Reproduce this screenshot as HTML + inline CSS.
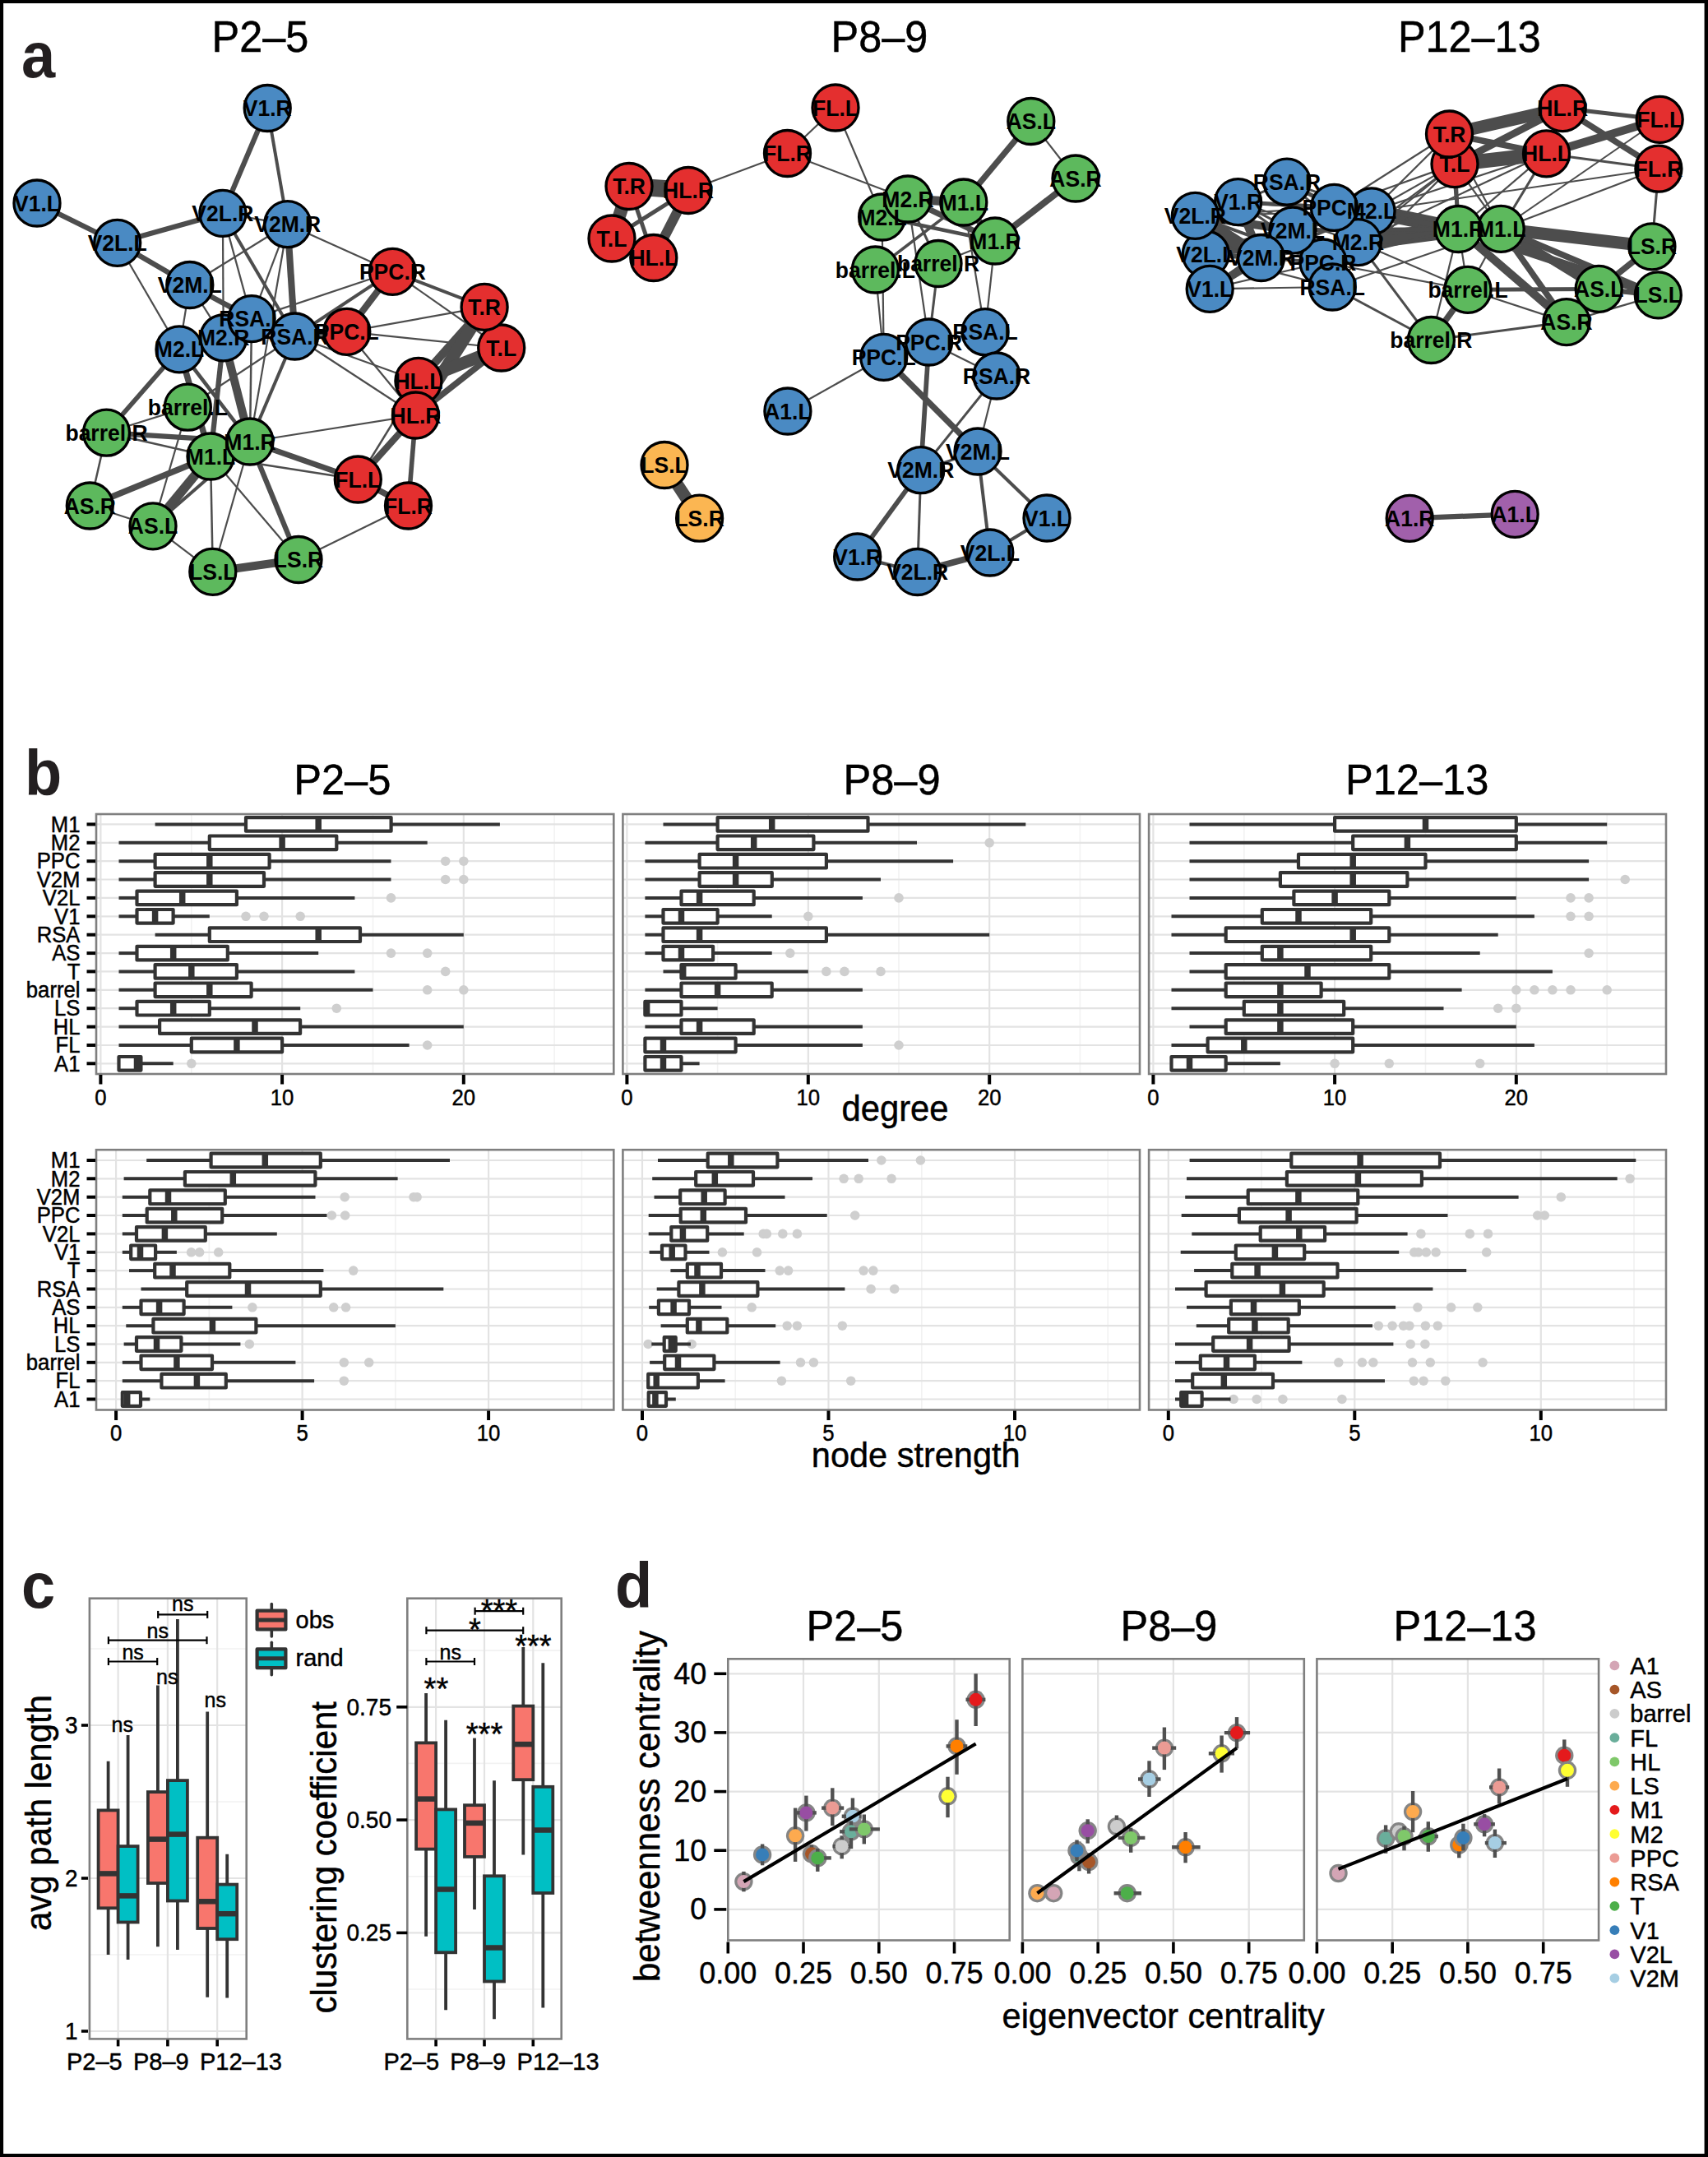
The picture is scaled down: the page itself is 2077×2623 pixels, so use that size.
<!DOCTYPE html>
<html><head><meta charset="utf-8"><style>
html,body{margin:0;padding:0;background:#fff;}
svg{display:block;font-family:"Liberation Sans", sans-serif;}
</style></head><body>
<svg width="2077" height="2623" viewBox="0 0 2077 2623">
<rect x="0" y="0" width="2077" height="2623" fill="#fff"/>
<text transform="translate(26.0,94.0) scale(1,1.042)" font-size="74" text-anchor="start" font-weight="bold" fill="#231f20" >a</text>
<text transform="translate(30.0,967.0) scale(1,1.042)" font-size="74" text-anchor="start" font-weight="bold" fill="#231f20" >b</text>
<text transform="translate(26.0,1955.0) scale(1,1.042)" font-size="74" text-anchor="start" font-weight="bold" fill="#231f20" >c</text>
<text transform="translate(748.0,1955.0) scale(1,1.042)" font-size="74" text-anchor="start" font-weight="bold" fill="#231f20" >d</text>
<text transform="translate(316.4,63.3) scale(1,1.05)" font-size="50.4" text-anchor="middle" font-weight="normal" fill="#000" stroke="#000" stroke-width="0.45" >P2–5</text>
<text transform="translate(1069.4,63.3) scale(1,1.05)" font-size="50.4" text-anchor="middle" font-weight="normal" fill="#000" stroke="#000" stroke-width="0.45" >P8–9</text>
<text transform="translate(1786.8,63.3) scale(1,1.05)" font-size="50.4" text-anchor="middle" font-weight="normal" fill="#000" stroke="#000" stroke-width="0.45" >P12–13</text>
<text transform="translate(416.3,966.3) scale(1,1.04)" font-size="50.6" text-anchor="middle" font-weight="normal" fill="#000" stroke="#000" stroke-width="0.45" >P2–5</text>
<text transform="translate(1084.5,966.3) scale(1,1.04)" font-size="50.6" text-anchor="middle" font-weight="normal" fill="#000" stroke="#000" stroke-width="0.45" >P8–9</text>
<text transform="translate(1723.1,966.3) scale(1,1.04)" font-size="50.6" text-anchor="middle" font-weight="normal" fill="#000" stroke="#000" stroke-width="0.45" >P12–13</text>
<text transform="translate(1039.4,1994.5) scale(1,1.04)" font-size="50.5" text-anchor="middle" font-weight="normal" fill="#000" stroke="#000" stroke-width="0.45" >P2–5</text>
<text transform="translate(1421.5,1994.5) scale(1,1.04)" font-size="50.5" text-anchor="middle" font-weight="normal" fill="#000" stroke="#000" stroke-width="0.45" >P8–9</text>
<text transform="translate(1781.5,1994.5) scale(1,1.04)" font-size="50.5" text-anchor="middle" font-weight="normal" fill="#000" stroke="#000" stroke-width="0.45" >P12–13</text>
<g>
<line x1="45.0" y1="247.0" x2="142.7" y2="295.3" stroke="#4d4d4d" stroke-width="6.25" />
<line x1="142.7" y1="295.3" x2="270.9" y2="259.4" stroke="#4d4d4d" stroke-width="6.25" />
<line x1="142.7" y1="295.3" x2="230.8" y2="346.5" stroke="#4d4d4d" stroke-width="6.25" />
<line x1="142.7" y1="295.3" x2="218.0" y2="424.9" stroke="#4d4d4d" stroke-width="2.2" />
<line x1="270.9" y1="259.4" x2="325.2" y2="131.5" stroke="#4d4d4d" stroke-width="6.25" />
<line x1="325.2" y1="131.5" x2="349.7" y2="272.7" stroke="#4d4d4d" stroke-width="4.0" />
<line x1="270.9" y1="259.4" x2="349.7" y2="272.7" stroke="#4d4d4d" stroke-width="2.2" />
<line x1="270.9" y1="259.4" x2="271.7" y2="410.8" stroke="#4d4d4d" stroke-width="2.2" />
<line x1="270.9" y1="259.4" x2="306.0" y2="387.6" stroke="#4d4d4d" stroke-width="2.2" />
<line x1="270.9" y1="259.4" x2="358.5" y2="409.0" stroke="#4d4d4d" stroke-width="4.0" />
<line x1="349.7" y1="272.7" x2="230.8" y2="346.5" stroke="#4d4d4d" stroke-width="2.2" />
<line x1="349.7" y1="272.7" x2="306.0" y2="387.6" stroke="#4d4d4d" stroke-width="2.2" />
<line x1="349.7" y1="272.7" x2="304.0" y2="537.0" stroke="#4d4d4d" stroke-width="2.2" />
<line x1="349.7" y1="272.7" x2="358.5" y2="409.0" stroke="#4d4d4d" stroke-width="8.12" />
<line x1="349.7" y1="272.7" x2="477.4" y2="330.3" stroke="#4d4d4d" stroke-width="2.2" />
<line x1="230.8" y1="346.5" x2="306.0" y2="387.6" stroke="#4d4d4d" stroke-width="6.25" />
<line x1="230.8" y1="346.5" x2="218.0" y2="424.9" stroke="#4d4d4d" stroke-width="2.2" />
<line x1="230.8" y1="346.5" x2="271.7" y2="410.8" stroke="#4d4d4d" stroke-width="2.2" />
<line x1="230.8" y1="346.5" x2="358.5" y2="409.0" stroke="#4d4d4d" stroke-width="2.2" />
<line x1="218.0" y1="424.9" x2="129.5" y2="526.2" stroke="#4d4d4d" stroke-width="5.62" />
<line x1="218.0" y1="424.9" x2="256.0" y2="555.0" stroke="#4d4d4d" stroke-width="7.5" />
<line x1="218.0" y1="424.9" x2="304.0" y2="537.0" stroke="#4d4d4d" stroke-width="4.5" />
<line x1="271.7" y1="410.8" x2="256.0" y2="555.0" stroke="#4d4d4d" stroke-width="6.25" />
<line x1="271.7" y1="410.8" x2="304.0" y2="537.0" stroke="#4d4d4d" stroke-width="10.0" />
<line x1="306.0" y1="387.6" x2="304.0" y2="537.0" stroke="#4d4d4d" stroke-width="2.5" />
<line x1="358.5" y1="409.0" x2="304.0" y2="537.0" stroke="#4d4d4d" stroke-width="4.0" />
<line x1="358.5" y1="409.0" x2="228.3" y2="495.2" stroke="#4d4d4d" stroke-width="2.2" />
<line x1="129.5" y1="526.2" x2="228.3" y2="495.2" stroke="#4d4d4d" stroke-width="2.2" />
<line x1="129.5" y1="526.2" x2="304.0" y2="537.0" stroke="#4d4d4d" stroke-width="6.25" />
<line x1="129.5" y1="526.2" x2="256.0" y2="555.0" stroke="#4d4d4d" stroke-width="2.5" />
<line x1="129.5" y1="526.2" x2="109.3" y2="615.0" stroke="#4d4d4d" stroke-width="2.5" />
<line x1="304.0" y1="537.0" x2="505.5" y2="505.0" stroke="#4d4d4d" stroke-width="2.2" />
<line x1="304.0" y1="537.0" x2="435.3" y2="583.0" stroke="#4d4d4d" stroke-width="6.88" />
<line x1="256.0" y1="555.0" x2="435.3" y2="583.0" stroke="#4d4d4d" stroke-width="2.5" />
<line x1="477.4" y1="330.3" x2="358.5" y2="409.0" stroke="#4d4d4d" stroke-width="4.0" />
<line x1="477.4" y1="330.3" x2="306.0" y2="387.6" stroke="#4d4d4d" stroke-width="2.2" />
<line x1="477.4" y1="330.3" x2="421.8" y2="403.3" stroke="#4d4d4d" stroke-width="8.12" />
<line x1="477.4" y1="330.3" x2="589.1" y2="373.4" stroke="#4d4d4d" stroke-width="4.0" />
<line x1="477.4" y1="330.3" x2="609.7" y2="423.0" stroke="#4d4d4d" stroke-width="2.2" />
<line x1="421.8" y1="403.3" x2="589.1" y2="373.4" stroke="#4d4d4d" stroke-width="2.2" />
<line x1="421.8" y1="403.3" x2="609.7" y2="423.0" stroke="#4d4d4d" stroke-width="2.2" />
<line x1="358.5" y1="409.0" x2="508.9" y2="463.3" stroke="#4d4d4d" stroke-width="2.2" />
<line x1="358.5" y1="409.0" x2="505.5" y2="505.0" stroke="#4d4d4d" stroke-width="2.2" />
<line x1="421.8" y1="403.3" x2="505.5" y2="505.0" stroke="#4d4d4d" stroke-width="2.2" />
<line x1="589.1" y1="373.4" x2="508.9" y2="463.3" stroke="#4d4d4d" stroke-width="10.0" />
<line x1="589.1" y1="373.4" x2="505.5" y2="505.0" stroke="#4d4d4d" stroke-width="15.0" />
<line x1="609.7" y1="423.0" x2="508.9" y2="463.3" stroke="#4d4d4d" stroke-width="15.0" />
<line x1="609.7" y1="423.0" x2="505.5" y2="505.0" stroke="#4d4d4d" stroke-width="7.5" />
<line x1="505.5" y1="505.0" x2="435.3" y2="583.0" stroke="#4d4d4d" stroke-width="8.12" />
<line x1="508.9" y1="463.3" x2="435.3" y2="583.0" stroke="#4d4d4d" stroke-width="2.5" />
<line x1="505.5" y1="505.0" x2="496.5" y2="615.0" stroke="#4d4d4d" stroke-width="5.62" />
<line x1="435.3" y1="583.0" x2="496.5" y2="615.0" stroke="#4d4d4d" stroke-width="7.5" />
<line x1="109.3" y1="615.0" x2="256.0" y2="555.0" stroke="#4d4d4d" stroke-width="7.5" />
<line x1="109.3" y1="615.0" x2="186.0" y2="639.8" stroke="#4d4d4d" stroke-width="2.2" />
<line x1="186.0" y1="639.8" x2="256.0" y2="555.0" stroke="#4d4d4d" stroke-width="11.25" />
<line x1="186.0" y1="639.8" x2="304.0" y2="537.0" stroke="#4d4d4d" stroke-width="4.0" />
<line x1="186.0" y1="639.8" x2="228.3" y2="495.2" stroke="#4d4d4d" stroke-width="2.2" />
<line x1="186.0" y1="639.8" x2="258.8" y2="695.3" stroke="#4d4d4d" stroke-width="2.2" />
<line x1="256.0" y1="555.0" x2="258.8" y2="695.3" stroke="#4d4d4d" stroke-width="2.5" />
<line x1="304.0" y1="537.0" x2="258.8" y2="695.3" stroke="#4d4d4d" stroke-width="2.2" />
<line x1="256.0" y1="555.0" x2="363.0" y2="680.5" stroke="#4d4d4d" stroke-width="2.2" />
<line x1="304.0" y1="537.0" x2="363.0" y2="680.5" stroke="#4d4d4d" stroke-width="6.25" />
<line x1="258.8" y1="695.3" x2="363.0" y2="680.5" stroke="#4d4d4d" stroke-width="10.0" />
<line x1="363.0" y1="680.5" x2="496.5" y2="615.0" stroke="#4d4d4d" stroke-width="2.2" />
<line x1="306.0" y1="387.6" x2="358.5" y2="409.0" stroke="#4d4d4d" stroke-width="3" />
<line x1="589.1" y1="373.4" x2="609.7" y2="423.0" stroke="#4d4d4d" stroke-width="5.0" />
<line x1="508.9" y1="463.3" x2="505.5" y2="505.0" stroke="#4d4d4d" stroke-width="5.0" />
<line x1="358.5" y1="409.0" x2="421.8" y2="403.3" stroke="#4d4d4d" stroke-width="5.0" />
</g>
<circle cx="186.0" cy="639.8" r="28.0" fill="#5db95d" stroke="#000" stroke-width="3.3" />
<circle cx="109.3" cy="615.0" r="28.0" fill="#5db95d" stroke="#000" stroke-width="3.3" />
<circle cx="228.3" cy="495.2" r="28.0" fill="#5db95d" stroke="#000" stroke-width="3.3" />
<circle cx="129.5" cy="526.2" r="28.0" fill="#5db95d" stroke="#000" stroke-width="3.3" />
<circle cx="435.3" cy="583.0" r="28.0" fill="#e42f2f" stroke="#000" stroke-width="3.3" />
<circle cx="496.5" cy="615.0" r="28.0" fill="#e42f2f" stroke="#000" stroke-width="3.3" />
<circle cx="508.9" cy="463.3" r="28.0" fill="#e42f2f" stroke="#000" stroke-width="3.3" />
<circle cx="505.5" cy="505.0" r="28.0" fill="#e42f2f" stroke="#000" stroke-width="3.3" />
<circle cx="258.8" cy="695.3" r="28.0" fill="#5db95d" stroke="#000" stroke-width="3.3" />
<circle cx="363.0" cy="680.5" r="28.0" fill="#5db95d" stroke="#000" stroke-width="3.3" />
<circle cx="256.0" cy="555.0" r="28.0" fill="#5db95d" stroke="#000" stroke-width="3.3" />
<circle cx="304.0" cy="537.0" r="28.0" fill="#5db95d" stroke="#000" stroke-width="3.3" />
<circle cx="218.0" cy="424.9" r="28.0" fill="#4a8ac3" stroke="#000" stroke-width="3.3" />
<circle cx="271.7" cy="410.8" r="28.0" fill="#4a8ac3" stroke="#000" stroke-width="3.3" />
<circle cx="421.8" cy="403.3" r="28.0" fill="#e42f2f" stroke="#000" stroke-width="3.3" />
<circle cx="477.4" cy="330.3" r="28.0" fill="#e42f2f" stroke="#000" stroke-width="3.3" />
<circle cx="306.0" cy="387.6" r="28.0" fill="#4a8ac3" stroke="#000" stroke-width="3.3" />
<circle cx="358.5" cy="409.0" r="28.0" fill="#4a8ac3" stroke="#000" stroke-width="3.3" />
<circle cx="609.7" cy="423.0" r="28.0" fill="#e42f2f" stroke="#000" stroke-width="3.3" />
<circle cx="589.1" cy="373.4" r="28.0" fill="#e42f2f" stroke="#000" stroke-width="3.3" />
<circle cx="45.0" cy="247.0" r="28.0" fill="#4a8ac3" stroke="#000" stroke-width="3.3" />
<circle cx="325.2" cy="131.5" r="28.0" fill="#4a8ac3" stroke="#000" stroke-width="3.3" />
<circle cx="142.7" cy="295.3" r="28.0" fill="#4a8ac3" stroke="#000" stroke-width="3.3" />
<circle cx="270.9" cy="259.4" r="28.0" fill="#4a8ac3" stroke="#000" stroke-width="3.3" />
<circle cx="230.8" cy="346.5" r="28.0" fill="#4a8ac3" stroke="#000" stroke-width="3.3" />
<circle cx="349.7" cy="272.7" r="28.0" fill="#4a8ac3" stroke="#000" stroke-width="3.3" />
<text transform="translate(325.2,141.0) scale(1,1.042)" font-size="26.5" text-anchor="middle" font-weight="bold" fill="#000" >V1.R</text>
<text transform="translate(45.0,256.5) scale(1,1.042)" font-size="26.5" text-anchor="middle" font-weight="bold" fill="#000" >V1.L</text>
<text transform="translate(270.9,268.9) scale(1,1.042)" font-size="26.5" text-anchor="middle" font-weight="bold" fill="#000" >V2L.R</text>
<text transform="translate(349.7,282.2) scale(1,1.042)" font-size="26.5" text-anchor="middle" font-weight="bold" fill="#000" >V2M.R</text>
<text transform="translate(142.7,304.8) scale(1,1.042)" font-size="26.5" text-anchor="middle" font-weight="bold" fill="#000" >V2L.L</text>
<text transform="translate(230.8,356.0) scale(1,1.042)" font-size="26.5" text-anchor="middle" font-weight="bold" fill="#000" >V2M.L</text>
<text transform="translate(477.4,339.8) scale(1,1.042)" font-size="26.5" text-anchor="middle" font-weight="bold" fill="#000" >PPC.R</text>
<text transform="translate(589.1,382.9) scale(1,1.042)" font-size="26.5" text-anchor="middle" font-weight="bold" fill="#000" >T.R</text>
<text transform="translate(306.0,397.1) scale(1,1.042)" font-size="26.5" text-anchor="middle" font-weight="bold" fill="#000" >RSA.L</text>
<text transform="translate(271.7,420.3) scale(1,1.042)" font-size="26.5" text-anchor="middle" font-weight="bold" fill="#000" >M2.R</text>
<text transform="translate(358.5,418.5) scale(1,1.042)" font-size="26.5" text-anchor="middle" font-weight="bold" fill="#000" >RSA.R</text>
<text transform="translate(421.8,412.8) scale(1,1.042)" font-size="26.5" text-anchor="middle" font-weight="bold" fill="#000" >PPC.L</text>
<text transform="translate(218.0,434.4) scale(1,1.042)" font-size="26.5" text-anchor="middle" font-weight="bold" fill="#000" >M2.L</text>
<text transform="translate(609.7,432.5) scale(1,1.042)" font-size="26.5" text-anchor="middle" font-weight="bold" fill="#000" >T.L</text>
<text transform="translate(508.9,472.8) scale(1,1.042)" font-size="26.5" text-anchor="middle" font-weight="bold" fill="#000" >HL.L</text>
<text transform="translate(505.5,514.5) scale(1,1.042)" font-size="26.5" text-anchor="middle" font-weight="bold" fill="#000" >HL.R</text>
<text transform="translate(228.3,504.7) scale(1,1.042)" font-size="26.5" text-anchor="middle" font-weight="bold" fill="#000" >barrel.L</text>
<text transform="translate(129.5,535.7) scale(1,1.042)" font-size="26.5" text-anchor="middle" font-weight="bold" fill="#000" >barrel.R</text>
<text transform="translate(304.0,546.5) scale(1,1.042)" font-size="26.5" text-anchor="middle" font-weight="bold" fill="#000" >M1.R</text>
<text transform="translate(256.0,564.5) scale(1,1.042)" font-size="26.5" text-anchor="middle" font-weight="bold" fill="#000" >M1.L</text>
<text transform="translate(435.3,592.5) scale(1,1.042)" font-size="26.5" text-anchor="middle" font-weight="bold" fill="#000" >FL.L</text>
<text transform="translate(496.5,624.5) scale(1,1.042)" font-size="26.5" text-anchor="middle" font-weight="bold" fill="#000" >FL.R</text>
<text transform="translate(109.3,624.5) scale(1,1.042)" font-size="26.5" text-anchor="middle" font-weight="bold" fill="#000" >AS.R</text>
<text transform="translate(186.0,649.3) scale(1,1.042)" font-size="26.5" text-anchor="middle" font-weight="bold" fill="#000" >AS.L</text>
<text transform="translate(258.8,704.8) scale(1,1.042)" font-size="26.5" text-anchor="middle" font-weight="bold" fill="#000" >LS.L</text>
<text transform="translate(363.0,690.0) scale(1,1.042)" font-size="26.5" text-anchor="middle" font-weight="bold" fill="#000" >LS.R</text>
<g>
<line x1="1016.0" y1="131.0" x2="957.5" y2="186.5" stroke="#4d4d4d" stroke-width="2.2" />
<line x1="1016.0" y1="131.0" x2="1072.6" y2="264.0" stroke="#4d4d4d" stroke-width="2.2" />
<line x1="957.5" y1="186.5" x2="837.0" y2="231.5" stroke="#4d4d4d" stroke-width="2.2" />
<line x1="957.5" y1="186.5" x2="1104.0" y2="242.0" stroke="#4d4d4d" stroke-width="2.2" />
<line x1="765.0" y1="226.5" x2="837.0" y2="231.5" stroke="#4d4d4d" stroke-width="21" />
<line x1="765.0" y1="226.5" x2="744.0" y2="290.0" stroke="#4d4d4d" stroke-width="16" />
<line x1="765.0" y1="226.5" x2="794.8" y2="313.5" stroke="#4d4d4d" stroke-width="5" />
<line x1="744.0" y1="290.0" x2="837.0" y2="231.5" stroke="#4d4d4d" stroke-width="5" />
<line x1="837.0" y1="231.5" x2="794.8" y2="313.5" stroke="#4d4d4d" stroke-width="12" />
<line x1="1253.8" y1="147.5" x2="1308.0" y2="217.0" stroke="#4d4d4d" stroke-width="2.2" />
<line x1="1253.8" y1="147.5" x2="1171.8" y2="246.0" stroke="#4d4d4d" stroke-width="7.4" />
<line x1="1308.0" y1="217.0" x2="1210.0" y2="293.0" stroke="#4d4d4d" stroke-width="8" />
<line x1="1104.0" y1="242.0" x2="1171.8" y2="246.0" stroke="#4d4d4d" stroke-width="11" />
<line x1="1104.0" y1="242.0" x2="1210.0" y2="293.0" stroke="#4d4d4d" stroke-width="7" />
<line x1="1072.6" y1="264.0" x2="1210.0" y2="293.0" stroke="#4d4d4d" stroke-width="4.5" />
<line x1="1171.8" y1="246.0" x2="1064.4" y2="328.0" stroke="#4d4d4d" stroke-width="3.5" />
<line x1="1104.0" y1="242.0" x2="1141.0" y2="320.5" stroke="#4d4d4d" stroke-width="3" />
<line x1="1210.0" y1="293.0" x2="1141.0" y2="320.5" stroke="#4d4d4d" stroke-width="2.2" />
<line x1="1072.6" y1="264.0" x2="1074.7" y2="434.4" stroke="#4d4d4d" stroke-width="2.2" />
<line x1="1064.4" y1="328.0" x2="1074.7" y2="434.4" stroke="#4d4d4d" stroke-width="2.2" />
<line x1="1104.0" y1="242.0" x2="1129.6" y2="416.0" stroke="#4d4d4d" stroke-width="2.2" />
<line x1="1141.0" y1="320.5" x2="1129.6" y2="416.0" stroke="#4d4d4d" stroke-width="3" />
<line x1="1171.8" y1="246.0" x2="1198.0" y2="403.7" stroke="#4d4d4d" stroke-width="2.2" />
<line x1="1210.0" y1="293.0" x2="1198.0" y2="403.7" stroke="#4d4d4d" stroke-width="2.2" />
<line x1="1129.6" y1="416.0" x2="1212.0" y2="457.0" stroke="#4d4d4d" stroke-width="2.5" />
<line x1="1198.0" y1="403.7" x2="1212.0" y2="457.0" stroke="#4d4d4d" stroke-width="10" />
<line x1="1074.7" y1="434.4" x2="1129.6" y2="416.0" stroke="#4d4d4d" stroke-width="3" />
<line x1="1074.7" y1="434.4" x2="957.9" y2="500.0" stroke="#4d4d4d" stroke-width="2.2" />
<line x1="1074.7" y1="434.4" x2="1189.0" y2="549.0" stroke="#4d4d4d" stroke-width="7.4" />
<line x1="1129.6" y1="416.0" x2="1119.8" y2="571.7" stroke="#4d4d4d" stroke-width="5.7" />
<line x1="1212.0" y1="457.0" x2="1119.8" y2="571.7" stroke="#4d4d4d" stroke-width="3" />
<line x1="1212.0" y1="457.0" x2="1189.0" y2="549.0" stroke="#4d4d4d" stroke-width="2.2" />
<line x1="1119.8" y1="571.7" x2="1189.0" y2="549.0" stroke="#4d4d4d" stroke-width="3" />
<line x1="1119.8" y1="571.7" x2="1042.7" y2="677.0" stroke="#4d4d4d" stroke-width="5.7" />
<line x1="1119.8" y1="571.7" x2="1115.7" y2="695.5" stroke="#4d4d4d" stroke-width="3" />
<line x1="1189.0" y1="549.0" x2="1203.8" y2="672.0" stroke="#4d4d4d" stroke-width="4" />
<line x1="1189.0" y1="549.0" x2="1273.0" y2="630.0" stroke="#4d4d4d" stroke-width="4" />
<line x1="1273.0" y1="630.0" x2="1203.8" y2="672.0" stroke="#4d4d4d" stroke-width="4" />
<line x1="1203.8" y1="672.0" x2="1115.7" y2="695.5" stroke="#4d4d4d" stroke-width="8" />
<line x1="1042.7" y1="677.0" x2="1115.7" y2="695.5" stroke="#4d4d4d" stroke-width="4" />
<line x1="808.0" y1="565.5" x2="850.6" y2="630.2" stroke="#4d4d4d" stroke-width="15" />
<line x1="1129.6" y1="416.0" x2="1198.0" y2="403.7" stroke="#4d4d4d" stroke-width="2.5" />
<line x1="1171.8" y1="246.0" x2="1210.0" y2="293.0" stroke="#4d4d4d" stroke-width="8" />
</g>
<circle cx="957.9" cy="500.0" r="28.0" fill="#4a8ac3" stroke="#000" stroke-width="3.3" />
<circle cx="1253.8" cy="147.5" r="28.0" fill="#5db95d" stroke="#000" stroke-width="3.3" />
<circle cx="1308.0" cy="217.0" r="28.0" fill="#5db95d" stroke="#000" stroke-width="3.3" />
<circle cx="1064.4" cy="328.0" r="28.0" fill="#5db95d" stroke="#000" stroke-width="3.3" />
<circle cx="1141.0" cy="320.5" r="28.0" fill="#5db95d" stroke="#000" stroke-width="3.3" />
<circle cx="1016.0" cy="131.0" r="28.0" fill="#e42f2f" stroke="#000" stroke-width="3.3" />
<circle cx="957.5" cy="186.5" r="28.0" fill="#e42f2f" stroke="#000" stroke-width="3.3" />
<circle cx="794.8" cy="313.5" r="28.0" fill="#e42f2f" stroke="#000" stroke-width="3.3" />
<circle cx="837.0" cy="231.5" r="28.0" fill="#e42f2f" stroke="#000" stroke-width="3.3" />
<circle cx="808.0" cy="565.5" r="28.0" fill="#fbb652" stroke="#000" stroke-width="3.3" />
<circle cx="850.6" cy="630.2" r="28.0" fill="#fbb652" stroke="#000" stroke-width="3.3" />
<circle cx="1171.8" cy="246.0" r="28.0" fill="#5db95d" stroke="#000" stroke-width="3.3" />
<circle cx="1210.0" cy="293.0" r="28.0" fill="#5db95d" stroke="#000" stroke-width="3.3" />
<circle cx="1072.6" cy="264.0" r="28.0" fill="#5db95d" stroke="#000" stroke-width="3.3" />
<circle cx="1104.0" cy="242.0" r="28.0" fill="#5db95d" stroke="#000" stroke-width="3.3" />
<circle cx="1074.7" cy="434.4" r="28.0" fill="#4a8ac3" stroke="#000" stroke-width="3.3" />
<circle cx="1129.6" cy="416.0" r="28.0" fill="#4a8ac3" stroke="#000" stroke-width="3.3" />
<circle cx="1198.0" cy="403.7" r="28.0" fill="#4a8ac3" stroke="#000" stroke-width="3.3" />
<circle cx="1212.0" cy="457.0" r="28.0" fill="#4a8ac3" stroke="#000" stroke-width="3.3" />
<circle cx="744.0" cy="290.0" r="28.0" fill="#e42f2f" stroke="#000" stroke-width="3.3" />
<circle cx="765.0" cy="226.5" r="28.0" fill="#e42f2f" stroke="#000" stroke-width="3.3" />
<circle cx="1273.0" cy="630.0" r="28.0" fill="#4a8ac3" stroke="#000" stroke-width="3.3" />
<circle cx="1042.7" cy="677.0" r="28.0" fill="#4a8ac3" stroke="#000" stroke-width="3.3" />
<circle cx="1203.8" cy="672.0" r="28.0" fill="#4a8ac3" stroke="#000" stroke-width="3.3" />
<circle cx="1115.7" cy="695.5" r="28.0" fill="#4a8ac3" stroke="#000" stroke-width="3.3" />
<circle cx="1189.0" cy="549.0" r="28.0" fill="#4a8ac3" stroke="#000" stroke-width="3.3" />
<circle cx="1119.8" cy="571.7" r="28.0" fill="#4a8ac3" stroke="#000" stroke-width="3.3" />
<text transform="translate(1016.0,140.5) scale(1,1.042)" font-size="26.5" text-anchor="middle" font-weight="bold" fill="#000" >FL.L</text>
<text transform="translate(1253.8,157.0) scale(1,1.042)" font-size="26.5" text-anchor="middle" font-weight="bold" fill="#000" >AS.L</text>
<text transform="translate(957.5,196.0) scale(1,1.042)" font-size="26.5" text-anchor="middle" font-weight="bold" fill="#000" >FL.R</text>
<text transform="translate(1308.0,226.5) scale(1,1.042)" font-size="26.5" text-anchor="middle" font-weight="bold" fill="#000" >AS.R</text>
<text transform="translate(765.0,236.0) scale(1,1.042)" font-size="26.5" text-anchor="middle" font-weight="bold" fill="#000" >T.R</text>
<text transform="translate(837.0,241.0) scale(1,1.042)" font-size="26.5" text-anchor="middle" font-weight="bold" fill="#000" >HL.R</text>
<text transform="translate(1104.0,251.5) scale(1,1.042)" font-size="26.5" text-anchor="middle" font-weight="bold" fill="#000" >M2.R</text>
<text transform="translate(1171.8,255.5) scale(1,1.042)" font-size="26.5" text-anchor="middle" font-weight="bold" fill="#000" >M1.L</text>
<text transform="translate(1072.6,273.5) scale(1,1.042)" font-size="26.5" text-anchor="middle" font-weight="bold" fill="#000" >M2.L</text>
<text transform="translate(744.0,299.5) scale(1,1.042)" font-size="26.5" text-anchor="middle" font-weight="bold" fill="#000" >T.L</text>
<text transform="translate(1210.0,302.5) scale(1,1.042)" font-size="26.5" text-anchor="middle" font-weight="bold" fill="#000" >M1.R</text>
<text transform="translate(794.8,323.0) scale(1,1.042)" font-size="26.5" text-anchor="middle" font-weight="bold" fill="#000" >HL.L</text>
<text transform="translate(1064.4,337.5) scale(1,1.042)" font-size="26.5" text-anchor="middle" font-weight="bold" fill="#000" >barrel.L</text>
<text transform="translate(1141.0,330.0) scale(1,1.042)" font-size="26.5" text-anchor="middle" font-weight="bold" fill="#000" >barrel.R</text>
<text transform="translate(1198.0,413.2) scale(1,1.042)" font-size="26.5" text-anchor="middle" font-weight="bold" fill="#000" >RSA.L</text>
<text transform="translate(1129.6,425.5) scale(1,1.042)" font-size="26.5" text-anchor="middle" font-weight="bold" fill="#000" >PPC.R</text>
<text transform="translate(1074.7,443.9) scale(1,1.042)" font-size="26.5" text-anchor="middle" font-weight="bold" fill="#000" >PPC.L</text>
<text transform="translate(1212.0,466.5) scale(1,1.042)" font-size="26.5" text-anchor="middle" font-weight="bold" fill="#000" >RSA.R</text>
<text transform="translate(957.9,509.5) scale(1,1.042)" font-size="26.5" text-anchor="middle" font-weight="bold" fill="#000" >A1.L</text>
<text transform="translate(1189.0,558.5) scale(1,1.042)" font-size="26.5" text-anchor="middle" font-weight="bold" fill="#000" >V2M.L</text>
<text transform="translate(1119.8,581.2) scale(1,1.042)" font-size="26.5" text-anchor="middle" font-weight="bold" fill="#000" >V2M.R</text>
<text transform="translate(808.0,575.0) scale(1,1.042)" font-size="26.5" text-anchor="middle" font-weight="bold" fill="#000" >LS.L</text>
<text transform="translate(850.6,639.7) scale(1,1.042)" font-size="26.5" text-anchor="middle" font-weight="bold" fill="#000" >LS.R</text>
<text transform="translate(1273.0,639.5) scale(1,1.042)" font-size="26.5" text-anchor="middle" font-weight="bold" fill="#000" >V1.L</text>
<text transform="translate(1203.8,681.5) scale(1,1.042)" font-size="26.5" text-anchor="middle" font-weight="bold" fill="#000" >V2L.L</text>
<text transform="translate(1042.7,686.5) scale(1,1.042)" font-size="26.5" text-anchor="middle" font-weight="bold" fill="#000" >V1.R</text>
<text transform="translate(1115.7,705.0) scale(1,1.042)" font-size="26.5" text-anchor="middle" font-weight="bold" fill="#000" >V2L.R</text>
<g>
<line x1="1762.5" y1="163.0" x2="1900.2" y2="131.6" stroke="#4d4d4d" stroke-width="15.0" />
<line x1="1769.0" y1="199.6" x2="1900.2" y2="131.6" stroke="#4d4d4d" stroke-width="8.75" />
<line x1="1762.5" y1="163.0" x2="1880.5" y2="186.9" stroke="#4d4d4d" stroke-width="7.5" />
<line x1="1769.0" y1="199.6" x2="1880.5" y2="186.9" stroke="#4d4d4d" stroke-width="17.5" />
<line x1="1900.2" y1="131.6" x2="2018.2" y2="145.3" stroke="#4d4d4d" stroke-width="5.0" />
<line x1="1900.2" y1="131.6" x2="2016.9" y2="205.2" stroke="#4d4d4d" stroke-width="7.5" />
<line x1="1880.5" y1="186.9" x2="2018.2" y2="145.3" stroke="#4d4d4d" stroke-width="10.0" />
<line x1="1880.5" y1="186.9" x2="2016.9" y2="205.2" stroke="#4d4d4d" stroke-width="3" />
<line x1="1825.2" y1="278.3" x2="2018.2" y2="145.3" stroke="#4d4d4d" stroke-width="2" />
<line x1="1825.2" y1="278.3" x2="2016.9" y2="205.2" stroke="#4d4d4d" stroke-width="2.2" />
<line x1="2016.9" y1="205.2" x2="2008.9" y2="299.8" stroke="#4d4d4d" stroke-width="3" />
<line x1="1769.0" y1="199.6" x2="1773.5" y2="278.5" stroke="#4d4d4d" stroke-width="5.0" />
<line x1="1773.5" y1="278.5" x2="1880.5" y2="186.9" stroke="#4d4d4d" stroke-width="2.2" />
<line x1="1825.2" y1="278.3" x2="1880.5" y2="186.9" stroke="#4d4d4d" stroke-width="3" />
<line x1="1825.2" y1="278.3" x2="1769.0" y2="199.6" stroke="#4d4d4d" stroke-width="2.2" />
<line x1="1773.5" y1="278.5" x2="1762.5" y2="163.0" stroke="#4d4d4d" stroke-width="2.2" />
<line x1="1825.2" y1="278.3" x2="2008.9" y2="299.8" stroke="#4d4d4d" stroke-width="15" />
<line x1="1773.5" y1="278.5" x2="2016.3" y2="358.9" stroke="#4d4d4d" stroke-width="10.0" />
<line x1="1825.2" y1="278.3" x2="1944.2" y2="351.4" stroke="#4d4d4d" stroke-width="10.0" />
<line x1="1773.5" y1="278.5" x2="1904.9" y2="391.6" stroke="#4d4d4d" stroke-width="10.0" />
<line x1="1825.2" y1="278.3" x2="1904.9" y2="391.6" stroke="#4d4d4d" stroke-width="7.5" />
<line x1="1825.2" y1="278.3" x2="2016.3" y2="358.9" stroke="#4d4d4d" stroke-width="7.5" />
<line x1="1944.2" y1="351.4" x2="2008.9" y2="299.8" stroke="#4d4d4d" stroke-width="7.5" />
<line x1="1944.2" y1="351.4" x2="2016.3" y2="358.9" stroke="#4d4d4d" stroke-width="6.25" />
<line x1="1904.9" y1="391.6" x2="2016.3" y2="358.9" stroke="#4d4d4d" stroke-width="2.2" />
<line x1="1785.0" y1="352.3" x2="1944.2" y2="351.4" stroke="#4d4d4d" stroke-width="5.0" />
<line x1="1785.0" y1="352.3" x2="1904.9" y2="391.6" stroke="#4d4d4d" stroke-width="2.2" />
<line x1="1740.4" y1="413.5" x2="1904.9" y2="391.6" stroke="#4d4d4d" stroke-width="3" />
<line x1="1785.0" y1="352.3" x2="1740.4" y2="413.5" stroke="#4d4d4d" stroke-width="7.5" />
<line x1="1773.5" y1="278.5" x2="1785.0" y2="352.3" stroke="#4d4d4d" stroke-width="2.2" />
<line x1="1825.2" y1="278.3" x2="1785.0" y2="352.3" stroke="#4d4d4d" stroke-width="2.2" />
<line x1="1773.5" y1="278.5" x2="1740.4" y2="413.5" stroke="#4d4d4d" stroke-width="2.2" />
<line x1="1668.0" y1="256.8" x2="1773.5" y2="278.5" stroke="#4d4d4d" stroke-width="18" />
<line x1="1651.4" y1="294.6" x2="1773.5" y2="278.5" stroke="#4d4d4d" stroke-width="20" />
<line x1="1651.4" y1="294.6" x2="1825.2" y2="278.3" stroke="#4d4d4d" stroke-width="10.0" />
<line x1="1668.0" y1="256.8" x2="1825.2" y2="278.3" stroke="#4d4d4d" stroke-width="6.25" />
<line x1="1622.4" y1="252.3" x2="1773.5" y2="278.5" stroke="#4d4d4d" stroke-width="6.25" />
<line x1="1609.0" y1="319.0" x2="1773.5" y2="278.5" stroke="#4d4d4d" stroke-width="3" />
<line x1="1572.0" y1="280.1" x2="1773.5" y2="278.5" stroke="#4d4d4d" stroke-width="5.0" />
<line x1="1620.2" y1="349.0" x2="1740.4" y2="413.5" stroke="#4d4d4d" stroke-width="3" />
<line x1="1609.0" y1="319.0" x2="1785.0" y2="352.3" stroke="#4d4d4d" stroke-width="2.2" />
<line x1="1651.4" y1="294.6" x2="1785.0" y2="352.3" stroke="#4d4d4d" stroke-width="2.2" />
<line x1="1620.2" y1="349.0" x2="1825.2" y2="278.3" stroke="#4d4d4d" stroke-width="2.2" />
<line x1="1471.2" y1="351.3" x2="1620.2" y2="349.0" stroke="#4d4d4d" stroke-width="2.2" />
<line x1="1471.2" y1="351.3" x2="1533.5" y2="313.5" stroke="#4d4d4d" stroke-width="10" />
<line x1="1453.4" y1="262.3" x2="1572.0" y2="280.1" stroke="#4d4d4d" stroke-width="10" />
<line x1="1466.3" y1="309.0" x2="1572.0" y2="280.1" stroke="#4d4d4d" stroke-width="12" />
<line x1="1466.3" y1="309.0" x2="1533.5" y2="313.5" stroke="#4d4d4d" stroke-width="6.25" />
<line x1="1453.4" y1="262.3" x2="1466.3" y2="309.0" stroke="#4d4d4d" stroke-width="6.25" />
<line x1="1505.6" y1="245.6" x2="1453.4" y2="262.3" stroke="#4d4d4d" stroke-width="5.0" />
<line x1="1505.6" y1="245.6" x2="1572.0" y2="280.1" stroke="#4d4d4d" stroke-width="3" />
<line x1="1505.6" y1="245.6" x2="1565.0" y2="221.2" stroke="#4d4d4d" stroke-width="3" />
<line x1="1565.0" y1="221.2" x2="1622.4" y2="252.3" stroke="#4d4d4d" stroke-width="5.0" />
<line x1="1565.0" y1="221.2" x2="1668.0" y2="256.8" stroke="#4d4d4d" stroke-width="3" />
<line x1="1572.0" y1="280.1" x2="1668.0" y2="256.8" stroke="#4d4d4d" stroke-width="5.0" />
<line x1="1572.0" y1="280.1" x2="1609.0" y2="319.0" stroke="#4d4d4d" stroke-width="3" />
<line x1="1533.5" y1="313.5" x2="1609.0" y2="319.0" stroke="#4d4d4d" stroke-width="3" />
<line x1="1533.5" y1="313.5" x2="1651.4" y2="294.6" stroke="#4d4d4d" stroke-width="3" />
<line x1="1609.0" y1="319.0" x2="1620.2" y2="349.0" stroke="#4d4d4d" stroke-width="5.0" />
<line x1="1622.4" y1="252.3" x2="1668.0" y2="256.8" stroke="#4d4d4d" stroke-width="5.0" />
<line x1="1668.0" y1="256.8" x2="1651.4" y2="294.6" stroke="#4d4d4d" stroke-width="5.0" />
<line x1="1453.4" y1="262.3" x2="1622.4" y2="252.3" stroke="#4d4d4d" stroke-width="2.2" />
<line x1="1453.4" y1="262.3" x2="1668.0" y2="256.8" stroke="#4d4d4d" stroke-width="2.2" />
<line x1="1505.6" y1="245.6" x2="1651.4" y2="294.6" stroke="#4d4d4d" stroke-width="2.2" />
<line x1="1471.2" y1="351.3" x2="1609.0" y2="319.0" stroke="#4d4d4d" stroke-width="2.2" />
<line x1="1466.3" y1="309.0" x2="1620.2" y2="349.0" stroke="#4d4d4d" stroke-width="2.2" />
<line x1="1622.4" y1="252.3" x2="1762.5" y2="163.0" stroke="#4d4d4d" stroke-width="2.2" />
<line x1="1668.0" y1="256.8" x2="1762.5" y2="163.0" stroke="#4d4d4d" stroke-width="2.2" />
<line x1="1668.0" y1="256.8" x2="1769.0" y2="199.6" stroke="#4d4d4d" stroke-width="2.2" />
<line x1="1609.0" y1="319.0" x2="1769.0" y2="199.6" stroke="#4d4d4d" stroke-width="2.2" />
<line x1="1651.4" y1="294.6" x2="1769.0" y2="199.6" stroke="#4d4d4d" stroke-width="2.2" />
<line x1="1620.2" y1="349.0" x2="1769.0" y2="199.6" stroke="#4d4d4d" stroke-width="2.2" />
<line x1="1651.4" y1="294.6" x2="1880.5" y2="186.9" stroke="#4d4d4d" stroke-width="2.2" />
<line x1="1714.2" y1="630.3" x2="1842.2" y2="625.3" stroke="#4d4d4d" stroke-width="6.25" />
<line x1="1453.4" y1="262.3" x2="1533.5" y2="313.5" stroke="#4d4d4d" stroke-width="16" />
<line x1="1505.6" y1="245.6" x2="1533.5" y2="313.5" stroke="#4d4d4d" stroke-width="10" />
<line x1="1471.2" y1="351.3" x2="1572.0" y2="280.1" stroke="#4d4d4d" stroke-width="6" />
<line x1="1505.6" y1="245.6" x2="1622.4" y2="252.3" stroke="#4d4d4d" stroke-width="5" />
<line x1="1505.6" y1="245.6" x2="1668.0" y2="256.8" stroke="#4d4d4d" stroke-width="4" />
<line x1="1453.4" y1="262.3" x2="1609.0" y2="319.0" stroke="#4d4d4d" stroke-width="4" />
<line x1="1466.3" y1="309.0" x2="1609.0" y2="319.0" stroke="#4d4d4d" stroke-width="4" />
<line x1="1533.5" y1="313.5" x2="1668.0" y2="256.8" stroke="#4d4d4d" stroke-width="4" />
<line x1="1466.3" y1="309.0" x2="1651.4" y2="294.6" stroke="#4d4d4d" stroke-width="4" />
<line x1="1505.6" y1="245.6" x2="1609.0" y2="319.0" stroke="#4d4d4d" stroke-width="3" />
<line x1="1565.0" y1="221.2" x2="1572.0" y2="280.1" stroke="#4d4d4d" stroke-width="5" />
<line x1="1565.0" y1="221.2" x2="1651.4" y2="294.6" stroke="#4d4d4d" stroke-width="3" />
<line x1="1668.0" y1="256.8" x2="1880.5" y2="186.9" stroke="#4d4d4d" stroke-width="2.2" />
<line x1="1622.4" y1="252.3" x2="1769.0" y2="199.6" stroke="#4d4d4d" stroke-width="2.2" />
<line x1="1668.0" y1="256.8" x2="2016.9" y2="205.2" stroke="#4d4d4d" stroke-width="2" />
<line x1="1651.4" y1="294.6" x2="1740.4" y2="413.5" stroke="#4d4d4d" stroke-width="3" />
<line x1="1762.5" y1="163.0" x2="1825.2" y2="278.3" stroke="#4d4d4d" stroke-width="2.2" />
</g>
<circle cx="1842.2" cy="625.3" r="28.0" fill="#a160ab" stroke="#000" stroke-width="3.3" />
<circle cx="1714.2" cy="630.3" r="28.0" fill="#a160ab" stroke="#000" stroke-width="3.3" />
<circle cx="1944.2" cy="351.4" r="28.0" fill="#5db95d" stroke="#000" stroke-width="3.3" />
<circle cx="1904.9" cy="391.6" r="28.0" fill="#5db95d" stroke="#000" stroke-width="3.3" />
<circle cx="1785.0" cy="352.3" r="28.0" fill="#5db95d" stroke="#000" stroke-width="3.3" />
<circle cx="1740.4" cy="413.5" r="28.0" fill="#5db95d" stroke="#000" stroke-width="3.3" />
<circle cx="2018.2" cy="145.3" r="28.0" fill="#e42f2f" stroke="#000" stroke-width="3.3" />
<circle cx="2016.9" cy="205.2" r="28.0" fill="#e42f2f" stroke="#000" stroke-width="3.3" />
<circle cx="1880.5" cy="186.9" r="28.0" fill="#e42f2f" stroke="#000" stroke-width="3.3" />
<circle cx="1900.2" cy="131.6" r="28.0" fill="#e42f2f" stroke="#000" stroke-width="3.3" />
<circle cx="2016.3" cy="358.9" r="28.0" fill="#5db95d" stroke="#000" stroke-width="3.3" />
<circle cx="2008.9" cy="299.8" r="28.0" fill="#5db95d" stroke="#000" stroke-width="3.3" />
<circle cx="1825.2" cy="278.3" r="28.0" fill="#5db95d" stroke="#000" stroke-width="3.3" />
<circle cx="1773.5" cy="278.5" r="28.0" fill="#5db95d" stroke="#000" stroke-width="3.3" />
<circle cx="1668.0" cy="256.8" r="28.0" fill="#4a8ac3" stroke="#000" stroke-width="3.3" />
<circle cx="1651.4" cy="294.6" r="28.0" fill="#4a8ac3" stroke="#000" stroke-width="3.3" />
<circle cx="1622.4" cy="252.3" r="28.0" fill="#4a8ac3" stroke="#000" stroke-width="3.3" />
<circle cx="1609.0" cy="319.0" r="28.0" fill="#4a8ac3" stroke="#000" stroke-width="3.3" />
<circle cx="1620.2" cy="349.0" r="28.0" fill="#4a8ac3" stroke="#000" stroke-width="3.3" />
<circle cx="1565.0" cy="221.2" r="28.0" fill="#4a8ac3" stroke="#000" stroke-width="3.3" />
<circle cx="1769.0" cy="199.6" r="28.0" fill="#e42f2f" stroke="#000" stroke-width="3.3" />
<circle cx="1762.5" cy="163.0" r="28.0" fill="#e42f2f" stroke="#000" stroke-width="3.3" />
<circle cx="1505.6" cy="245.6" r="28.0" fill="#4a8ac3" stroke="#000" stroke-width="3.3" />
<circle cx="1466.3" cy="309.0" r="28.0" fill="#4a8ac3" stroke="#000" stroke-width="3.3" />
<circle cx="1453.4" cy="262.3" r="28.0" fill="#4a8ac3" stroke="#000" stroke-width="3.3" />
<circle cx="1572.0" cy="280.1" r="28.0" fill="#4a8ac3" stroke="#000" stroke-width="3.3" />
<circle cx="1533.5" cy="313.5" r="28.0" fill="#4a8ac3" stroke="#000" stroke-width="3.3" />
<circle cx="1471.2" cy="351.3" r="28.0" fill="#4a8ac3" stroke="#000" stroke-width="3.3" />
<text transform="translate(1900.2,141.1) scale(1,1.042)" font-size="26.5" text-anchor="middle" font-weight="bold" fill="#000" >HL.R</text>
<text transform="translate(2018.2,154.8) scale(1,1.042)" font-size="26.5" text-anchor="middle" font-weight="bold" fill="#000" >FL.L</text>
<text transform="translate(1762.5,172.5) scale(1,1.042)" font-size="26.5" text-anchor="middle" font-weight="bold" fill="#000" >T.R</text>
<text transform="translate(1880.5,196.4) scale(1,1.042)" font-size="26.5" text-anchor="middle" font-weight="bold" fill="#000" >HL.L</text>
<text transform="translate(1769.0,209.1) scale(1,1.042)" font-size="26.5" text-anchor="middle" font-weight="bold" fill="#000" >T.L</text>
<text transform="translate(2016.9,214.7) scale(1,1.042)" font-size="26.5" text-anchor="middle" font-weight="bold" fill="#000" >FL.R</text>
<text transform="translate(1565.0,230.7) scale(1,1.042)" font-size="26.5" text-anchor="middle" font-weight="bold" fill="#000" >RSA.R</text>
<text transform="translate(1505.6,255.1) scale(1,1.042)" font-size="26.5" text-anchor="middle" font-weight="bold" fill="#000" >V1.R</text>
<text transform="translate(1622.4,261.8) scale(1,1.042)" font-size="26.5" text-anchor="middle" font-weight="bold" fill="#000" >PPC.L</text>
<text transform="translate(1668.0,266.3) scale(1,1.042)" font-size="26.5" text-anchor="middle" font-weight="bold" fill="#000" >M2.L</text>
<text transform="translate(1453.4,271.8) scale(1,1.042)" font-size="26.5" text-anchor="middle" font-weight="bold" fill="#000" >V2L.R</text>
<text transform="translate(1572.0,289.6) scale(1,1.042)" font-size="26.5" text-anchor="middle" font-weight="bold" fill="#000" >V2M.L</text>
<text transform="translate(1773.5,288.0) scale(1,1.042)" font-size="26.5" text-anchor="middle" font-weight="bold" fill="#000" >M1.R</text>
<text transform="translate(1825.2,287.8) scale(1,1.042)" font-size="26.5" text-anchor="middle" font-weight="bold" fill="#000" >M1.L</text>
<text transform="translate(1651.4,304.1) scale(1,1.042)" font-size="26.5" text-anchor="middle" font-weight="bold" fill="#000" >M2.R</text>
<text transform="translate(2008.9,309.3) scale(1,1.042)" font-size="26.5" text-anchor="middle" font-weight="bold" fill="#000" >LS.R</text>
<text transform="translate(1466.3,318.5) scale(1,1.042)" font-size="26.5" text-anchor="middle" font-weight="bold" fill="#000" >V2L.L</text>
<text transform="translate(1533.5,323.0) scale(1,1.042)" font-size="26.5" text-anchor="middle" font-weight="bold" fill="#000" >V2M.R</text>
<text transform="translate(1609.0,328.5) scale(1,1.042)" font-size="26.5" text-anchor="middle" font-weight="bold" fill="#000" >PPC.R</text>
<text transform="translate(1471.2,360.8) scale(1,1.042)" font-size="26.5" text-anchor="middle" font-weight="bold" fill="#000" >V1.L</text>
<text transform="translate(1620.2,358.5) scale(1,1.042)" font-size="26.5" text-anchor="middle" font-weight="bold" fill="#000" >RSA.L</text>
<text transform="translate(1785.0,361.8) scale(1,1.042)" font-size="26.5" text-anchor="middle" font-weight="bold" fill="#000" >barrel.L</text>
<text transform="translate(1944.2,360.9) scale(1,1.042)" font-size="26.5" text-anchor="middle" font-weight="bold" fill="#000" >AS.L</text>
<text transform="translate(2016.3,368.4) scale(1,1.042)" font-size="26.5" text-anchor="middle" font-weight="bold" fill="#000" >LS.L</text>
<text transform="translate(1904.9,401.1) scale(1,1.042)" font-size="26.5" text-anchor="middle" font-weight="bold" fill="#000" >AS.R</text>
<text transform="translate(1740.4,423.0) scale(1,1.042)" font-size="26.5" text-anchor="middle" font-weight="bold" fill="#000" >barrel.R</text>
<text transform="translate(1714.2,639.8) scale(1,1.042)" font-size="26.5" text-anchor="middle" font-weight="bold" fill="#000" >A1.R</text>
<text transform="translate(1842.2,634.8) scale(1,1.042)" font-size="26.5" text-anchor="middle" font-weight="bold" fill="#000" >A1.L</text>
<rect x="117.0" y="990.0" width="629.3" height="316.0" fill="#ffffff" stroke="none" stroke-width="0" />
<line x1="232.8" y1="990.0" x2="232.8" y2="1306.0" stroke="#f2f2f2" stroke-width="1.6" />
<line x1="453.5" y1="990.0" x2="453.5" y2="1306.0" stroke="#f2f2f2" stroke-width="1.6" />
<line x1="674.1" y1="990.0" x2="674.1" y2="1306.0" stroke="#f2f2f2" stroke-width="1.6" />
<line x1="122.4" y1="990.0" x2="122.4" y2="1306.0" stroke="#e3e3e3" stroke-width="2.2" />
<line x1="343.1" y1="990.0" x2="343.1" y2="1306.0" stroke="#e3e3e3" stroke-width="2.2" />
<line x1="563.8" y1="990.0" x2="563.8" y2="1306.0" stroke="#e3e3e3" stroke-width="2.2" />
<line x1="117.0" y1="1002.4" x2="746.3" y2="1002.4" stroke="#e3e3e3" stroke-width="2.2" />
<line x1="117.0" y1="1024.8" x2="746.3" y2="1024.8" stroke="#e3e3e3" stroke-width="2.2" />
<line x1="117.0" y1="1047.2" x2="746.3" y2="1047.2" stroke="#e3e3e3" stroke-width="2.2" />
<line x1="117.0" y1="1069.5" x2="746.3" y2="1069.5" stroke="#e3e3e3" stroke-width="2.2" />
<line x1="117.0" y1="1091.9" x2="746.3" y2="1091.9" stroke="#e3e3e3" stroke-width="2.2" />
<line x1="117.0" y1="1114.3" x2="746.3" y2="1114.3" stroke="#e3e3e3" stroke-width="2.2" />
<line x1="117.0" y1="1136.7" x2="746.3" y2="1136.7" stroke="#e3e3e3" stroke-width="2.2" />
<line x1="117.0" y1="1159.1" x2="746.3" y2="1159.1" stroke="#e3e3e3" stroke-width="2.2" />
<line x1="117.0" y1="1181.4" x2="746.3" y2="1181.4" stroke="#e3e3e3" stroke-width="2.2" />
<line x1="117.0" y1="1203.8" x2="746.3" y2="1203.8" stroke="#e3e3e3" stroke-width="2.2" />
<line x1="117.0" y1="1226.2" x2="746.3" y2="1226.2" stroke="#e3e3e3" stroke-width="2.2" />
<line x1="117.0" y1="1248.6" x2="746.3" y2="1248.6" stroke="#e3e3e3" stroke-width="2.2" />
<line x1="117.0" y1="1271.0" x2="746.3" y2="1271.0" stroke="#e3e3e3" stroke-width="2.2" />
<line x1="117.0" y1="1293.3" x2="746.3" y2="1293.3" stroke="#e3e3e3" stroke-width="2.2" />
<line x1="188.6" y1="1002.4" x2="299.0" y2="1002.4" stroke="#333333" stroke-width="4.0" />
<line x1="475.5" y1="1002.4" x2="607.9" y2="1002.4" stroke="#333333" stroke-width="4.0" />
<rect x="299.0" y="994.1" width="176.6" height="16.6" fill="#ffffff" stroke="#333333" stroke-width="4.2" stroke-linejoin="round"/>
<line x1="387.2" y1="994.1" x2="387.2" y2="1010.7" stroke="#333333" stroke-width="7.5" />
<line x1="144.5" y1="1024.8" x2="254.8" y2="1024.8" stroke="#333333" stroke-width="4.0" />
<line x1="409.3" y1="1024.8" x2="519.7" y2="1024.8" stroke="#333333" stroke-width="4.0" />
<rect x="254.8" y="1016.5" width="154.5" height="16.6" fill="#ffffff" stroke="#333333" stroke-width="4.2" stroke-linejoin="round"/>
<line x1="343.1" y1="1016.5" x2="343.1" y2="1033.1" stroke="#333333" stroke-width="7.5" />
<circle cx="541.7" cy="1047.2" r="5.8" fill="#cfcfcf" stroke="none" stroke-width="0" />
<circle cx="563.8" cy="1047.2" r="5.8" fill="#cfcfcf" stroke="none" stroke-width="0" />
<line x1="144.5" y1="1047.2" x2="188.6" y2="1047.2" stroke="#333333" stroke-width="4.0" />
<line x1="327.7" y1="1047.2" x2="475.5" y2="1047.2" stroke="#333333" stroke-width="4.0" />
<rect x="188.6" y="1038.9" width="139.0" height="16.6" fill="#ffffff" stroke="#333333" stroke-width="4.2" stroke-linejoin="round"/>
<line x1="254.8" y1="1038.9" x2="254.8" y2="1055.5" stroke="#333333" stroke-width="7.5" />
<circle cx="541.7" cy="1069.5" r="5.8" fill="#cfcfcf" stroke="none" stroke-width="0" />
<circle cx="563.8" cy="1069.5" r="5.8" fill="#cfcfcf" stroke="none" stroke-width="0" />
<line x1="144.5" y1="1069.5" x2="188.6" y2="1069.5" stroke="#333333" stroke-width="4.0" />
<line x1="321.0" y1="1069.5" x2="475.5" y2="1069.5" stroke="#333333" stroke-width="4.0" />
<rect x="188.6" y="1061.2" width="132.4" height="16.6" fill="#ffffff" stroke="#333333" stroke-width="4.2" stroke-linejoin="round"/>
<line x1="254.8" y1="1061.2" x2="254.8" y2="1077.8" stroke="#333333" stroke-width="7.5" />
<circle cx="475.5" cy="1091.9" r="5.8" fill="#cfcfcf" stroke="none" stroke-width="0" />
<line x1="144.5" y1="1091.9" x2="166.5" y2="1091.9" stroke="#333333" stroke-width="4.0" />
<line x1="287.9" y1="1091.9" x2="431.4" y2="1091.9" stroke="#333333" stroke-width="4.0" />
<rect x="166.5" y="1083.6" width="121.4" height="16.6" fill="#ffffff" stroke="#333333" stroke-width="4.2" stroke-linejoin="round"/>
<line x1="221.7" y1="1083.6" x2="221.7" y2="1100.2" stroke="#333333" stroke-width="7.5" />
<circle cx="299.0" cy="1114.3" r="5.8" fill="#cfcfcf" stroke="none" stroke-width="0" />
<circle cx="321.0" cy="1114.3" r="5.8" fill="#cfcfcf" stroke="none" stroke-width="0" />
<circle cx="365.2" cy="1114.3" r="5.8" fill="#cfcfcf" stroke="none" stroke-width="0" />
<line x1="144.5" y1="1114.3" x2="166.5" y2="1114.3" stroke="#333333" stroke-width="4.0" />
<line x1="210.7" y1="1114.3" x2="254.8" y2="1114.3" stroke="#333333" stroke-width="4.0" />
<rect x="166.5" y="1106.0" width="44.1" height="16.6" fill="#ffffff" stroke="#333333" stroke-width="4.2" stroke-linejoin="round"/>
<line x1="188.6" y1="1106.0" x2="188.6" y2="1122.6" stroke="#333333" stroke-width="7.5" />
<line x1="188.6" y1="1136.7" x2="254.8" y2="1136.7" stroke="#333333" stroke-width="4.0" />
<line x1="438.0" y1="1136.7" x2="563.8" y2="1136.7" stroke="#333333" stroke-width="4.0" />
<rect x="254.8" y="1128.4" width="183.2" height="16.6" fill="#ffffff" stroke="#333333" stroke-width="4.2" stroke-linejoin="round"/>
<line x1="387.2" y1="1128.4" x2="387.2" y2="1145.0" stroke="#333333" stroke-width="7.5" />
<circle cx="475.5" cy="1159.1" r="5.8" fill="#cfcfcf" stroke="none" stroke-width="0" />
<circle cx="519.7" cy="1159.1" r="5.8" fill="#cfcfcf" stroke="none" stroke-width="0" />
<line x1="144.5" y1="1159.1" x2="166.5" y2="1159.1" stroke="#333333" stroke-width="4.0" />
<line x1="276.9" y1="1159.1" x2="387.2" y2="1159.1" stroke="#333333" stroke-width="4.0" />
<rect x="166.5" y="1150.8" width="110.3" height="16.6" fill="#ffffff" stroke="#333333" stroke-width="4.2" stroke-linejoin="round"/>
<line x1="210.7" y1="1150.8" x2="210.7" y2="1167.4" stroke="#333333" stroke-width="7.5" />
<circle cx="541.7" cy="1181.4" r="5.8" fill="#cfcfcf" stroke="none" stroke-width="0" />
<line x1="144.5" y1="1181.4" x2="188.6" y2="1181.4" stroke="#333333" stroke-width="4.0" />
<line x1="287.9" y1="1181.4" x2="431.4" y2="1181.4" stroke="#333333" stroke-width="4.0" />
<rect x="188.6" y="1173.1" width="99.3" height="16.6" fill="#ffffff" stroke="#333333" stroke-width="4.2" stroke-linejoin="round"/>
<line x1="232.8" y1="1173.1" x2="232.8" y2="1189.7" stroke="#333333" stroke-width="7.5" />
<circle cx="519.7" cy="1203.8" r="5.8" fill="#cfcfcf" stroke="none" stroke-width="0" />
<circle cx="563.8" cy="1203.8" r="5.8" fill="#cfcfcf" stroke="none" stroke-width="0" />
<line x1="144.5" y1="1203.8" x2="188.6" y2="1203.8" stroke="#333333" stroke-width="4.0" />
<line x1="305.6" y1="1203.8" x2="453.5" y2="1203.8" stroke="#333333" stroke-width="4.0" />
<rect x="188.6" y="1195.5" width="117.0" height="16.6" fill="#ffffff" stroke="#333333" stroke-width="4.2" stroke-linejoin="round"/>
<line x1="254.8" y1="1195.5" x2="254.8" y2="1212.1" stroke="#333333" stroke-width="7.5" />
<circle cx="409.3" cy="1226.2" r="5.8" fill="#cfcfcf" stroke="none" stroke-width="0" />
<line x1="144.5" y1="1226.2" x2="166.5" y2="1226.2" stroke="#333333" stroke-width="4.0" />
<line x1="254.8" y1="1226.2" x2="365.2" y2="1226.2" stroke="#333333" stroke-width="4.0" />
<rect x="166.5" y="1217.9" width="88.3" height="16.6" fill="#ffffff" stroke="#333333" stroke-width="4.2" stroke-linejoin="round"/>
<line x1="210.7" y1="1217.9" x2="210.7" y2="1234.5" stroke="#333333" stroke-width="7.5" />
<line x1="144.5" y1="1248.6" x2="194.1" y2="1248.6" stroke="#333333" stroke-width="4.0" />
<line x1="365.2" y1="1248.6" x2="563.8" y2="1248.6" stroke="#333333" stroke-width="4.0" />
<rect x="194.1" y="1240.3" width="171.0" height="16.6" fill="#ffffff" stroke="#333333" stroke-width="4.2" stroke-linejoin="round"/>
<line x1="310.0" y1="1240.3" x2="310.0" y2="1256.9" stroke="#333333" stroke-width="7.5" />
<circle cx="519.7" cy="1271.0" r="5.8" fill="#cfcfcf" stroke="none" stroke-width="0" />
<line x1="144.5" y1="1271.0" x2="232.8" y2="1271.0" stroke="#333333" stroke-width="4.0" />
<line x1="343.1" y1="1271.0" x2="497.6" y2="1271.0" stroke="#333333" stroke-width="4.0" />
<rect x="232.8" y="1262.7" width="110.3" height="16.6" fill="#ffffff" stroke="#333333" stroke-width="4.2" stroke-linejoin="round"/>
<line x1="287.9" y1="1262.7" x2="287.9" y2="1279.3" stroke="#333333" stroke-width="7.5" />
<circle cx="232.8" cy="1293.3" r="5.8" fill="#cfcfcf" stroke="none" stroke-width="0" />
<line x1="144.5" y1="1293.3" x2="144.5" y2="1293.3" stroke="#333333" stroke-width="4.0" />
<line x1="171.4" y1="1293.3" x2="210.7" y2="1293.3" stroke="#333333" stroke-width="4.0" />
<rect x="144.5" y="1285.0" width="26.9" height="16.6" fill="#ffffff" stroke="#333333" stroke-width="4.2" stroke-linejoin="round"/>
<line x1="166.5" y1="1285.0" x2="166.5" y2="1301.6" stroke="#333333" stroke-width="7.5" />
<rect x="117.0" y="990.0" width="629.3" height="316.0" fill="none" stroke="#7f7f7f" stroke-width="2.6" />
<text transform="translate(97.5,1011.6) scale(1,1.042)" font-size="25.7" text-anchor="end" font-weight="normal" fill="#000" stroke="#000" stroke-width="0.45" >M1</text>
<line x1="105.5" y1="1002.4" x2="116.0" y2="1002.4" stroke="#000" stroke-width="4" />
<text transform="translate(97.5,1034.0) scale(1,1.042)" font-size="25.7" text-anchor="end" font-weight="normal" fill="#000" stroke="#000" stroke-width="0.45" >M2</text>
<line x1="105.5" y1="1024.8" x2="116.0" y2="1024.8" stroke="#000" stroke-width="4" />
<text transform="translate(97.5,1056.4) scale(1,1.042)" font-size="25.7" text-anchor="end" font-weight="normal" fill="#000" stroke="#000" stroke-width="0.45" >PPC</text>
<line x1="105.5" y1="1047.2" x2="116.0" y2="1047.2" stroke="#000" stroke-width="4" />
<text transform="translate(97.5,1078.7) scale(1,1.042)" font-size="25.7" text-anchor="end" font-weight="normal" fill="#000" stroke="#000" stroke-width="0.45" >V2M</text>
<line x1="105.5" y1="1069.5" x2="116.0" y2="1069.5" stroke="#000" stroke-width="4" />
<text transform="translate(97.5,1101.1) scale(1,1.042)" font-size="25.7" text-anchor="end" font-weight="normal" fill="#000" stroke="#000" stroke-width="0.45" >V2L</text>
<line x1="105.5" y1="1091.9" x2="116.0" y2="1091.9" stroke="#000" stroke-width="4" />
<text transform="translate(97.5,1123.5) scale(1,1.042)" font-size="25.7" text-anchor="end" font-weight="normal" fill="#000" stroke="#000" stroke-width="0.45" >V1</text>
<line x1="105.5" y1="1114.3" x2="116.0" y2="1114.3" stroke="#000" stroke-width="4" />
<text transform="translate(97.5,1145.9) scale(1,1.042)" font-size="25.7" text-anchor="end" font-weight="normal" fill="#000" stroke="#000" stroke-width="0.45" >RSA</text>
<line x1="105.5" y1="1136.7" x2="116.0" y2="1136.7" stroke="#000" stroke-width="4" />
<text transform="translate(97.5,1168.3) scale(1,1.042)" font-size="25.7" text-anchor="end" font-weight="normal" fill="#000" stroke="#000" stroke-width="0.45" >AS</text>
<line x1="105.5" y1="1159.1" x2="116.0" y2="1159.1" stroke="#000" stroke-width="4" />
<text transform="translate(97.5,1190.6) scale(1,1.042)" font-size="25.7" text-anchor="end" font-weight="normal" fill="#000" stroke="#000" stroke-width="0.45" >T</text>
<line x1="105.5" y1="1181.4" x2="116.0" y2="1181.4" stroke="#000" stroke-width="4" />
<text transform="translate(97.5,1213.0) scale(1,1.042)" font-size="25.7" text-anchor="end" font-weight="normal" fill="#000" stroke="#000" stroke-width="0.45" >barrel</text>
<line x1="105.5" y1="1203.8" x2="116.0" y2="1203.8" stroke="#000" stroke-width="4" />
<text transform="translate(97.5,1235.4) scale(1,1.042)" font-size="25.7" text-anchor="end" font-weight="normal" fill="#000" stroke="#000" stroke-width="0.45" >LS</text>
<line x1="105.5" y1="1226.2" x2="116.0" y2="1226.2" stroke="#000" stroke-width="4" />
<text transform="translate(97.5,1257.8) scale(1,1.042)" font-size="25.7" text-anchor="end" font-weight="normal" fill="#000" stroke="#000" stroke-width="0.45" >HL</text>
<line x1="105.5" y1="1248.6" x2="116.0" y2="1248.6" stroke="#000" stroke-width="4" />
<text transform="translate(97.5,1280.2) scale(1,1.042)" font-size="25.7" text-anchor="end" font-weight="normal" fill="#000" stroke="#000" stroke-width="0.45" >FL</text>
<line x1="105.5" y1="1271.0" x2="116.0" y2="1271.0" stroke="#000" stroke-width="4" />
<text transform="translate(97.5,1302.5) scale(1,1.042)" font-size="25.7" text-anchor="end" font-weight="normal" fill="#000" stroke="#000" stroke-width="0.45" >A1</text>
<line x1="105.5" y1="1293.3" x2="116.0" y2="1293.3" stroke="#000" stroke-width="4" />
<line x1="122.4" y1="1307.0" x2="122.4" y2="1318.5" stroke="#000" stroke-width="4" />
<text transform="translate(122.4,1343.5) scale(1,1.042)" font-size="25.7" text-anchor="middle" font-weight="normal" fill="#000" stroke="#000" stroke-width="0.45" >0</text>
<line x1="343.1" y1="1307.0" x2="343.1" y2="1318.5" stroke="#000" stroke-width="4" />
<text transform="translate(343.1,1343.5) scale(1,1.042)" font-size="25.7" text-anchor="middle" font-weight="normal" fill="#000" stroke="#000" stroke-width="0.45" >10</text>
<line x1="563.8" y1="1307.0" x2="563.8" y2="1318.5" stroke="#000" stroke-width="4" />
<text transform="translate(563.8,1343.5) scale(1,1.042)" font-size="25.7" text-anchor="middle" font-weight="normal" fill="#000" stroke="#000" stroke-width="0.45" >20</text>
<rect x="757.4" y="990.0" width="628.6" height="316.0" fill="#ffffff" stroke="none" stroke-width="0" />
<line x1="872.6" y1="990.0" x2="872.6" y2="1306.0" stroke="#f2f2f2" stroke-width="1.6" />
<line x1="1093.0" y1="990.0" x2="1093.0" y2="1306.0" stroke="#f2f2f2" stroke-width="1.6" />
<line x1="1313.4" y1="990.0" x2="1313.4" y2="1306.0" stroke="#f2f2f2" stroke-width="1.6" />
<line x1="762.4" y1="990.0" x2="762.4" y2="1306.0" stroke="#e3e3e3" stroke-width="2.2" />
<line x1="982.8" y1="990.0" x2="982.8" y2="1306.0" stroke="#e3e3e3" stroke-width="2.2" />
<line x1="1203.2" y1="990.0" x2="1203.2" y2="1306.0" stroke="#e3e3e3" stroke-width="2.2" />
<line x1="757.4" y1="1002.4" x2="1386.0" y2="1002.4" stroke="#e3e3e3" stroke-width="2.2" />
<line x1="757.4" y1="1024.8" x2="1386.0" y2="1024.8" stroke="#e3e3e3" stroke-width="2.2" />
<line x1="757.4" y1="1047.2" x2="1386.0" y2="1047.2" stroke="#e3e3e3" stroke-width="2.2" />
<line x1="757.4" y1="1069.5" x2="1386.0" y2="1069.5" stroke="#e3e3e3" stroke-width="2.2" />
<line x1="757.4" y1="1091.9" x2="1386.0" y2="1091.9" stroke="#e3e3e3" stroke-width="2.2" />
<line x1="757.4" y1="1114.3" x2="1386.0" y2="1114.3" stroke="#e3e3e3" stroke-width="2.2" />
<line x1="757.4" y1="1136.7" x2="1386.0" y2="1136.7" stroke="#e3e3e3" stroke-width="2.2" />
<line x1="757.4" y1="1159.1" x2="1386.0" y2="1159.1" stroke="#e3e3e3" stroke-width="2.2" />
<line x1="757.4" y1="1181.4" x2="1386.0" y2="1181.4" stroke="#e3e3e3" stroke-width="2.2" />
<line x1="757.4" y1="1203.8" x2="1386.0" y2="1203.8" stroke="#e3e3e3" stroke-width="2.2" />
<line x1="757.4" y1="1226.2" x2="1386.0" y2="1226.2" stroke="#e3e3e3" stroke-width="2.2" />
<line x1="757.4" y1="1248.6" x2="1386.0" y2="1248.6" stroke="#e3e3e3" stroke-width="2.2" />
<line x1="757.4" y1="1271.0" x2="1386.0" y2="1271.0" stroke="#e3e3e3" stroke-width="2.2" />
<line x1="757.4" y1="1293.3" x2="1386.0" y2="1293.3" stroke="#e3e3e3" stroke-width="2.2" />
<line x1="806.5" y1="1002.4" x2="872.6" y2="1002.4" stroke="#333333" stroke-width="4.0" />
<line x1="1055.5" y1="1002.4" x2="1247.3" y2="1002.4" stroke="#333333" stroke-width="4.0" />
<rect x="872.6" y="994.1" width="182.9" height="16.6" fill="#ffffff" stroke="#333333" stroke-width="4.2" stroke-linejoin="round"/>
<line x1="938.7" y1="994.1" x2="938.7" y2="1010.7" stroke="#333333" stroke-width="7.5" />
<circle cx="1203.2" cy="1024.8" r="5.8" fill="#cfcfcf" stroke="none" stroke-width="0" />
<line x1="784.4" y1="1024.8" x2="872.6" y2="1024.8" stroke="#333333" stroke-width="4.0" />
<line x1="989.4" y1="1024.8" x2="1115.0" y2="1024.8" stroke="#333333" stroke-width="4.0" />
<rect x="872.6" y="1016.5" width="116.8" height="16.6" fill="#ffffff" stroke="#333333" stroke-width="4.2" stroke-linejoin="round"/>
<line x1="916.7" y1="1016.5" x2="916.7" y2="1033.1" stroke="#333333" stroke-width="7.5" />
<line x1="784.4" y1="1047.2" x2="850.6" y2="1047.2" stroke="#333333" stroke-width="4.0" />
<line x1="1004.8" y1="1047.2" x2="1159.1" y2="1047.2" stroke="#333333" stroke-width="4.0" />
<rect x="850.6" y="1038.9" width="154.3" height="16.6" fill="#ffffff" stroke="#333333" stroke-width="4.2" stroke-linejoin="round"/>
<line x1="894.6" y1="1038.9" x2="894.6" y2="1055.5" stroke="#333333" stroke-width="7.5" />
<line x1="784.4" y1="1069.5" x2="850.6" y2="1069.5" stroke="#333333" stroke-width="4.0" />
<line x1="938.7" y1="1069.5" x2="1071.0" y2="1069.5" stroke="#333333" stroke-width="4.0" />
<rect x="850.6" y="1061.2" width="88.2" height="16.6" fill="#ffffff" stroke="#333333" stroke-width="4.2" stroke-linejoin="round"/>
<line x1="894.6" y1="1061.2" x2="894.6" y2="1077.8" stroke="#333333" stroke-width="7.5" />
<circle cx="1093.0" cy="1091.9" r="5.8" fill="#cfcfcf" stroke="none" stroke-width="0" />
<line x1="784.4" y1="1091.9" x2="828.5" y2="1091.9" stroke="#333333" stroke-width="4.0" />
<line x1="916.7" y1="1091.9" x2="1048.9" y2="1091.9" stroke="#333333" stroke-width="4.0" />
<rect x="828.5" y="1083.6" width="88.2" height="16.6" fill="#ffffff" stroke="#333333" stroke-width="4.2" stroke-linejoin="round"/>
<line x1="850.6" y1="1083.6" x2="850.6" y2="1100.2" stroke="#333333" stroke-width="7.5" />
<circle cx="982.8" cy="1114.3" r="5.8" fill="#cfcfcf" stroke="none" stroke-width="0" />
<line x1="784.4" y1="1114.3" x2="806.5" y2="1114.3" stroke="#333333" stroke-width="4.0" />
<line x1="872.6" y1="1114.3" x2="938.7" y2="1114.3" stroke="#333333" stroke-width="4.0" />
<rect x="806.5" y="1106.0" width="66.1" height="16.6" fill="#ffffff" stroke="#333333" stroke-width="4.2" stroke-linejoin="round"/>
<line x1="828.5" y1="1106.0" x2="828.5" y2="1122.6" stroke="#333333" stroke-width="7.5" />
<line x1="784.4" y1="1136.7" x2="806.5" y2="1136.7" stroke="#333333" stroke-width="4.0" />
<line x1="1004.8" y1="1136.7" x2="1203.2" y2="1136.7" stroke="#333333" stroke-width="4.0" />
<rect x="806.5" y="1128.4" width="198.4" height="16.6" fill="#ffffff" stroke="#333333" stroke-width="4.2" stroke-linejoin="round"/>
<line x1="850.6" y1="1128.4" x2="850.6" y2="1145.0" stroke="#333333" stroke-width="7.5" />
<circle cx="960.8" cy="1159.1" r="5.8" fill="#cfcfcf" stroke="none" stroke-width="0" />
<line x1="784.4" y1="1159.1" x2="806.5" y2="1159.1" stroke="#333333" stroke-width="4.0" />
<line x1="867.1" y1="1159.1" x2="938.7" y2="1159.1" stroke="#333333" stroke-width="4.0" />
<rect x="806.5" y="1150.8" width="60.6" height="16.6" fill="#ffffff" stroke="#333333" stroke-width="4.2" stroke-linejoin="round"/>
<line x1="828.5" y1="1150.8" x2="828.5" y2="1167.4" stroke="#333333" stroke-width="7.5" />
<circle cx="1004.8" cy="1181.4" r="5.8" fill="#cfcfcf" stroke="none" stroke-width="0" />
<circle cx="1026.9" cy="1181.4" r="5.8" fill="#cfcfcf" stroke="none" stroke-width="0" />
<circle cx="1071.0" cy="1181.4" r="5.8" fill="#cfcfcf" stroke="none" stroke-width="0" />
<line x1="806.5" y1="1181.4" x2="828.5" y2="1181.4" stroke="#333333" stroke-width="4.0" />
<line x1="894.6" y1="1181.4" x2="982.8" y2="1181.4" stroke="#333333" stroke-width="4.0" />
<rect x="828.5" y="1173.1" width="66.1" height="16.6" fill="#ffffff" stroke="#333333" stroke-width="4.2" stroke-linejoin="round"/>
<line x1="830.7" y1="1173.1" x2="830.7" y2="1189.7" stroke="#333333" stroke-width="7.5" />
<line x1="784.4" y1="1203.8" x2="828.5" y2="1203.8" stroke="#333333" stroke-width="4.0" />
<line x1="938.7" y1="1203.8" x2="1048.9" y2="1203.8" stroke="#333333" stroke-width="4.0" />
<rect x="828.5" y="1195.5" width="110.2" height="16.6" fill="#ffffff" stroke="#333333" stroke-width="4.2" stroke-linejoin="round"/>
<line x1="872.6" y1="1195.5" x2="872.6" y2="1212.1" stroke="#333333" stroke-width="7.5" />
<line x1="784.4" y1="1226.2" x2="784.4" y2="1226.2" stroke="#333333" stroke-width="4.0" />
<line x1="828.5" y1="1226.2" x2="872.6" y2="1226.2" stroke="#333333" stroke-width="4.0" />
<rect x="784.4" y="1217.9" width="44.1" height="16.6" fill="#ffffff" stroke="#333333" stroke-width="4.2" stroke-linejoin="round"/>
<line x1="786.6" y1="1217.9" x2="786.6" y2="1234.5" stroke="#333333" stroke-width="7.5" />
<line x1="784.4" y1="1248.6" x2="828.5" y2="1248.6" stroke="#333333" stroke-width="4.0" />
<line x1="916.7" y1="1248.6" x2="1048.9" y2="1248.6" stroke="#333333" stroke-width="4.0" />
<rect x="828.5" y="1240.3" width="88.2" height="16.6" fill="#ffffff" stroke="#333333" stroke-width="4.2" stroke-linejoin="round"/>
<line x1="850.6" y1="1240.3" x2="850.6" y2="1256.9" stroke="#333333" stroke-width="7.5" />
<circle cx="1093.0" cy="1271.0" r="5.8" fill="#cfcfcf" stroke="none" stroke-width="0" />
<line x1="784.4" y1="1271.0" x2="784.4" y2="1271.0" stroke="#333333" stroke-width="4.0" />
<line x1="894.6" y1="1271.0" x2="1048.9" y2="1271.0" stroke="#333333" stroke-width="4.0" />
<rect x="784.4" y="1262.7" width="110.2" height="16.6" fill="#ffffff" stroke="#333333" stroke-width="4.2" stroke-linejoin="round"/>
<line x1="806.5" y1="1262.7" x2="806.5" y2="1279.3" stroke="#333333" stroke-width="7.5" />
<line x1="784.4" y1="1293.3" x2="784.4" y2="1293.3" stroke="#333333" stroke-width="4.0" />
<line x1="828.5" y1="1293.3" x2="850.6" y2="1293.3" stroke="#333333" stroke-width="4.0" />
<rect x="784.4" y="1285.0" width="44.1" height="16.6" fill="#ffffff" stroke="#333333" stroke-width="4.2" stroke-linejoin="round"/>
<line x1="806.5" y1="1285.0" x2="806.5" y2="1301.6" stroke="#333333" stroke-width="7.5" />
<rect x="757.4" y="990.0" width="628.6" height="316.0" fill="none" stroke="#7f7f7f" stroke-width="2.6" />
<line x1="762.4" y1="1307.0" x2="762.4" y2="1318.5" stroke="#000" stroke-width="4" />
<text transform="translate(762.4,1343.5) scale(1,1.042)" font-size="25.7" text-anchor="middle" font-weight="normal" fill="#000" stroke="#000" stroke-width="0.45" >0</text>
<line x1="982.8" y1="1307.0" x2="982.8" y2="1318.5" stroke="#000" stroke-width="4" />
<text transform="translate(982.8,1343.5) scale(1,1.042)" font-size="25.7" text-anchor="middle" font-weight="normal" fill="#000" stroke="#000" stroke-width="0.45" >10</text>
<line x1="1203.2" y1="1307.0" x2="1203.2" y2="1318.5" stroke="#000" stroke-width="4" />
<text transform="translate(1203.2,1343.5) scale(1,1.042)" font-size="25.7" text-anchor="middle" font-weight="normal" fill="#000" stroke="#000" stroke-width="0.45" >20</text>
<rect x="1397.1" y="990.0" width="628.9" height="316.0" fill="#ffffff" stroke="none" stroke-width="0" />
<line x1="1512.8" y1="990.0" x2="1512.8" y2="1306.0" stroke="#f2f2f2" stroke-width="1.6" />
<line x1="1733.5" y1="990.0" x2="1733.5" y2="1306.0" stroke="#f2f2f2" stroke-width="1.6" />
<line x1="1954.2" y1="990.0" x2="1954.2" y2="1306.0" stroke="#f2f2f2" stroke-width="1.6" />
<line x1="1402.4" y1="990.0" x2="1402.4" y2="1306.0" stroke="#e3e3e3" stroke-width="2.2" />
<line x1="1623.1" y1="990.0" x2="1623.1" y2="1306.0" stroke="#e3e3e3" stroke-width="2.2" />
<line x1="1843.8" y1="990.0" x2="1843.8" y2="1306.0" stroke="#e3e3e3" stroke-width="2.2" />
<line x1="1397.1" y1="1002.4" x2="2026.0" y2="1002.4" stroke="#e3e3e3" stroke-width="2.2" />
<line x1="1397.1" y1="1024.8" x2="2026.0" y2="1024.8" stroke="#e3e3e3" stroke-width="2.2" />
<line x1="1397.1" y1="1047.2" x2="2026.0" y2="1047.2" stroke="#e3e3e3" stroke-width="2.2" />
<line x1="1397.1" y1="1069.5" x2="2026.0" y2="1069.5" stroke="#e3e3e3" stroke-width="2.2" />
<line x1="1397.1" y1="1091.9" x2="2026.0" y2="1091.9" stroke="#e3e3e3" stroke-width="2.2" />
<line x1="1397.1" y1="1114.3" x2="2026.0" y2="1114.3" stroke="#e3e3e3" stroke-width="2.2" />
<line x1="1397.1" y1="1136.7" x2="2026.0" y2="1136.7" stroke="#e3e3e3" stroke-width="2.2" />
<line x1="1397.1" y1="1159.1" x2="2026.0" y2="1159.1" stroke="#e3e3e3" stroke-width="2.2" />
<line x1="1397.1" y1="1181.4" x2="2026.0" y2="1181.4" stroke="#e3e3e3" stroke-width="2.2" />
<line x1="1397.1" y1="1203.8" x2="2026.0" y2="1203.8" stroke="#e3e3e3" stroke-width="2.2" />
<line x1="1397.1" y1="1226.2" x2="2026.0" y2="1226.2" stroke="#e3e3e3" stroke-width="2.2" />
<line x1="1397.1" y1="1248.6" x2="2026.0" y2="1248.6" stroke="#e3e3e3" stroke-width="2.2" />
<line x1="1397.1" y1="1271.0" x2="2026.0" y2="1271.0" stroke="#e3e3e3" stroke-width="2.2" />
<line x1="1397.1" y1="1293.3" x2="2026.0" y2="1293.3" stroke="#e3e3e3" stroke-width="2.2" />
<line x1="1446.5" y1="1002.4" x2="1623.1" y2="1002.4" stroke="#333333" stroke-width="4.0" />
<line x1="1843.8" y1="1002.4" x2="1954.2" y2="1002.4" stroke="#333333" stroke-width="4.0" />
<rect x="1623.1" y="994.1" width="220.7" height="16.6" fill="#ffffff" stroke="#333333" stroke-width="4.2" stroke-linejoin="round"/>
<line x1="1733.5" y1="994.1" x2="1733.5" y2="1010.7" stroke="#333333" stroke-width="7.5" />
<line x1="1446.5" y1="1024.8" x2="1645.2" y2="1024.8" stroke="#333333" stroke-width="4.0" />
<line x1="1843.8" y1="1024.8" x2="1954.2" y2="1024.8" stroke="#333333" stroke-width="4.0" />
<rect x="1645.2" y="1016.5" width="198.6" height="16.6" fill="#ffffff" stroke="#333333" stroke-width="4.2" stroke-linejoin="round"/>
<line x1="1711.4" y1="1016.5" x2="1711.4" y2="1033.1" stroke="#333333" stroke-width="7.5" />
<line x1="1446.5" y1="1047.2" x2="1579.0" y2="1047.2" stroke="#333333" stroke-width="4.0" />
<line x1="1733.5" y1="1047.2" x2="1932.1" y2="1047.2" stroke="#333333" stroke-width="4.0" />
<rect x="1579.0" y="1038.9" width="154.5" height="16.6" fill="#ffffff" stroke="#333333" stroke-width="4.2" stroke-linejoin="round"/>
<line x1="1645.2" y1="1038.9" x2="1645.2" y2="1055.5" stroke="#333333" stroke-width="7.5" />
<circle cx="1976.2" cy="1069.5" r="5.8" fill="#cfcfcf" stroke="none" stroke-width="0" />
<line x1="1446.5" y1="1069.5" x2="1556.9" y2="1069.5" stroke="#333333" stroke-width="4.0" />
<line x1="1711.4" y1="1069.5" x2="1932.1" y2="1069.5" stroke="#333333" stroke-width="4.0" />
<rect x="1556.9" y="1061.2" width="154.5" height="16.6" fill="#ffffff" stroke="#333333" stroke-width="4.2" stroke-linejoin="round"/>
<line x1="1645.2" y1="1061.2" x2="1645.2" y2="1077.8" stroke="#333333" stroke-width="7.5" />
<circle cx="1910.0" cy="1091.9" r="5.8" fill="#cfcfcf" stroke="none" stroke-width="0" />
<circle cx="1932.1" cy="1091.9" r="5.8" fill="#cfcfcf" stroke="none" stroke-width="0" />
<line x1="1446.5" y1="1091.9" x2="1573.4" y2="1091.9" stroke="#333333" stroke-width="4.0" />
<line x1="1689.3" y1="1091.9" x2="1843.8" y2="1091.9" stroke="#333333" stroke-width="4.0" />
<rect x="1573.4" y="1083.6" width="115.9" height="16.6" fill="#ffffff" stroke="#333333" stroke-width="4.2" stroke-linejoin="round"/>
<line x1="1623.1" y1="1083.6" x2="1623.1" y2="1100.2" stroke="#333333" stroke-width="7.5" />
<circle cx="1910.0" cy="1114.3" r="5.8" fill="#cfcfcf" stroke="none" stroke-width="0" />
<circle cx="1932.1" cy="1114.3" r="5.8" fill="#cfcfcf" stroke="none" stroke-width="0" />
<line x1="1424.5" y1="1114.3" x2="1534.8" y2="1114.3" stroke="#333333" stroke-width="4.0" />
<line x1="1667.2" y1="1114.3" x2="1865.9" y2="1114.3" stroke="#333333" stroke-width="4.0" />
<rect x="1534.8" y="1106.0" width="132.4" height="16.6" fill="#ffffff" stroke="#333333" stroke-width="4.2" stroke-linejoin="round"/>
<line x1="1579.0" y1="1106.0" x2="1579.0" y2="1122.6" stroke="#333333" stroke-width="7.5" />
<line x1="1424.5" y1="1136.7" x2="1490.7" y2="1136.7" stroke="#333333" stroke-width="4.0" />
<line x1="1689.3" y1="1136.7" x2="1821.7" y2="1136.7" stroke="#333333" stroke-width="4.0" />
<rect x="1490.7" y="1128.4" width="198.6" height="16.6" fill="#ffffff" stroke="#333333" stroke-width="4.2" stroke-linejoin="round"/>
<line x1="1645.2" y1="1128.4" x2="1645.2" y2="1145.0" stroke="#333333" stroke-width="7.5" />
<circle cx="1932.1" cy="1159.1" r="5.8" fill="#cfcfcf" stroke="none" stroke-width="0" />
<line x1="1446.5" y1="1159.1" x2="1534.8" y2="1159.1" stroke="#333333" stroke-width="4.0" />
<line x1="1667.2" y1="1159.1" x2="1799.7" y2="1159.1" stroke="#333333" stroke-width="4.0" />
<rect x="1534.8" y="1150.8" width="132.4" height="16.6" fill="#ffffff" stroke="#333333" stroke-width="4.2" stroke-linejoin="round"/>
<line x1="1556.9" y1="1150.8" x2="1556.9" y2="1167.4" stroke="#333333" stroke-width="7.5" />
<line x1="1446.5" y1="1181.4" x2="1490.7" y2="1181.4" stroke="#333333" stroke-width="4.0" />
<line x1="1689.3" y1="1181.4" x2="1887.9" y2="1181.4" stroke="#333333" stroke-width="4.0" />
<rect x="1490.7" y="1173.1" width="198.6" height="16.6" fill="#ffffff" stroke="#333333" stroke-width="4.2" stroke-linejoin="round"/>
<line x1="1590.0" y1="1173.1" x2="1590.0" y2="1189.7" stroke="#333333" stroke-width="7.5" />
<circle cx="1843.8" cy="1203.8" r="5.8" fill="#cfcfcf" stroke="none" stroke-width="0" />
<circle cx="1865.9" cy="1203.8" r="5.8" fill="#cfcfcf" stroke="none" stroke-width="0" />
<circle cx="1887.9" cy="1203.8" r="5.8" fill="#cfcfcf" stroke="none" stroke-width="0" />
<circle cx="1910.0" cy="1203.8" r="5.8" fill="#cfcfcf" stroke="none" stroke-width="0" />
<circle cx="1954.2" cy="1203.8" r="5.8" fill="#cfcfcf" stroke="none" stroke-width="0" />
<line x1="1424.5" y1="1203.8" x2="1490.7" y2="1203.8" stroke="#333333" stroke-width="4.0" />
<line x1="1606.5" y1="1203.8" x2="1777.6" y2="1203.8" stroke="#333333" stroke-width="4.0" />
<rect x="1490.7" y="1195.5" width="115.9" height="16.6" fill="#ffffff" stroke="#333333" stroke-width="4.2" stroke-linejoin="round"/>
<line x1="1556.9" y1="1195.5" x2="1556.9" y2="1212.1" stroke="#333333" stroke-width="7.5" />
<circle cx="1821.7" cy="1226.2" r="5.8" fill="#cfcfcf" stroke="none" stroke-width="0" />
<circle cx="1843.8" cy="1226.2" r="5.8" fill="#cfcfcf" stroke="none" stroke-width="0" />
<line x1="1424.5" y1="1226.2" x2="1512.8" y2="1226.2" stroke="#333333" stroke-width="4.0" />
<line x1="1634.1" y1="1226.2" x2="1755.5" y2="1226.2" stroke="#333333" stroke-width="4.0" />
<rect x="1512.8" y="1217.9" width="121.4" height="16.6" fill="#ffffff" stroke="#333333" stroke-width="4.2" stroke-linejoin="round"/>
<line x1="1556.9" y1="1217.9" x2="1556.9" y2="1234.5" stroke="#333333" stroke-width="7.5" />
<line x1="1446.5" y1="1248.6" x2="1490.7" y2="1248.6" stroke="#333333" stroke-width="4.0" />
<line x1="1645.2" y1="1248.6" x2="1843.8" y2="1248.6" stroke="#333333" stroke-width="4.0" />
<rect x="1490.7" y="1240.3" width="154.5" height="16.6" fill="#ffffff" stroke="#333333" stroke-width="4.2" stroke-linejoin="round"/>
<line x1="1556.9" y1="1240.3" x2="1556.9" y2="1256.9" stroke="#333333" stroke-width="7.5" />
<line x1="1424.5" y1="1271.0" x2="1468.6" y2="1271.0" stroke="#333333" stroke-width="4.0" />
<line x1="1645.2" y1="1271.0" x2="1865.9" y2="1271.0" stroke="#333333" stroke-width="4.0" />
<rect x="1468.6" y="1262.7" width="176.6" height="16.6" fill="#ffffff" stroke="#333333" stroke-width="4.2" stroke-linejoin="round"/>
<line x1="1512.8" y1="1262.7" x2="1512.8" y2="1279.3" stroke="#333333" stroke-width="7.5" />
<circle cx="1623.1" cy="1293.3" r="5.8" fill="#cfcfcf" stroke="none" stroke-width="0" />
<circle cx="1689.3" cy="1293.3" r="5.8" fill="#cfcfcf" stroke="none" stroke-width="0" />
<circle cx="1799.7" cy="1293.3" r="5.8" fill="#cfcfcf" stroke="none" stroke-width="0" />
<line x1="1424.5" y1="1293.3" x2="1424.5" y2="1293.3" stroke="#333333" stroke-width="4.0" />
<line x1="1490.7" y1="1293.3" x2="1556.9" y2="1293.3" stroke="#333333" stroke-width="4.0" />
<rect x="1424.5" y="1285.0" width="66.2" height="16.6" fill="#ffffff" stroke="#333333" stroke-width="4.2" stroke-linejoin="round"/>
<line x1="1446.5" y1="1285.0" x2="1446.5" y2="1301.6" stroke="#333333" stroke-width="7.5" />
<rect x="1397.1" y="990.0" width="628.9" height="316.0" fill="none" stroke="#7f7f7f" stroke-width="2.6" />
<line x1="1402.4" y1="1307.0" x2="1402.4" y2="1318.5" stroke="#000" stroke-width="4" />
<text transform="translate(1402.4,1343.5) scale(1,1.042)" font-size="25.7" text-anchor="middle" font-weight="normal" fill="#000" stroke="#000" stroke-width="0.45" >0</text>
<line x1="1623.1" y1="1307.0" x2="1623.1" y2="1318.5" stroke="#000" stroke-width="4" />
<text transform="translate(1623.1,1343.5) scale(1,1.042)" font-size="25.7" text-anchor="middle" font-weight="normal" fill="#000" stroke="#000" stroke-width="0.45" >10</text>
<line x1="1843.8" y1="1307.0" x2="1843.8" y2="1318.5" stroke="#000" stroke-width="4" />
<text transform="translate(1843.8,1343.5) scale(1,1.042)" font-size="25.7" text-anchor="middle" font-weight="normal" fill="#000" stroke="#000" stroke-width="0.45" >20</text>
<text transform="translate(1088.5,1362.5) scale(1,1.042)" font-size="41.8" text-anchor="middle" font-weight="normal" fill="#000" stroke="#000" stroke-width="0.45" >degree</text>
<rect x="117.0" y="1398.2" width="629.3" height="316.3" fill="#ffffff" stroke="none" stroke-width="0" />
<line x1="254.3" y1="1398.2" x2="254.3" y2="1714.5" stroke="#f2f2f2" stroke-width="1.6" />
<line x1="480.9" y1="1398.2" x2="480.9" y2="1714.5" stroke="#f2f2f2" stroke-width="1.6" />
<line x1="707.4" y1="1398.2" x2="707.4" y2="1714.5" stroke="#f2f2f2" stroke-width="1.6" />
<line x1="141.1" y1="1398.2" x2="141.1" y2="1714.5" stroke="#e3e3e3" stroke-width="2.2" />
<line x1="367.6" y1="1398.2" x2="367.6" y2="1714.5" stroke="#e3e3e3" stroke-width="2.2" />
<line x1="594.1" y1="1398.2" x2="594.1" y2="1714.5" stroke="#e3e3e3" stroke-width="2.2" />
<line x1="117.0" y1="1411.0" x2="746.3" y2="1411.0" stroke="#e3e3e3" stroke-width="2.2" />
<line x1="117.0" y1="1433.3" x2="746.3" y2="1433.3" stroke="#e3e3e3" stroke-width="2.2" />
<line x1="117.0" y1="1455.7" x2="746.3" y2="1455.7" stroke="#e3e3e3" stroke-width="2.2" />
<line x1="117.0" y1="1478.0" x2="746.3" y2="1478.0" stroke="#e3e3e3" stroke-width="2.2" />
<line x1="117.0" y1="1500.4" x2="746.3" y2="1500.4" stroke="#e3e3e3" stroke-width="2.2" />
<line x1="117.0" y1="1522.8" x2="746.3" y2="1522.8" stroke="#e3e3e3" stroke-width="2.2" />
<line x1="117.0" y1="1545.1" x2="746.3" y2="1545.1" stroke="#e3e3e3" stroke-width="2.2" />
<line x1="117.0" y1="1567.5" x2="746.3" y2="1567.5" stroke="#e3e3e3" stroke-width="2.2" />
<line x1="117.0" y1="1589.8" x2="746.3" y2="1589.8" stroke="#e3e3e3" stroke-width="2.2" />
<line x1="117.0" y1="1612.2" x2="746.3" y2="1612.2" stroke="#e3e3e3" stroke-width="2.2" />
<line x1="117.0" y1="1634.5" x2="746.3" y2="1634.5" stroke="#e3e3e3" stroke-width="2.2" />
<line x1="117.0" y1="1656.8" x2="746.3" y2="1656.8" stroke="#e3e3e3" stroke-width="2.2" />
<line x1="117.0" y1="1679.2" x2="746.3" y2="1679.2" stroke="#e3e3e3" stroke-width="2.2" />
<line x1="117.0" y1="1701.5" x2="746.3" y2="1701.5" stroke="#e3e3e3" stroke-width="2.2" />
<line x1="178.2" y1="1411.0" x2="256.6" y2="1411.0" stroke="#333333" stroke-width="4.0" />
<line x1="389.8" y1="1411.0" x2="547.0" y2="1411.0" stroke="#333333" stroke-width="4.0" />
<rect x="256.6" y="1402.7" width="133.2" height="16.6" fill="#ffffff" stroke="#333333" stroke-width="4.2" stroke-linejoin="round"/>
<line x1="322.3" y1="1402.7" x2="322.3" y2="1419.3" stroke="#333333" stroke-width="7.5" />
<line x1="150.6" y1="1433.3" x2="224.9" y2="1433.3" stroke="#333333" stroke-width="4.0" />
<line x1="383.5" y1="1433.3" x2="483.6" y2="1433.3" stroke="#333333" stroke-width="4.0" />
<rect x="224.9" y="1425.0" width="158.5" height="16.6" fill="#ffffff" stroke="#333333" stroke-width="4.2" stroke-linejoin="round"/>
<line x1="283.3" y1="1425.0" x2="283.3" y2="1441.6" stroke="#333333" stroke-width="7.5" />
<circle cx="419.2" cy="1455.7" r="5.8" fill="#cfcfcf" stroke="none" stroke-width="0" />
<circle cx="503.0" cy="1455.7" r="5.8" fill="#cfcfcf" stroke="none" stroke-width="0" />
<circle cx="507.1" cy="1455.7" r="5.8" fill="#cfcfcf" stroke="none" stroke-width="0" />
<line x1="148.8" y1="1455.7" x2="182.3" y2="1455.7" stroke="#333333" stroke-width="4.0" />
<line x1="273.8" y1="1455.7" x2="383.5" y2="1455.7" stroke="#333333" stroke-width="4.0" />
<rect x="182.3" y="1447.4" width="91.5" height="16.6" fill="#ffffff" stroke="#333333" stroke-width="4.2" stroke-linejoin="round"/>
<line x1="204.5" y1="1447.4" x2="204.5" y2="1464.0" stroke="#333333" stroke-width="7.5" />
<circle cx="403.4" cy="1478.0" r="5.8" fill="#cfcfcf" stroke="none" stroke-width="0" />
<circle cx="419.7" cy="1478.0" r="5.8" fill="#cfcfcf" stroke="none" stroke-width="0" />
<line x1="148.8" y1="1478.0" x2="178.7" y2="1478.0" stroke="#333333" stroke-width="4.0" />
<line x1="270.2" y1="1478.0" x2="397.5" y2="1478.0" stroke="#333333" stroke-width="4.0" />
<rect x="178.7" y="1469.8" width="91.5" height="16.6" fill="#ffffff" stroke="#333333" stroke-width="4.2" stroke-linejoin="round"/>
<line x1="211.8" y1="1469.8" x2="211.8" y2="1486.3" stroke="#333333" stroke-width="7.5" />
<line x1="148.8" y1="1500.4" x2="166.0" y2="1500.4" stroke="#333333" stroke-width="4.0" />
<line x1="249.8" y1="1500.4" x2="336.8" y2="1500.4" stroke="#333333" stroke-width="4.0" />
<rect x="166.0" y="1492.1" width="83.8" height="16.6" fill="#ffffff" stroke="#333333" stroke-width="4.2" stroke-linejoin="round"/>
<line x1="200.4" y1="1492.1" x2="200.4" y2="1508.7" stroke="#333333" stroke-width="7.5" />
<circle cx="232.6" cy="1522.8" r="5.8" fill="#cfcfcf" stroke="none" stroke-width="0" />
<circle cx="242.6" cy="1522.8" r="5.8" fill="#cfcfcf" stroke="none" stroke-width="0" />
<circle cx="265.7" cy="1522.8" r="5.8" fill="#cfcfcf" stroke="none" stroke-width="0" />
<line x1="148.8" y1="1522.8" x2="159.2" y2="1522.8" stroke="#333333" stroke-width="4.0" />
<line x1="189.1" y1="1522.8" x2="214.9" y2="1522.8" stroke="#333333" stroke-width="4.0" />
<rect x="159.2" y="1514.5" width="29.9" height="16.6" fill="#ffffff" stroke="#333333" stroke-width="4.2" stroke-linejoin="round"/>
<line x1="170.5" y1="1514.5" x2="170.5" y2="1531.0" stroke="#333333" stroke-width="7.5" />
<circle cx="429.7" cy="1545.1" r="5.8" fill="#cfcfcf" stroke="none" stroke-width="0" />
<line x1="157.0" y1="1545.1" x2="188.2" y2="1545.1" stroke="#333333" stroke-width="4.0" />
<line x1="279.3" y1="1545.1" x2="393.4" y2="1545.1" stroke="#333333" stroke-width="4.0" />
<rect x="188.2" y="1536.8" width="91.1" height="16.6" fill="#ffffff" stroke="#333333" stroke-width="4.2" stroke-linejoin="round"/>
<line x1="210.0" y1="1536.8" x2="210.0" y2="1553.4" stroke="#333333" stroke-width="7.5" />
<line x1="171.5" y1="1567.5" x2="227.2" y2="1567.5" stroke="#333333" stroke-width="4.0" />
<line x1="389.8" y1="1567.5" x2="539.3" y2="1567.5" stroke="#333333" stroke-width="4.0" />
<rect x="227.2" y="1559.2" width="162.6" height="16.6" fill="#ffffff" stroke="#333333" stroke-width="4.2" stroke-linejoin="round"/>
<line x1="301.5" y1="1559.2" x2="301.5" y2="1575.8" stroke="#333333" stroke-width="7.5" />
<circle cx="306.9" cy="1589.8" r="5.8" fill="#cfcfcf" stroke="none" stroke-width="0" />
<circle cx="405.7" cy="1589.8" r="5.8" fill="#cfcfcf" stroke="none" stroke-width="0" />
<circle cx="420.6" cy="1589.8" r="5.8" fill="#cfcfcf" stroke="none" stroke-width="0" />
<line x1="148.8" y1="1589.8" x2="171.5" y2="1589.8" stroke="#333333" stroke-width="4.0" />
<line x1="223.5" y1="1589.8" x2="282.4" y2="1589.8" stroke="#333333" stroke-width="4.0" />
<rect x="171.5" y="1581.5" width="52.1" height="16.6" fill="#ffffff" stroke="#333333" stroke-width="4.2" stroke-linejoin="round"/>
<line x1="193.6" y1="1581.5" x2="193.6" y2="1598.1" stroke="#333333" stroke-width="7.5" />
<line x1="153.3" y1="1612.2" x2="186.4" y2="1612.2" stroke="#333333" stroke-width="4.0" />
<line x1="311.4" y1="1612.2" x2="480.9" y2="1612.2" stroke="#333333" stroke-width="4.0" />
<rect x="186.4" y="1603.9" width="125.0" height="16.6" fill="#ffffff" stroke="#333333" stroke-width="4.2" stroke-linejoin="round"/>
<line x1="258.4" y1="1603.9" x2="258.4" y2="1620.5" stroke="#333333" stroke-width="7.5" />
<circle cx="303.3" cy="1634.5" r="5.8" fill="#cfcfcf" stroke="none" stroke-width="0" />
<line x1="150.6" y1="1634.5" x2="166.0" y2="1634.5" stroke="#333333" stroke-width="4.0" />
<line x1="220.4" y1="1634.5" x2="292.4" y2="1634.5" stroke="#333333" stroke-width="4.0" />
<rect x="166.0" y="1626.2" width="54.4" height="16.6" fill="#ffffff" stroke="#333333" stroke-width="4.2" stroke-linejoin="round"/>
<line x1="190.5" y1="1626.2" x2="190.5" y2="1642.8" stroke="#333333" stroke-width="7.5" />
<circle cx="418.3" cy="1656.8" r="5.8" fill="#cfcfcf" stroke="none" stroke-width="0" />
<circle cx="448.7" cy="1656.8" r="5.8" fill="#cfcfcf" stroke="none" stroke-width="0" />
<line x1="148.8" y1="1656.8" x2="171.5" y2="1656.8" stroke="#333333" stroke-width="4.0" />
<line x1="258.0" y1="1656.8" x2="359.4" y2="1656.8" stroke="#333333" stroke-width="4.0" />
<rect x="171.5" y="1648.5" width="86.5" height="16.6" fill="#ffffff" stroke="#333333" stroke-width="4.2" stroke-linejoin="round"/>
<line x1="214.9" y1="1648.5" x2="214.9" y2="1665.1" stroke="#333333" stroke-width="7.5" />
<circle cx="418.3" cy="1679.2" r="5.8" fill="#cfcfcf" stroke="none" stroke-width="0" />
<line x1="148.8" y1="1679.2" x2="196.4" y2="1679.2" stroke="#333333" stroke-width="4.0" />
<line x1="274.7" y1="1679.2" x2="382.1" y2="1679.2" stroke="#333333" stroke-width="4.0" />
<rect x="196.4" y="1670.9" width="78.4" height="16.6" fill="#ffffff" stroke="#333333" stroke-width="4.2" stroke-linejoin="round"/>
<line x1="239.4" y1="1670.9" x2="239.4" y2="1687.5" stroke="#333333" stroke-width="7.5" />
<line x1="148.8" y1="1701.5" x2="148.8" y2="1701.5" stroke="#333333" stroke-width="4.0" />
<line x1="171.0" y1="1701.5" x2="182.3" y2="1701.5" stroke="#333333" stroke-width="4.0" />
<rect x="148.8" y="1693.2" width="22.2" height="16.6" fill="#ffffff" stroke="#333333" stroke-width="4.2" stroke-linejoin="round"/>
<line x1="154.7" y1="1693.2" x2="154.7" y2="1709.8" stroke="#333333" stroke-width="7.5" />
<rect x="117.0" y="1398.2" width="629.3" height="316.3" fill="none" stroke="#7f7f7f" stroke-width="2.6" />
<text transform="translate(97.5,1420.2) scale(1,1.042)" font-size="25.7" text-anchor="end" font-weight="normal" fill="#000" stroke="#000" stroke-width="0.45" >M1</text>
<line x1="105.5" y1="1411.0" x2="116.0" y2="1411.0" stroke="#000" stroke-width="4" />
<text transform="translate(97.5,1442.5) scale(1,1.042)" font-size="25.7" text-anchor="end" font-weight="normal" fill="#000" stroke="#000" stroke-width="0.45" >M2</text>
<line x1="105.5" y1="1433.3" x2="116.0" y2="1433.3" stroke="#000" stroke-width="4" />
<text transform="translate(97.5,1464.9) scale(1,1.042)" font-size="25.7" text-anchor="end" font-weight="normal" fill="#000" stroke="#000" stroke-width="0.45" >V2M</text>
<line x1="105.5" y1="1455.7" x2="116.0" y2="1455.7" stroke="#000" stroke-width="4" />
<text transform="translate(97.5,1487.2) scale(1,1.042)" font-size="25.7" text-anchor="end" font-weight="normal" fill="#000" stroke="#000" stroke-width="0.45" >PPC</text>
<line x1="105.5" y1="1478.0" x2="116.0" y2="1478.0" stroke="#000" stroke-width="4" />
<text transform="translate(97.5,1509.6) scale(1,1.042)" font-size="25.7" text-anchor="end" font-weight="normal" fill="#000" stroke="#000" stroke-width="0.45" >V2L</text>
<line x1="105.5" y1="1500.4" x2="116.0" y2="1500.4" stroke="#000" stroke-width="4" />
<text transform="translate(97.5,1532.0) scale(1,1.042)" font-size="25.7" text-anchor="end" font-weight="normal" fill="#000" stroke="#000" stroke-width="0.45" >V1</text>
<line x1="105.5" y1="1522.8" x2="116.0" y2="1522.8" stroke="#000" stroke-width="4" />
<text transform="translate(97.5,1554.3) scale(1,1.042)" font-size="25.7" text-anchor="end" font-weight="normal" fill="#000" stroke="#000" stroke-width="0.45" >T</text>
<line x1="105.5" y1="1545.1" x2="116.0" y2="1545.1" stroke="#000" stroke-width="4" />
<text transform="translate(97.5,1576.7) scale(1,1.042)" font-size="25.7" text-anchor="end" font-weight="normal" fill="#000" stroke="#000" stroke-width="0.45" >RSA</text>
<line x1="105.5" y1="1567.5" x2="116.0" y2="1567.5" stroke="#000" stroke-width="4" />
<text transform="translate(97.5,1599.0) scale(1,1.042)" font-size="25.7" text-anchor="end" font-weight="normal" fill="#000" stroke="#000" stroke-width="0.45" >AS</text>
<line x1="105.5" y1="1589.8" x2="116.0" y2="1589.8" stroke="#000" stroke-width="4" />
<text transform="translate(97.5,1621.4) scale(1,1.042)" font-size="25.7" text-anchor="end" font-weight="normal" fill="#000" stroke="#000" stroke-width="0.45" >HL</text>
<line x1="105.5" y1="1612.2" x2="116.0" y2="1612.2" stroke="#000" stroke-width="4" />
<text transform="translate(97.5,1643.7) scale(1,1.042)" font-size="25.7" text-anchor="end" font-weight="normal" fill="#000" stroke="#000" stroke-width="0.45" >LS</text>
<line x1="105.5" y1="1634.5" x2="116.0" y2="1634.5" stroke="#000" stroke-width="4" />
<text transform="translate(97.5,1666.0) scale(1,1.042)" font-size="25.7" text-anchor="end" font-weight="normal" fill="#000" stroke="#000" stroke-width="0.45" >barrel</text>
<line x1="105.5" y1="1656.8" x2="116.0" y2="1656.8" stroke="#000" stroke-width="4" />
<text transform="translate(97.5,1688.4) scale(1,1.042)" font-size="25.7" text-anchor="end" font-weight="normal" fill="#000" stroke="#000" stroke-width="0.45" >FL</text>
<line x1="105.5" y1="1679.2" x2="116.0" y2="1679.2" stroke="#000" stroke-width="4" />
<text transform="translate(97.5,1710.8) scale(1,1.042)" font-size="25.7" text-anchor="end" font-weight="normal" fill="#000" stroke="#000" stroke-width="0.45" >A1</text>
<line x1="105.5" y1="1701.5" x2="116.0" y2="1701.5" stroke="#000" stroke-width="4" />
<line x1="141.1" y1="1715.5" x2="141.1" y2="1727.0" stroke="#000" stroke-width="4" />
<text transform="translate(141.1,1752.0) scale(1,1.042)" font-size="25.7" text-anchor="middle" font-weight="normal" fill="#000" stroke="#000" stroke-width="0.45" >0</text>
<line x1="367.6" y1="1715.5" x2="367.6" y2="1727.0" stroke="#000" stroke-width="4" />
<text transform="translate(367.6,1752.0) scale(1,1.042)" font-size="25.7" text-anchor="middle" font-weight="normal" fill="#000" stroke="#000" stroke-width="0.45" >5</text>
<line x1="594.1" y1="1715.5" x2="594.1" y2="1727.0" stroke="#000" stroke-width="4" />
<text transform="translate(594.1,1752.0) scale(1,1.042)" font-size="25.7" text-anchor="middle" font-weight="normal" fill="#000" stroke="#000" stroke-width="0.45" >10</text>
<rect x="757.4" y="1398.2" width="628.6" height="316.3" fill="#ffffff" stroke="none" stroke-width="0" />
<line x1="894.2" y1="1398.2" x2="894.2" y2="1714.5" stroke="#f2f2f2" stroke-width="1.6" />
<line x1="1120.8" y1="1398.2" x2="1120.8" y2="1714.5" stroke="#f2f2f2" stroke-width="1.6" />
<line x1="1347.2" y1="1398.2" x2="1347.2" y2="1714.5" stroke="#f2f2f2" stroke-width="1.6" />
<line x1="781.0" y1="1398.2" x2="781.0" y2="1714.5" stroke="#e3e3e3" stroke-width="2.2" />
<line x1="1007.5" y1="1398.2" x2="1007.5" y2="1714.5" stroke="#e3e3e3" stroke-width="2.2" />
<line x1="1234.0" y1="1398.2" x2="1234.0" y2="1714.5" stroke="#e3e3e3" stroke-width="2.2" />
<line x1="757.4" y1="1411.0" x2="1386.0" y2="1411.0" stroke="#e3e3e3" stroke-width="2.2" />
<line x1="757.4" y1="1433.3" x2="1386.0" y2="1433.3" stroke="#e3e3e3" stroke-width="2.2" />
<line x1="757.4" y1="1455.7" x2="1386.0" y2="1455.7" stroke="#e3e3e3" stroke-width="2.2" />
<line x1="757.4" y1="1478.0" x2="1386.0" y2="1478.0" stroke="#e3e3e3" stroke-width="2.2" />
<line x1="757.4" y1="1500.4" x2="1386.0" y2="1500.4" stroke="#e3e3e3" stroke-width="2.2" />
<line x1="757.4" y1="1522.8" x2="1386.0" y2="1522.8" stroke="#e3e3e3" stroke-width="2.2" />
<line x1="757.4" y1="1545.1" x2="1386.0" y2="1545.1" stroke="#e3e3e3" stroke-width="2.2" />
<line x1="757.4" y1="1567.5" x2="1386.0" y2="1567.5" stroke="#e3e3e3" stroke-width="2.2" />
<line x1="757.4" y1="1589.8" x2="1386.0" y2="1589.8" stroke="#e3e3e3" stroke-width="2.2" />
<line x1="757.4" y1="1612.2" x2="1386.0" y2="1612.2" stroke="#e3e3e3" stroke-width="2.2" />
<line x1="757.4" y1="1634.5" x2="1386.0" y2="1634.5" stroke="#e3e3e3" stroke-width="2.2" />
<line x1="757.4" y1="1656.8" x2="1386.0" y2="1656.8" stroke="#e3e3e3" stroke-width="2.2" />
<line x1="757.4" y1="1679.2" x2="1386.0" y2="1679.2" stroke="#e3e3e3" stroke-width="2.2" />
<line x1="757.4" y1="1701.5" x2="1386.0" y2="1701.5" stroke="#e3e3e3" stroke-width="2.2" />
<circle cx="1071.8" cy="1411.0" r="5.8" fill="#cfcfcf" stroke="none" stroke-width="0" />
<circle cx="1119.4" cy="1411.0" r="5.8" fill="#cfcfcf" stroke="none" stroke-width="0" />
<line x1="800.0" y1="1411.0" x2="860.7" y2="1411.0" stroke="#333333" stroke-width="4.0" />
<line x1="945.4" y1="1411.0" x2="1056.0" y2="1411.0" stroke="#333333" stroke-width="4.0" />
<rect x="860.7" y="1402.7" width="84.7" height="16.6" fill="#ffffff" stroke="#333333" stroke-width="4.2" stroke-linejoin="round"/>
<line x1="888.8" y1="1402.7" x2="888.8" y2="1419.3" stroke="#333333" stroke-width="7.5" />
<circle cx="1026.1" cy="1433.3" r="5.8" fill="#cfcfcf" stroke="none" stroke-width="0" />
<circle cx="1044.2" cy="1433.3" r="5.8" fill="#cfcfcf" stroke="none" stroke-width="0" />
<circle cx="1084.1" cy="1433.3" r="5.8" fill="#cfcfcf" stroke="none" stroke-width="0" />
<line x1="793.2" y1="1433.3" x2="846.2" y2="1433.3" stroke="#333333" stroke-width="4.0" />
<line x1="916.0" y1="1433.3" x2="988.0" y2="1433.3" stroke="#333333" stroke-width="4.0" />
<rect x="846.2" y="1425.0" width="69.8" height="16.6" fill="#ffffff" stroke="#333333" stroke-width="4.2" stroke-linejoin="round"/>
<line x1="869.3" y1="1425.0" x2="869.3" y2="1441.6" stroke="#333333" stroke-width="7.5" />
<line x1="795.5" y1="1455.7" x2="827.2" y2="1455.7" stroke="#333333" stroke-width="4.0" />
<line x1="881.6" y1="1455.7" x2="954.5" y2="1455.7" stroke="#333333" stroke-width="4.0" />
<rect x="827.2" y="1447.4" width="54.4" height="16.6" fill="#ffffff" stroke="#333333" stroke-width="4.2" stroke-linejoin="round"/>
<line x1="856.2" y1="1447.4" x2="856.2" y2="1464.0" stroke="#333333" stroke-width="7.5" />
<circle cx="1039.7" cy="1478.0" r="5.8" fill="#cfcfcf" stroke="none" stroke-width="0" />
<line x1="788.7" y1="1478.0" x2="827.7" y2="1478.0" stroke="#333333" stroke-width="4.0" />
<line x1="906.9" y1="1478.0" x2="1005.7" y2="1478.0" stroke="#333333" stroke-width="4.0" />
<rect x="827.7" y="1469.8" width="79.3" height="16.6" fill="#ffffff" stroke="#333333" stroke-width="4.2" stroke-linejoin="round"/>
<line x1="855.3" y1="1469.8" x2="855.3" y2="1486.3" stroke="#333333" stroke-width="7.5" />
<circle cx="928.2" cy="1500.4" r="5.8" fill="#cfcfcf" stroke="none" stroke-width="0" />
<circle cx="932.3" cy="1500.4" r="5.8" fill="#cfcfcf" stroke="none" stroke-width="0" />
<circle cx="951.8" cy="1500.4" r="5.8" fill="#cfcfcf" stroke="none" stroke-width="0" />
<circle cx="969.4" cy="1500.4" r="5.8" fill="#cfcfcf" stroke="none" stroke-width="0" />
<line x1="788.7" y1="1500.4" x2="816.3" y2="1500.4" stroke="#333333" stroke-width="4.0" />
<line x1="860.3" y1="1500.4" x2="904.7" y2="1500.4" stroke="#333333" stroke-width="4.0" />
<rect x="816.3" y="1492.1" width="43.9" height="16.6" fill="#ffffff" stroke="#333333" stroke-width="4.2" stroke-linejoin="round"/>
<line x1="830.4" y1="1492.1" x2="830.4" y2="1508.7" stroke="#333333" stroke-width="7.5" />
<circle cx="878.4" cy="1522.8" r="5.8" fill="#cfcfcf" stroke="none" stroke-width="0" />
<circle cx="920.5" cy="1522.8" r="5.8" fill="#cfcfcf" stroke="none" stroke-width="0" />
<line x1="789.6" y1="1522.8" x2="805.0" y2="1522.8" stroke="#333333" stroke-width="4.0" />
<line x1="833.5" y1="1522.8" x2="862.5" y2="1522.8" stroke="#333333" stroke-width="4.0" />
<rect x="805.0" y="1514.5" width="28.5" height="16.6" fill="#ffffff" stroke="#333333" stroke-width="4.2" stroke-linejoin="round"/>
<line x1="817.2" y1="1514.5" x2="817.2" y2="1531.0" stroke="#333333" stroke-width="7.5" />
<circle cx="948.2" cy="1545.1" r="5.8" fill="#cfcfcf" stroke="none" stroke-width="0" />
<circle cx="958.6" cy="1545.1" r="5.8" fill="#cfcfcf" stroke="none" stroke-width="0" />
<circle cx="1050.1" cy="1545.1" r="5.8" fill="#cfcfcf" stroke="none" stroke-width="0" />
<circle cx="1061.9" cy="1545.1" r="5.8" fill="#cfcfcf" stroke="none" stroke-width="0" />
<line x1="815.4" y1="1545.1" x2="835.8" y2="1545.1" stroke="#333333" stroke-width="4.0" />
<line x1="877.0" y1="1545.1" x2="930.5" y2="1545.1" stroke="#333333" stroke-width="4.0" />
<rect x="835.8" y="1536.8" width="41.2" height="16.6" fill="#ffffff" stroke="#333333" stroke-width="4.2" stroke-linejoin="round"/>
<line x1="848.0" y1="1536.8" x2="848.0" y2="1553.4" stroke="#333333" stroke-width="7.5" />
<circle cx="1059.1" cy="1567.5" r="5.8" fill="#cfcfcf" stroke="none" stroke-width="0" />
<circle cx="1087.7" cy="1567.5" r="5.8" fill="#cfcfcf" stroke="none" stroke-width="0" />
<line x1="798.7" y1="1567.5" x2="825.4" y2="1567.5" stroke="#333333" stroke-width="4.0" />
<line x1="921.4" y1="1567.5" x2="1027.4" y2="1567.5" stroke="#333333" stroke-width="4.0" />
<rect x="825.4" y="1559.2" width="96.0" height="16.6" fill="#ffffff" stroke="#333333" stroke-width="4.2" stroke-linejoin="round"/>
<line x1="853.9" y1="1559.2" x2="853.9" y2="1575.8" stroke="#333333" stroke-width="7.5" />
<circle cx="914.2" cy="1589.8" r="5.8" fill="#cfcfcf" stroke="none" stroke-width="0" />
<line x1="789.2" y1="1589.8" x2="800.9" y2="1589.8" stroke="#333333" stroke-width="4.0" />
<line x1="838.1" y1="1589.8" x2="877.5" y2="1589.8" stroke="#333333" stroke-width="4.0" />
<rect x="800.9" y="1581.5" width="37.1" height="16.6" fill="#ffffff" stroke="#333333" stroke-width="4.2" stroke-linejoin="round"/>
<line x1="819.1" y1="1581.5" x2="819.1" y2="1598.1" stroke="#333333" stroke-width="7.5" />
<circle cx="957.2" cy="1612.2" r="5.8" fill="#cfcfcf" stroke="none" stroke-width="0" />
<circle cx="969.4" cy="1612.2" r="5.8" fill="#cfcfcf" stroke="none" stroke-width="0" />
<circle cx="1024.3" cy="1612.2" r="5.8" fill="#cfcfcf" stroke="none" stroke-width="0" />
<line x1="803.6" y1="1612.2" x2="835.8" y2="1612.2" stroke="#333333" stroke-width="4.0" />
<line x1="884.3" y1="1612.2" x2="943.2" y2="1612.2" stroke="#333333" stroke-width="4.0" />
<rect x="835.8" y="1603.9" width="48.5" height="16.6" fill="#ffffff" stroke="#333333" stroke-width="4.2" stroke-linejoin="round"/>
<line x1="849.9" y1="1603.9" x2="849.9" y2="1620.5" stroke="#333333" stroke-width="7.5" />
<circle cx="788.2" cy="1634.5" r="5.8" fill="#cfcfcf" stroke="none" stroke-width="0" />
<circle cx="841.2" cy="1634.5" r="5.8" fill="#cfcfcf" stroke="none" stroke-width="0" />
<line x1="792.3" y1="1634.5" x2="807.7" y2="1634.5" stroke="#333333" stroke-width="4.0" />
<line x1="821.8" y1="1634.5" x2="839.9" y2="1634.5" stroke="#333333" stroke-width="4.0" />
<rect x="807.7" y="1626.2" width="14.0" height="16.6" fill="#ffffff" stroke="#333333" stroke-width="4.2" stroke-linejoin="round"/>
<line x1="816.3" y1="1626.2" x2="816.3" y2="1642.8" stroke="#333333" stroke-width="7.5" />
<circle cx="973.5" cy="1656.8" r="5.8" fill="#cfcfcf" stroke="none" stroke-width="0" />
<circle cx="989.4" cy="1656.8" r="5.8" fill="#cfcfcf" stroke="none" stroke-width="0" />
<line x1="790.1" y1="1656.8" x2="808.2" y2="1656.8" stroke="#333333" stroke-width="4.0" />
<line x1="868.4" y1="1656.8" x2="948.6" y2="1656.8" stroke="#333333" stroke-width="4.0" />
<rect x="808.2" y="1648.5" width="60.2" height="16.6" fill="#ffffff" stroke="#333333" stroke-width="4.2" stroke-linejoin="round"/>
<line x1="824.5" y1="1648.5" x2="824.5" y2="1665.1" stroke="#333333" stroke-width="7.5" />
<circle cx="950.4" cy="1679.2" r="5.8" fill="#cfcfcf" stroke="none" stroke-width="0" />
<circle cx="1034.7" cy="1679.2" r="5.8" fill="#cfcfcf" stroke="none" stroke-width="0" />
<line x1="788.2" y1="1679.2" x2="788.2" y2="1679.2" stroke="#333333" stroke-width="4.0" />
<line x1="849.0" y1="1679.2" x2="881.6" y2="1679.2" stroke="#333333" stroke-width="4.0" />
<rect x="788.2" y="1670.9" width="60.7" height="16.6" fill="#ffffff" stroke="#333333" stroke-width="4.2" stroke-linejoin="round"/>
<line x1="798.2" y1="1670.9" x2="798.2" y2="1687.5" stroke="#333333" stroke-width="7.5" />
<line x1="788.7" y1="1701.5" x2="788.7" y2="1701.5" stroke="#333333" stroke-width="4.0" />
<line x1="810.0" y1="1701.5" x2="821.8" y2="1701.5" stroke="#333333" stroke-width="4.0" />
<rect x="788.7" y="1693.2" width="21.3" height="16.6" fill="#ffffff" stroke="#333333" stroke-width="4.2" stroke-linejoin="round"/>
<line x1="796.9" y1="1693.2" x2="796.9" y2="1709.8" stroke="#333333" stroke-width="7.5" />
<rect x="757.4" y="1398.2" width="628.6" height="316.3" fill="none" stroke="#7f7f7f" stroke-width="2.6" />
<line x1="781.0" y1="1715.5" x2="781.0" y2="1727.0" stroke="#000" stroke-width="4" />
<text transform="translate(781.0,1752.0) scale(1,1.042)" font-size="25.7" text-anchor="middle" font-weight="normal" fill="#000" stroke="#000" stroke-width="0.45" >0</text>
<line x1="1007.5" y1="1715.5" x2="1007.5" y2="1727.0" stroke="#000" stroke-width="4" />
<text transform="translate(1007.5,1752.0) scale(1,1.042)" font-size="25.7" text-anchor="middle" font-weight="normal" fill="#000" stroke="#000" stroke-width="0.45" >5</text>
<line x1="1234.0" y1="1715.5" x2="1234.0" y2="1727.0" stroke="#000" stroke-width="4" />
<text transform="translate(1234.0,1752.0) scale(1,1.042)" font-size="25.7" text-anchor="middle" font-weight="normal" fill="#000" stroke="#000" stroke-width="0.45" >10</text>
<rect x="1397.1" y="1398.2" width="628.9" height="316.3" fill="#ffffff" stroke="none" stroke-width="0" />
<line x1="1534.0" y1="1398.2" x2="1534.0" y2="1714.5" stroke="#f2f2f2" stroke-width="1.6" />
<line x1="1760.5" y1="1398.2" x2="1760.5" y2="1714.5" stroke="#f2f2f2" stroke-width="1.6" />
<line x1="1987.0" y1="1398.2" x2="1987.0" y2="1714.5" stroke="#f2f2f2" stroke-width="1.6" />
<line x1="1420.8" y1="1398.2" x2="1420.8" y2="1714.5" stroke="#e3e3e3" stroke-width="2.2" />
<line x1="1647.3" y1="1398.2" x2="1647.3" y2="1714.5" stroke="#e3e3e3" stroke-width="2.2" />
<line x1="1873.8" y1="1398.2" x2="1873.8" y2="1714.5" stroke="#e3e3e3" stroke-width="2.2" />
<line x1="1397.1" y1="1411.0" x2="2026.0" y2="1411.0" stroke="#e3e3e3" stroke-width="2.2" />
<line x1="1397.1" y1="1433.3" x2="2026.0" y2="1433.3" stroke="#e3e3e3" stroke-width="2.2" />
<line x1="1397.1" y1="1455.7" x2="2026.0" y2="1455.7" stroke="#e3e3e3" stroke-width="2.2" />
<line x1="1397.1" y1="1478.0" x2="2026.0" y2="1478.0" stroke="#e3e3e3" stroke-width="2.2" />
<line x1="1397.1" y1="1500.4" x2="2026.0" y2="1500.4" stroke="#e3e3e3" stroke-width="2.2" />
<line x1="1397.1" y1="1522.8" x2="2026.0" y2="1522.8" stroke="#e3e3e3" stroke-width="2.2" />
<line x1="1397.1" y1="1545.1" x2="2026.0" y2="1545.1" stroke="#e3e3e3" stroke-width="2.2" />
<line x1="1397.1" y1="1567.5" x2="2026.0" y2="1567.5" stroke="#e3e3e3" stroke-width="2.2" />
<line x1="1397.1" y1="1589.8" x2="2026.0" y2="1589.8" stroke="#e3e3e3" stroke-width="2.2" />
<line x1="1397.1" y1="1612.2" x2="2026.0" y2="1612.2" stroke="#e3e3e3" stroke-width="2.2" />
<line x1="1397.1" y1="1634.5" x2="2026.0" y2="1634.5" stroke="#e3e3e3" stroke-width="2.2" />
<line x1="1397.1" y1="1656.8" x2="2026.0" y2="1656.8" stroke="#e3e3e3" stroke-width="2.2" />
<line x1="1397.1" y1="1679.2" x2="2026.0" y2="1679.2" stroke="#e3e3e3" stroke-width="2.2" />
<line x1="1397.1" y1="1701.5" x2="2026.0" y2="1701.5" stroke="#e3e3e3" stroke-width="2.2" />
<line x1="1446.6" y1="1411.0" x2="1570.3" y2="1411.0" stroke="#333333" stroke-width="4.0" />
<line x1="1751.0" y1="1411.0" x2="1989.3" y2="1411.0" stroke="#333333" stroke-width="4.0" />
<rect x="1570.3" y="1402.7" width="180.7" height="16.6" fill="#ffffff" stroke="#333333" stroke-width="4.2" stroke-linejoin="round"/>
<line x1="1654.1" y1="1402.7" x2="1654.1" y2="1419.3" stroke="#333333" stroke-width="7.5" />
<circle cx="1982.1" cy="1433.3" r="5.8" fill="#cfcfcf" stroke="none" stroke-width="0" />
<line x1="1443.0" y1="1433.3" x2="1564.9" y2="1433.3" stroke="#333333" stroke-width="4.0" />
<line x1="1728.8" y1="1433.3" x2="1966.7" y2="1433.3" stroke="#333333" stroke-width="4.0" />
<rect x="1564.9" y="1425.0" width="164.0" height="16.6" fill="#ffffff" stroke="#333333" stroke-width="4.2" stroke-linejoin="round"/>
<line x1="1651.4" y1="1425.0" x2="1651.4" y2="1441.6" stroke="#333333" stroke-width="7.5" />
<circle cx="1898.3" cy="1455.7" r="5.8" fill="#cfcfcf" stroke="none" stroke-width="0" />
<line x1="1441.2" y1="1455.7" x2="1517.7" y2="1455.7" stroke="#333333" stroke-width="4.0" />
<line x1="1651.4" y1="1455.7" x2="1846.6" y2="1455.7" stroke="#333333" stroke-width="4.0" />
<rect x="1517.7" y="1447.4" width="133.6" height="16.6" fill="#ffffff" stroke="#333333" stroke-width="4.2" stroke-linejoin="round"/>
<line x1="1578.9" y1="1447.4" x2="1578.9" y2="1464.0" stroke="#333333" stroke-width="7.5" />
<circle cx="1869.7" cy="1478.0" r="5.8" fill="#cfcfcf" stroke="none" stroke-width="0" />
<circle cx="1878.3" cy="1478.0" r="5.8" fill="#cfcfcf" stroke="none" stroke-width="0" />
<line x1="1436.7" y1="1478.0" x2="1506.9" y2="1478.0" stroke="#333333" stroke-width="4.0" />
<line x1="1649.6" y1="1478.0" x2="1760.5" y2="1478.0" stroke="#333333" stroke-width="4.0" />
<rect x="1506.9" y="1469.8" width="142.7" height="16.6" fill="#ffffff" stroke="#333333" stroke-width="4.2" stroke-linejoin="round"/>
<line x1="1567.1" y1="1469.8" x2="1567.1" y2="1486.3" stroke="#333333" stroke-width="7.5" />
<circle cx="1727.9" cy="1500.4" r="5.8" fill="#cfcfcf" stroke="none" stroke-width="0" />
<circle cx="1787.3" cy="1500.4" r="5.8" fill="#cfcfcf" stroke="none" stroke-width="0" />
<circle cx="1809.5" cy="1500.4" r="5.8" fill="#cfcfcf" stroke="none" stroke-width="0" />
<line x1="1449.3" y1="1500.4" x2="1532.7" y2="1500.4" stroke="#333333" stroke-width="4.0" />
<line x1="1611.1" y1="1500.4" x2="1711.6" y2="1500.4" stroke="#333333" stroke-width="4.0" />
<rect x="1532.7" y="1492.1" width="78.4" height="16.6" fill="#ffffff" stroke="#333333" stroke-width="4.2" stroke-linejoin="round"/>
<line x1="1579.8" y1="1492.1" x2="1579.8" y2="1508.7" stroke="#333333" stroke-width="7.5" />
<circle cx="1719.8" cy="1522.8" r="5.8" fill="#cfcfcf" stroke="none" stroke-width="0" />
<circle cx="1724.8" cy="1522.8" r="5.8" fill="#cfcfcf" stroke="none" stroke-width="0" />
<circle cx="1734.3" cy="1522.8" r="5.8" fill="#cfcfcf" stroke="none" stroke-width="0" />
<circle cx="1746.1" cy="1522.8" r="5.8" fill="#cfcfcf" stroke="none" stroke-width="0" />
<circle cx="1807.7" cy="1522.8" r="5.8" fill="#cfcfcf" stroke="none" stroke-width="0" />
<line x1="1435.7" y1="1522.8" x2="1502.8" y2="1522.8" stroke="#333333" stroke-width="4.0" />
<line x1="1586.1" y1="1522.8" x2="1701.2" y2="1522.8" stroke="#333333" stroke-width="4.0" />
<rect x="1502.8" y="1514.5" width="83.4" height="16.6" fill="#ffffff" stroke="#333333" stroke-width="4.2" stroke-linejoin="round"/>
<line x1="1550.4" y1="1514.5" x2="1550.4" y2="1531.0" stroke="#333333" stroke-width="7.5" />
<line x1="1452.1" y1="1545.1" x2="1498.3" y2="1545.1" stroke="#333333" stroke-width="4.0" />
<line x1="1626.5" y1="1545.1" x2="1783.2" y2="1545.1" stroke="#333333" stroke-width="4.0" />
<rect x="1498.3" y="1536.8" width="128.2" height="16.6" fill="#ffffff" stroke="#333333" stroke-width="4.2" stroke-linejoin="round"/>
<line x1="1529.1" y1="1536.8" x2="1529.1" y2="1553.4" stroke="#333333" stroke-width="7.5" />
<line x1="1429.0" y1="1567.5" x2="1466.6" y2="1567.5" stroke="#333333" stroke-width="4.0" />
<line x1="1609.7" y1="1567.5" x2="1742.4" y2="1567.5" stroke="#333333" stroke-width="4.0" />
<rect x="1466.6" y="1559.2" width="143.1" height="16.6" fill="#ffffff" stroke="#333333" stroke-width="4.2" stroke-linejoin="round"/>
<line x1="1559.4" y1="1559.2" x2="1559.4" y2="1575.8" stroke="#333333" stroke-width="7.5" />
<circle cx="1723.9" cy="1589.8" r="5.8" fill="#cfcfcf" stroke="none" stroke-width="0" />
<circle cx="1764.6" cy="1589.8" r="5.8" fill="#cfcfcf" stroke="none" stroke-width="0" />
<circle cx="1796.8" cy="1589.8" r="5.8" fill="#cfcfcf" stroke="none" stroke-width="0" />
<line x1="1443.0" y1="1589.8" x2="1496.9" y2="1589.8" stroke="#333333" stroke-width="4.0" />
<line x1="1579.8" y1="1589.8" x2="1697.1" y2="1589.8" stroke="#333333" stroke-width="4.0" />
<rect x="1496.9" y="1581.5" width="82.9" height="16.6" fill="#ffffff" stroke="#333333" stroke-width="4.2" stroke-linejoin="round"/>
<line x1="1524.5" y1="1581.5" x2="1524.5" y2="1598.1" stroke="#333333" stroke-width="7.5" />
<circle cx="1676.3" cy="1612.2" r="5.8" fill="#cfcfcf" stroke="none" stroke-width="0" />
<circle cx="1693.1" cy="1612.2" r="5.8" fill="#cfcfcf" stroke="none" stroke-width="0" />
<circle cx="1706.6" cy="1612.2" r="5.8" fill="#cfcfcf" stroke="none" stroke-width="0" />
<circle cx="1713.9" cy="1612.2" r="5.8" fill="#cfcfcf" stroke="none" stroke-width="0" />
<circle cx="1733.4" cy="1612.2" r="5.8" fill="#cfcfcf" stroke="none" stroke-width="0" />
<circle cx="1748.3" cy="1612.2" r="5.8" fill="#cfcfcf" stroke="none" stroke-width="0" />
<line x1="1454.8" y1="1612.2" x2="1494.2" y2="1612.2" stroke="#333333" stroke-width="4.0" />
<line x1="1566.7" y1="1612.2" x2="1669.0" y2="1612.2" stroke="#333333" stroke-width="4.0" />
<rect x="1494.2" y="1603.9" width="72.5" height="16.6" fill="#ffffff" stroke="#333333" stroke-width="4.2" stroke-linejoin="round"/>
<line x1="1525.9" y1="1603.9" x2="1525.9" y2="1620.5" stroke="#333333" stroke-width="7.5" />
<circle cx="1715.2" cy="1634.5" r="5.8" fill="#cfcfcf" stroke="none" stroke-width="0" />
<circle cx="1732.9" cy="1634.5" r="5.8" fill="#cfcfcf" stroke="none" stroke-width="0" />
<line x1="1429.0" y1="1634.5" x2="1475.2" y2="1634.5" stroke="#333333" stroke-width="4.0" />
<line x1="1567.6" y1="1634.5" x2="1694.4" y2="1634.5" stroke="#333333" stroke-width="4.0" />
<rect x="1475.2" y="1626.2" width="92.4" height="16.6" fill="#ffffff" stroke="#333333" stroke-width="4.2" stroke-linejoin="round"/>
<line x1="1519.6" y1="1626.2" x2="1519.6" y2="1642.8" stroke="#333333" stroke-width="7.5" />
<circle cx="1627.8" cy="1656.8" r="5.8" fill="#cfcfcf" stroke="none" stroke-width="0" />
<circle cx="1656.4" cy="1656.8" r="5.8" fill="#cfcfcf" stroke="none" stroke-width="0" />
<circle cx="1669.9" cy="1656.8" r="5.8" fill="#cfcfcf" stroke="none" stroke-width="0" />
<circle cx="1717.5" cy="1656.8" r="5.8" fill="#cfcfcf" stroke="none" stroke-width="0" />
<circle cx="1739.3" cy="1656.8" r="5.8" fill="#cfcfcf" stroke="none" stroke-width="0" />
<circle cx="1803.1" cy="1656.8" r="5.8" fill="#cfcfcf" stroke="none" stroke-width="0" />
<line x1="1429.0" y1="1656.8" x2="1459.8" y2="1656.8" stroke="#333333" stroke-width="4.0" />
<line x1="1525.9" y1="1656.8" x2="1583.4" y2="1656.8" stroke="#333333" stroke-width="4.0" />
<rect x="1459.8" y="1648.5" width="66.1" height="16.6" fill="#ffffff" stroke="#333333" stroke-width="4.2" stroke-linejoin="round"/>
<line x1="1491.5" y1="1648.5" x2="1491.5" y2="1665.1" stroke="#333333" stroke-width="7.5" />
<circle cx="1719.3" cy="1679.2" r="5.8" fill="#cfcfcf" stroke="none" stroke-width="0" />
<circle cx="1731.1" cy="1679.2" r="5.8" fill="#cfcfcf" stroke="none" stroke-width="0" />
<circle cx="1757.8" cy="1679.2" r="5.8" fill="#cfcfcf" stroke="none" stroke-width="0" />
<line x1="1429.0" y1="1679.2" x2="1450.2" y2="1679.2" stroke="#333333" stroke-width="4.0" />
<line x1="1548.1" y1="1679.2" x2="1684.0" y2="1679.2" stroke="#333333" stroke-width="4.0" />
<rect x="1450.2" y="1670.9" width="97.8" height="16.6" fill="#ffffff" stroke="#333333" stroke-width="4.2" stroke-linejoin="round"/>
<line x1="1488.3" y1="1670.9" x2="1488.3" y2="1687.5" stroke="#333333" stroke-width="7.5" />
<circle cx="1500.1" cy="1701.5" r="5.8" fill="#cfcfcf" stroke="none" stroke-width="0" />
<circle cx="1528.2" cy="1701.5" r="5.8" fill="#cfcfcf" stroke="none" stroke-width="0" />
<circle cx="1559.9" cy="1701.5" r="5.8" fill="#cfcfcf" stroke="none" stroke-width="0" />
<circle cx="1631.9" cy="1701.5" r="5.8" fill="#cfcfcf" stroke="none" stroke-width="0" />
<line x1="1429.0" y1="1701.5" x2="1436.2" y2="1701.5" stroke="#333333" stroke-width="4.0" />
<line x1="1461.6" y1="1701.5" x2="1496.5" y2="1701.5" stroke="#333333" stroke-width="4.0" />
<rect x="1436.2" y="1693.2" width="25.4" height="16.6" fill="#ffffff" stroke="#333333" stroke-width="4.2" stroke-linejoin="round"/>
<line x1="1441.6" y1="1693.2" x2="1441.6" y2="1709.8" stroke="#333333" stroke-width="7.5" />
<rect x="1397.1" y="1398.2" width="628.9" height="316.3" fill="none" stroke="#7f7f7f" stroke-width="2.6" />
<line x1="1420.8" y1="1715.5" x2="1420.8" y2="1727.0" stroke="#000" stroke-width="4" />
<text transform="translate(1420.8,1752.0) scale(1,1.042)" font-size="25.7" text-anchor="middle" font-weight="normal" fill="#000" stroke="#000" stroke-width="0.45" >0</text>
<line x1="1647.3" y1="1715.5" x2="1647.3" y2="1727.0" stroke="#000" stroke-width="4" />
<text transform="translate(1647.3,1752.0) scale(1,1.042)" font-size="25.7" text-anchor="middle" font-weight="normal" fill="#000" stroke="#000" stroke-width="0.45" >5</text>
<line x1="1873.8" y1="1715.5" x2="1873.8" y2="1727.0" stroke="#000" stroke-width="4" />
<text transform="translate(1873.8,1752.0) scale(1,1.042)" font-size="25.7" text-anchor="middle" font-weight="normal" fill="#000" stroke="#000" stroke-width="0.45" >10</text>
<text transform="translate(1113.7,1784.0) scale(1,1.042)" font-size="41.5" text-anchor="middle" font-weight="normal" fill="#000" stroke="#000" stroke-width="0.45" >node strength</text>
<rect x="108.9" y="1943.7" width="190.8" height="535.7" fill="#fff" stroke="none" stroke-width="0" />
<line x1="108.9" y1="2377.0" x2="299.7" y2="2377.0" stroke="#f2f2f2" stroke-width="1.6" />
<line x1="108.9" y1="2191.0" x2="299.7" y2="2191.0" stroke="#f2f2f2" stroke-width="1.6" />
<line x1="108.9" y1="2005.0" x2="299.7" y2="2005.0" stroke="#f2f2f2" stroke-width="1.6" />
<line x1="108.9" y1="2470.0" x2="299.7" y2="2470.0" stroke="#e3e3e3" stroke-width="2.2" />
<line x1="108.9" y1="2284.0" x2="299.7" y2="2284.0" stroke="#e3e3e3" stroke-width="2.2" />
<line x1="108.9" y1="2098.0" x2="299.7" y2="2098.0" stroke="#e3e3e3" stroke-width="2.2" />
<line x1="143.6" y1="1943.7" x2="143.6" y2="2479.4" stroke="#e3e3e3" stroke-width="2.2" />
<line x1="203.9" y1="1943.7" x2="203.9" y2="2479.4" stroke="#e3e3e3" stroke-width="2.2" />
<line x1="264.2" y1="1943.7" x2="264.2" y2="2479.4" stroke="#e3e3e3" stroke-width="2.2" />
<line x1="131.6" y1="2141.7" x2="131.6" y2="2377.0" stroke="#333333" stroke-width="3.8" />
<rect x="119.6" y="2201.4" width="24.0" height="118.9" fill="#f8766d" stroke="#333333" stroke-width="3.8" />
<line x1="119.6" y1="2278.4" x2="143.6" y2="2278.4" stroke="#333333" stroke-width="6.5" />
<line x1="155.6" y1="2110.1" x2="155.6" y2="2383.0" stroke="#333333" stroke-width="3.8" />
<rect x="143.6" y="2245.1" width="24.0" height="92.4" fill="#00bfc4" stroke="#333333" stroke-width="3.8" />
<line x1="143.6" y1="2305.4" x2="167.6" y2="2305.4" stroke="#333333" stroke-width="6.5" />
<line x1="191.9" y1="2049.6" x2="191.9" y2="2367.3" stroke="#333333" stroke-width="3.8" />
<rect x="179.9" y="2179.1" width="24.0" height="110.9" fill="#f8766d" stroke="#333333" stroke-width="3.8" />
<line x1="179.9" y1="2236.6" x2="203.9" y2="2236.6" stroke="#333333" stroke-width="6.5" />
<line x1="215.9" y1="1968.9" x2="215.9" y2="2370.9" stroke="#333333" stroke-width="3.8" />
<rect x="203.9" y="2165.1" width="24.0" height="146.4" fill="#00bfc4" stroke="#333333" stroke-width="3.8" />
<line x1="203.9" y1="2230.6" x2="227.9" y2="2230.6" stroke="#333333" stroke-width="6.5" />
<line x1="252.2" y1="2081.4" x2="252.2" y2="2428.7" stroke="#333333" stroke-width="3.8" />
<rect x="240.2" y="2234.7" width="24.0" height="110.3" fill="#f8766d" stroke="#333333" stroke-width="3.8" />
<line x1="240.2" y1="2312.3" x2="264.2" y2="2312.3" stroke="#333333" stroke-width="6.5" />
<line x1="276.2" y1="2254.8" x2="276.2" y2="2429.5" stroke="#333333" stroke-width="3.8" />
<rect x="264.2" y="2291.6" width="24.0" height="66.6" fill="#00bfc4" stroke="#333333" stroke-width="3.8" />
<line x1="264.2" y1="2327.2" x2="288.2" y2="2327.2" stroke="#333333" stroke-width="6.5" />
<rect x="108.9" y="1943.7" width="190.8" height="535.7" fill="none" stroke="#7f7f7f" stroke-width="2.6" />
<line x1="98.9" y1="2470.0" x2="107.0" y2="2470.0" stroke="#000" stroke-width="3.6" />
<text transform="translate(94.7,2480.0) scale(1,1.042)" font-size="28" text-anchor="end" font-weight="normal" fill="#000" stroke="#000" stroke-width="0.45" >1</text>
<line x1="98.9" y1="2284.0" x2="107.0" y2="2284.0" stroke="#000" stroke-width="3.6" />
<text transform="translate(94.7,2294.0) scale(1,1.042)" font-size="28" text-anchor="end" font-weight="normal" fill="#000" stroke="#000" stroke-width="0.45" >2</text>
<line x1="98.9" y1="2098.0" x2="107.0" y2="2098.0" stroke="#000" stroke-width="3.6" />
<text transform="translate(94.7,2108.0) scale(1,1.042)" font-size="28" text-anchor="end" font-weight="normal" fill="#000" stroke="#000" stroke-width="0.45" >3</text>
<line x1="143.6" y1="2480.4" x2="143.6" y2="2488.4" stroke="#000" stroke-width="3.6" />
<text transform="translate(81.0,2516.6) scale(1,1.042)" font-size="29" text-anchor="start" font-weight="normal" fill="#000" stroke="#000" stroke-width="0.45" >P2–5</text>
<line x1="203.9" y1="2480.4" x2="203.9" y2="2488.4" stroke="#000" stroke-width="3.6" />
<text transform="translate(162.0,2516.6) scale(1,1.042)" font-size="29" text-anchor="start" font-weight="normal" fill="#000" stroke="#000" stroke-width="0.45" >P8–9</text>
<line x1="264.2" y1="2480.4" x2="264.2" y2="2488.4" stroke="#000" stroke-width="3.6" />
<text transform="translate(243.0,2516.6) scale(1,1.042)" font-size="29" text-anchor="start" font-weight="normal" fill="#000" stroke="#000" stroke-width="0.45" >P12–13</text>
<text transform="translate(61.5,2204.5) rotate(-90) scale(1,1.042)" x="0" y="0" font-size="42" text-anchor="middle" stroke="#000" stroke-width="0.45">avg path length</text>
<line x1="192.2" y1="1963.4" x2="252.2" y2="1963.4" stroke="#000" stroke-width="2.2" />
<line x1="192.2" y1="1958.9" x2="192.2" y2="1967.9" stroke="#000" stroke-width="2.2" />
<line x1="252.2" y1="1958.9" x2="252.2" y2="1967.9" stroke="#000" stroke-width="2.2" />
<text transform="translate(222.2,1959.0) scale(1,1.042)" font-size="25" text-anchor="middle" font-weight="normal" fill="#000" stroke="#000" stroke-width="0.45" >ns</text>
<line x1="131.9" y1="1994.7" x2="251.5" y2="1994.7" stroke="#000" stroke-width="2.2" />
<line x1="131.9" y1="1990.2" x2="131.9" y2="1999.2" stroke="#000" stroke-width="2.2" />
<line x1="251.5" y1="1990.2" x2="251.5" y2="1999.2" stroke="#000" stroke-width="2.2" />
<text transform="translate(191.7,1991.5) scale(1,1.042)" font-size="25" text-anchor="middle" font-weight="normal" fill="#000" stroke="#000" stroke-width="0.45" >ns</text>
<line x1="131.9" y1="2020.5" x2="191.2" y2="2020.5" stroke="#000" stroke-width="2.2" />
<line x1="131.9" y1="2016.0" x2="131.9" y2="2025.0" stroke="#000" stroke-width="2.2" />
<line x1="191.2" y1="2016.0" x2="191.2" y2="2025.0" stroke="#000" stroke-width="2.2" />
<text transform="translate(161.6,2018.0) scale(1,1.042)" font-size="25" text-anchor="middle" font-weight="normal" fill="#000" stroke="#000" stroke-width="0.45" >ns</text>
<text transform="translate(148.8,2105.6) scale(1,1.042)" font-size="25" text-anchor="middle" font-weight="normal" fill="#000" stroke="#000" stroke-width="0.45" >ns</text>
<text transform="translate(203.2,2047.8) scale(1,1.042)" font-size="25" text-anchor="middle" font-weight="normal" fill="#000" stroke="#000" stroke-width="0.45" >ns</text>
<text transform="translate(261.8,2076.3) scale(1,1.042)" font-size="25" text-anchor="middle" font-weight="normal" fill="#000" stroke="#000" stroke-width="0.45" >ns</text>
<rect x="495.3" y="1943.7" width="187.4" height="535.7" fill="#fff" stroke="none" stroke-width="0" />
<line x1="495.3" y1="2419.0" x2="682.7" y2="2419.0" stroke="#f2f2f2" stroke-width="1.6" />
<line x1="495.3" y1="2281.8" x2="682.7" y2="2281.8" stroke="#f2f2f2" stroke-width="1.6" />
<line x1="495.3" y1="2144.4" x2="682.7" y2="2144.4" stroke="#f2f2f2" stroke-width="1.6" />
<line x1="495.3" y1="2007.1" x2="682.7" y2="2007.1" stroke="#f2f2f2" stroke-width="1.6" />
<line x1="495.3" y1="2350.4" x2="682.7" y2="2350.4" stroke="#e3e3e3" stroke-width="2.2" />
<line x1="495.3" y1="2213.1" x2="682.7" y2="2213.1" stroke="#e3e3e3" stroke-width="2.2" />
<line x1="495.3" y1="2075.8" x2="682.7" y2="2075.8" stroke="#e3e3e3" stroke-width="2.2" />
<line x1="530.1" y1="1943.7" x2="530.1" y2="2479.4" stroke="#e3e3e3" stroke-width="2.2" />
<line x1="589.0" y1="1943.7" x2="589.0" y2="2479.4" stroke="#e3e3e3" stroke-width="2.2" />
<line x1="648.3" y1="1943.7" x2="648.3" y2="2479.4" stroke="#e3e3e3" stroke-width="2.2" />
<line x1="518.1" y1="2059.1" x2="518.1" y2="2354.7" stroke="#333333" stroke-width="3.8" />
<rect x="506.1" y="2119.4" width="24.0" height="129.2" fill="#f8766d" stroke="#333333" stroke-width="3.8" />
<line x1="506.1" y1="2187.6" x2="530.1" y2="2187.6" stroke="#333333" stroke-width="6.5" />
<line x1="542.1" y1="2091.8" x2="542.1" y2="2444.2" stroke="#333333" stroke-width="3.8" />
<rect x="530.1" y="2200.4" width="24.0" height="173.9" fill="#00bfc4" stroke="#333333" stroke-width="3.8" />
<line x1="530.1" y1="2297.5" x2="554.1" y2="2297.5" stroke="#333333" stroke-width="6.5" />
<line x1="577.0" y1="2113.6" x2="577.0" y2="2322.0" stroke="#333333" stroke-width="3.8" />
<rect x="565.0" y="2195.2" width="24.0" height="62.7" fill="#f8766d" stroke="#333333" stroke-width="3.8" />
<line x1="565.0" y1="2216.9" x2="589.0" y2="2216.9" stroke="#333333" stroke-width="6.5" />
<line x1="601.0" y1="2165.2" x2="601.0" y2="2455.3" stroke="#333333" stroke-width="3.8" />
<rect x="589.0" y="2281.3" width="24.0" height="128.2" fill="#00bfc4" stroke="#333333" stroke-width="3.8" />
<line x1="589.0" y1="2368.5" x2="613.0" y2="2368.5" stroke="#333333" stroke-width="6.5" />
<line x1="636.3" y1="2003.0" x2="636.3" y2="2255.5" stroke="#333333" stroke-width="3.8" />
<rect x="624.3" y="2074.6" width="24.0" height="89.6" fill="#f8766d" stroke="#333333" stroke-width="3.8" />
<line x1="624.3" y1="2121.1" x2="648.3" y2="2121.1" stroke="#333333" stroke-width="6.5" />
<line x1="660.3" y1="2022.3" x2="660.3" y2="2441.5" stroke="#333333" stroke-width="3.8" />
<rect x="648.3" y="2172.8" width="24.0" height="129.2" fill="#00bfc4" stroke="#333333" stroke-width="3.8" />
<line x1="648.3" y1="2225.5" x2="672.3" y2="2225.5" stroke="#333333" stroke-width="6.5" />
<rect x="495.3" y="1943.7" width="187.4" height="535.7" fill="none" stroke="#7f7f7f" stroke-width="2.6" />
<line x1="482.2" y1="2350.4" x2="495.3" y2="2350.4" stroke="#000" stroke-width="3.6" />
<text transform="translate(476.0,2360.4) scale(1,1.042)" font-size="28" text-anchor="end" font-weight="normal" fill="#000" stroke="#000" stroke-width="0.45" >0.25</text>
<line x1="482.2" y1="2213.1" x2="495.3" y2="2213.1" stroke="#000" stroke-width="3.6" />
<text transform="translate(476.0,2223.1) scale(1,1.042)" font-size="28" text-anchor="end" font-weight="normal" fill="#000" stroke="#000" stroke-width="0.45" >0.50</text>
<line x1="482.2" y1="2075.8" x2="495.3" y2="2075.8" stroke="#000" stroke-width="3.6" />
<text transform="translate(476.0,2085.8) scale(1,1.042)" font-size="28" text-anchor="end" font-weight="normal" fill="#000" stroke="#000" stroke-width="0.45" >0.75</text>
<line x1="530.1" y1="2480.4" x2="530.1" y2="2488.4" stroke="#000" stroke-width="3.6" />
<text transform="translate(466.4,2516.6) scale(1,1.042)" font-size="29" text-anchor="start" font-weight="normal" fill="#000" stroke="#000" stroke-width="0.45" >P2–5</text>
<line x1="589.0" y1="2480.4" x2="589.0" y2="2488.4" stroke="#000" stroke-width="3.6" />
<text transform="translate(547.3,2516.6) scale(1,1.042)" font-size="29" text-anchor="start" font-weight="normal" fill="#000" stroke="#000" stroke-width="0.45" >P8–9</text>
<line x1="648.3" y1="2480.4" x2="648.3" y2="2488.4" stroke="#000" stroke-width="3.6" />
<text transform="translate(628.6,2516.6) scale(1,1.042)" font-size="29" text-anchor="start" font-weight="normal" fill="#000" stroke="#000" stroke-width="0.45" >P12–13</text>
<text transform="translate(408.5,2258.8) rotate(-90) scale(1,1.042)" x="0" y="0" font-size="42" text-anchor="middle" stroke="#000" stroke-width="0.45">clustering coefficient</text>
<line x1="577.6" y1="1959.2" x2="636.2" y2="1959.2" stroke="#000" stroke-width="2.2" />
<line x1="577.6" y1="1954.7" x2="577.6" y2="1963.7" stroke="#000" stroke-width="2.2" />
<line x1="636.2" y1="1954.7" x2="636.2" y2="1963.7" stroke="#000" stroke-width="2.2" />
<text transform="translate(606.9,1971.5) scale(1,1.042)" font-size="38" text-anchor="middle" font-weight="normal" fill="#000" stroke="#000" stroke-width="0.45" >***</text>
<line x1="518.4" y1="1982.7" x2="636.2" y2="1982.7" stroke="#000" stroke-width="2.2" />
<line x1="518.4" y1="1978.2" x2="518.4" y2="1987.2" stroke="#000" stroke-width="2.2" />
<line x1="636.2" y1="1978.2" x2="636.2" y2="1987.2" stroke="#000" stroke-width="2.2" />
<text transform="translate(577.3,1995.0) scale(1,1.042)" font-size="38" text-anchor="middle" font-weight="normal" fill="#000" stroke="#000" stroke-width="0.45" >*</text>
<line x1="518.4" y1="2020.5" x2="577.0" y2="2020.5" stroke="#000" stroke-width="2.2" />
<line x1="518.4" y1="2016.0" x2="518.4" y2="2025.0" stroke="#000" stroke-width="2.2" />
<line x1="577.0" y1="2016.0" x2="577.0" y2="2025.0" stroke="#000" stroke-width="2.2" />
<text transform="translate(547.7,2018.0) scale(1,1.042)" font-size="25" text-anchor="middle" font-weight="normal" fill="#000" stroke="#000" stroke-width="0.45" >ns</text>
<text transform="translate(530.4,2067.0) scale(1,1.042)" font-size="38" text-anchor="middle" font-weight="normal" fill="#000" stroke="#000" stroke-width="0.45" >**</text>
<text transform="translate(589.0,2122.0) scale(1,1.042)" font-size="38" text-anchor="middle" font-weight="normal" fill="#000" stroke="#000" stroke-width="0.45" >***</text>
<text transform="translate(648.3,2015.0) scale(1,1.042)" font-size="38" text-anchor="middle" font-weight="normal" fill="#000" stroke="#000" stroke-width="0.45" >***</text>
<line x1="330.3" y1="1950.5" x2="330.3" y2="1990.0" stroke="#333333" stroke-width="3.6" stroke-linecap="round"/>
<rect x="312.6" y="1958.6" width="34.8" height="22.8" fill="#f8766d" stroke="#333333" stroke-width="4.2" stroke-linejoin="round"/>
<line x1="312.6" y1="1970.0" x2="347.4" y2="1970.0" stroke="#333333" stroke-width="4.9" />
<text transform="translate(359.5,1979.6) scale(1,1.042)" font-size="29" text-anchor="start" font-weight="normal" fill="#000" stroke="#000" stroke-width="0.45" >obs</text>
<line x1="330.3" y1="1997.3" x2="330.3" y2="2036.8" stroke="#333333" stroke-width="3.6" stroke-linecap="round"/>
<rect x="312.6" y="2005.4" width="34.8" height="22.8" fill="#00bfc4" stroke="#333333" stroke-width="4.2" stroke-linejoin="round"/>
<line x1="312.6" y1="2016.8" x2="347.4" y2="2016.8" stroke="#333333" stroke-width="4.9" />
<text transform="translate(359.5,2026.4) scale(1,1.042)" font-size="29" text-anchor="start" font-weight="normal" fill="#000" stroke="#000" stroke-width="0.45" >rand</text>
<rect x="885.3" y="2017.3" width="342.4" height="342.2" fill="#fff" stroke="none" stroke-width="0" />
<line x1="885.3" y1="2321.9" x2="1227.7" y2="2321.9" stroke="#e3e3e3" stroke-width="2.2" />
<line x1="885.3" y1="2250.2" x2="1227.7" y2="2250.2" stroke="#e3e3e3" stroke-width="2.2" />
<line x1="885.3" y1="2178.6" x2="1227.7" y2="2178.6" stroke="#e3e3e3" stroke-width="2.2" />
<line x1="885.3" y1="2106.9" x2="1227.7" y2="2106.9" stroke="#e3e3e3" stroke-width="2.2" />
<line x1="885.3" y1="2035.3" x2="1227.7" y2="2035.3" stroke="#e3e3e3" stroke-width="2.2" />
<line x1="977.0" y1="2017.3" x2="977.0" y2="2359.5" stroke="#e3e3e3" stroke-width="2.2" />
<line x1="1068.8" y1="2017.3" x2="1068.8" y2="2359.5" stroke="#e3e3e3" stroke-width="2.2" />
<line x1="1160.5" y1="2017.3" x2="1160.5" y2="2359.5" stroke="#e3e3e3" stroke-width="2.2" />
<circle cx="904.4" cy="2288.1" r="11.2" fill="#858585" stroke="none" stroke-width="0" />
<line x1="904.4" y1="2300.3" x2="904.4" y2="2275.9" stroke="#505050" stroke-width="4.4" />
<circle cx="904.4" cy="2288.1" r="8.0" fill="#d4a5b5" stroke="none" stroke-width="0" />
<circle cx="927.1" cy="2255.4" r="11.2" fill="#858585" stroke="none" stroke-width="0" />
<line x1="927.1" y1="2268.3" x2="927.1" y2="2242.5" stroke="#505050" stroke-width="4.4" />
<circle cx="927.1" cy="2255.4" r="8.0" fill="#377eb8" stroke="none" stroke-width="0" />
<circle cx="967.1" cy="2232.3" r="11.2" fill="#858585" stroke="none" stroke-width="0" />
<line x1="967.1" y1="2263.9" x2="967.1" y2="2198.6" stroke="#505050" stroke-width="4.4" />
<circle cx="967.1" cy="2232.3" r="8.0" fill="#fdaa4f" stroke="none" stroke-width="0" />
<circle cx="980.4" cy="2204.4" r="11.2" fill="#858585" stroke="none" stroke-width="0" />
<line x1="980.4" y1="2226.6" x2="980.4" y2="2183.6" stroke="#505050" stroke-width="4.4" />
<line x1="969.0" y1="2204.4" x2="992.8" y2="2204.4" stroke="#505050" stroke-width="4.4" />
<circle cx="980.4" cy="2204.4" r="8.0" fill="#984ea3" stroke="none" stroke-width="0" />
<circle cx="987.0" cy="2254.3" r="11.2" fill="#858585" stroke="none" stroke-width="0" />
<line x1="987.0" y1="2265.0" x2="987.0" y2="2243.5" stroke="#505050" stroke-width="4.4" />
<circle cx="987.0" cy="2254.3" r="8.0" fill="#a65628" stroke="none" stroke-width="0" />
<circle cx="994.3" cy="2259.4" r="11.2" fill="#858585" stroke="none" stroke-width="0" />
<line x1="994.3" y1="2275.9" x2="994.3" y2="2247.9" stroke="#505050" stroke-width="4.4" />
<line x1="987.0" y1="2259.4" x2="1010.8" y2="2259.4" stroke="#505050" stroke-width="4.4" />
<circle cx="994.3" cy="2259.4" r="8.0" fill="#4daf4a" stroke="none" stroke-width="0" />
<circle cx="1012.3" cy="2198.6" r="11.2" fill="#858585" stroke="none" stroke-width="0" />
<line x1="1012.3" y1="2220.1" x2="1012.3" y2="2174.3" stroke="#505050" stroke-width="4.4" />
<line x1="999.1" y1="2198.6" x2="1026.2" y2="2198.6" stroke="#505050" stroke-width="4.4" />
<circle cx="1012.3" cy="2198.6" r="8.0" fill="#eb9b94" stroke="none" stroke-width="0" />
<circle cx="1036.9" cy="2208.7" r="11.2" fill="#858585" stroke="none" stroke-width="0" />
<line x1="1036.9" y1="2230.2" x2="1036.9" y2="2186.5" stroke="#505050" stroke-width="4.4" />
<line x1="1023.7" y1="2208.7" x2="1046.8" y2="2208.7" stroke="#505050" stroke-width="4.4" />
<circle cx="1036.9" cy="2208.7" r="8.0" fill="#a6cee3" stroke="none" stroke-width="0" />
<circle cx="1023.7" cy="2245.2" r="11.2" fill="#858585" stroke="none" stroke-width="0" />
<line x1="1023.7" y1="2260.3" x2="1023.7" y2="2232.3" stroke="#505050" stroke-width="4.4" />
<line x1="1012.6" y1="2245.2" x2="1034.7" y2="2245.2" stroke="#505050" stroke-width="4.4" />
<circle cx="1023.7" cy="2245.2" r="8.0" fill="#cccccc" stroke="none" stroke-width="0" />
<circle cx="1035.0" cy="2227.3" r="11.2" fill="#858585" stroke="none" stroke-width="0" />
<line x1="1035.0" y1="2248.1" x2="1035.0" y2="2214.4" stroke="#505050" stroke-width="4.4" />
<line x1="1021.1" y1="2227.3" x2="1046.8" y2="2227.3" stroke="#505050" stroke-width="4.4" />
<circle cx="1035.0" cy="2227.3" r="8.0" fill="#6aae9b" stroke="none" stroke-width="0" />
<circle cx="1050.8" cy="2224.4" r="11.2" fill="#858585" stroke="none" stroke-width="0" />
<line x1="1050.8" y1="2242.4" x2="1050.8" y2="2206.5" stroke="#505050" stroke-width="4.4" />
<line x1="1032.8" y1="2224.4" x2="1069.9" y2="2224.4" stroke="#505050" stroke-width="4.4" />
<circle cx="1050.8" cy="2224.4" r="8.0" fill="#7fc86a" stroke="none" stroke-width="0" />
<circle cx="1152.5" cy="2184.3" r="11.2" fill="#858585" stroke="none" stroke-width="0" />
<line x1="1152.5" y1="2210.1" x2="1152.5" y2="2160.7" stroke="#505050" stroke-width="4.4" />
<circle cx="1152.5" cy="2184.3" r="8.0" fill="#ffff33" stroke="none" stroke-width="0" />
<circle cx="1163.5" cy="2123.4" r="11.2" fill="#858585" stroke="none" stroke-width="0" />
<line x1="1163.5" y1="2157.8" x2="1163.5" y2="2091.2" stroke="#505050" stroke-width="4.4" />
<line x1="1150.6" y1="2123.4" x2="1176.3" y2="2123.4" stroke="#505050" stroke-width="4.4" />
<circle cx="1163.5" cy="2123.4" r="8.0" fill="#ff7f00" stroke="none" stroke-width="0" />
<circle cx="1186.6" cy="2066.8" r="11.2" fill="#858585" stroke="none" stroke-width="0" />
<line x1="1186.6" y1="2099.0" x2="1186.6" y2="2035.3" stroke="#505050" stroke-width="4.4" />
<line x1="1174.5" y1="2066.8" x2="1198.4" y2="2066.8" stroke="#505050" stroke-width="4.4" />
<circle cx="1186.6" cy="2066.8" r="8.0" fill="#e41a1c" stroke="none" stroke-width="0" />
<line x1="904.4" y1="2288.1" x2="1186.6" y2="2120.5" stroke="#000" stroke-width="4.2" />
<rect x="885.3" y="2017.3" width="342.4" height="342.2" fill="none" stroke="#7f7f7f" stroke-width="2.6" />
<line x1="885.3" y1="2361.5" x2="885.3" y2="2375.5" stroke="#000" stroke-width="3.6" />
<text transform="translate(885.3,2411.5) scale(1,1.042)" font-size="36" text-anchor="middle" font-weight="normal" fill="#000" stroke="#000" stroke-width="0.45" >0.00</text>
<line x1="977.0" y1="2361.5" x2="977.0" y2="2375.5" stroke="#000" stroke-width="3.6" />
<text transform="translate(977.0,2411.5) scale(1,1.042)" font-size="36" text-anchor="middle" font-weight="normal" fill="#000" stroke="#000" stroke-width="0.45" >0.25</text>
<line x1="1068.8" y1="2361.5" x2="1068.8" y2="2375.5" stroke="#000" stroke-width="3.6" />
<text transform="translate(1068.8,2411.5) scale(1,1.042)" font-size="36" text-anchor="middle" font-weight="normal" fill="#000" stroke="#000" stroke-width="0.45" >0.50</text>
<line x1="1160.5" y1="2361.5" x2="1160.5" y2="2375.5" stroke="#000" stroke-width="3.6" />
<text transform="translate(1160.5,2411.5) scale(1,1.042)" font-size="36" text-anchor="middle" font-weight="normal" fill="#000" stroke="#000" stroke-width="0.45" >0.75</text>
<line x1="868.3" y1="2321.9" x2="883.3" y2="2321.9" stroke="#000" stroke-width="3.6" />
<text transform="translate(859.4,2334.4) scale(1,1.042)" font-size="36" text-anchor="end" font-weight="normal" fill="#000" stroke="#000" stroke-width="0.45" >0</text>
<line x1="868.3" y1="2250.2" x2="883.3" y2="2250.2" stroke="#000" stroke-width="3.6" />
<text transform="translate(859.4,2262.7) scale(1,1.042)" font-size="36" text-anchor="end" font-weight="normal" fill="#000" stroke="#000" stroke-width="0.45" >10</text>
<line x1="868.3" y1="2178.6" x2="883.3" y2="2178.6" stroke="#000" stroke-width="3.6" />
<text transform="translate(859.4,2191.1) scale(1,1.042)" font-size="36" text-anchor="end" font-weight="normal" fill="#000" stroke="#000" stroke-width="0.45" >20</text>
<line x1="868.3" y1="2106.9" x2="883.3" y2="2106.9" stroke="#000" stroke-width="3.6" />
<text transform="translate(859.4,2119.4) scale(1,1.042)" font-size="36" text-anchor="end" font-weight="normal" fill="#000" stroke="#000" stroke-width="0.45" >30</text>
<line x1="868.3" y1="2035.3" x2="883.3" y2="2035.3" stroke="#000" stroke-width="3.6" />
<text transform="translate(859.4,2047.8) scale(1,1.042)" font-size="36" text-anchor="end" font-weight="normal" fill="#000" stroke="#000" stroke-width="0.45" >40</text>
<rect x="1243.4" y="2017.3" width="342.4" height="342.2" fill="#fff" stroke="none" stroke-width="0" />
<line x1="1243.4" y1="2321.9" x2="1585.8" y2="2321.9" stroke="#e3e3e3" stroke-width="2.2" />
<line x1="1243.4" y1="2250.2" x2="1585.8" y2="2250.2" stroke="#e3e3e3" stroke-width="2.2" />
<line x1="1243.4" y1="2178.6" x2="1585.8" y2="2178.6" stroke="#e3e3e3" stroke-width="2.2" />
<line x1="1243.4" y1="2106.9" x2="1585.8" y2="2106.9" stroke="#e3e3e3" stroke-width="2.2" />
<line x1="1243.4" y1="2035.3" x2="1585.8" y2="2035.3" stroke="#e3e3e3" stroke-width="2.2" />
<line x1="1335.2" y1="2017.3" x2="1335.2" y2="2359.5" stroke="#e3e3e3" stroke-width="2.2" />
<line x1="1426.9" y1="2017.3" x2="1426.9" y2="2359.5" stroke="#e3e3e3" stroke-width="2.2" />
<line x1="1518.7" y1="2017.3" x2="1518.7" y2="2359.5" stroke="#e3e3e3" stroke-width="2.2" />
<circle cx="1261.4" cy="2302.2" r="11.2" fill="#858585" stroke="none" stroke-width="0" />
<circle cx="1261.4" cy="2302.2" r="8.0" fill="#fdaa4f" stroke="none" stroke-width="0" />
<circle cx="1281.2" cy="2302.2" r="11.2" fill="#858585" stroke="none" stroke-width="0" />
<circle cx="1281.2" cy="2302.2" r="8.0" fill="#d4a5b5" stroke="none" stroke-width="0" />
<circle cx="1312.4" cy="2257.4" r="11.2" fill="#858585" stroke="none" stroke-width="0" />
<line x1="1312.4" y1="2275.3" x2="1312.4" y2="2239.5" stroke="#505050" stroke-width="4.4" />
<circle cx="1312.4" cy="2257.4" r="8.0" fill="#6aae9b" stroke="none" stroke-width="0" />
<circle cx="1309.5" cy="2250.4" r="11.2" fill="#858585" stroke="none" stroke-width="0" />
<line x1="1309.5" y1="2263.3" x2="1309.5" y2="2237.5" stroke="#505050" stroke-width="4.4" />
<circle cx="1309.5" cy="2250.4" r="8.0" fill="#377eb8" stroke="none" stroke-width="0" />
<circle cx="1324.1" cy="2264.2" r="11.2" fill="#858585" stroke="none" stroke-width="0" />
<line x1="1324.1" y1="2278.5" x2="1324.1" y2="2253.8" stroke="#505050" stroke-width="4.4" />
<circle cx="1324.1" cy="2264.2" r="8.0" fill="#a65628" stroke="none" stroke-width="0" />
<circle cx="1322.7" cy="2226.2" r="11.2" fill="#858585" stroke="none" stroke-width="0" />
<line x1="1322.7" y1="2241.6" x2="1322.7" y2="2212.3" stroke="#505050" stroke-width="4.4" />
<circle cx="1322.7" cy="2226.2" r="8.0" fill="#984ea3" stroke="none" stroke-width="0" />
<circle cx="1357.9" cy="2221.1" r="11.2" fill="#858585" stroke="none" stroke-width="0" />
<line x1="1357.9" y1="2229.7" x2="1357.9" y2="2207.5" stroke="#505050" stroke-width="4.4" />
<circle cx="1357.9" cy="2221.1" r="8.0" fill="#cccccc" stroke="none" stroke-width="0" />
<circle cx="1375.2" cy="2234.9" r="11.2" fill="#858585" stroke="none" stroke-width="0" />
<line x1="1375.2" y1="2252.8" x2="1375.2" y2="2222.7" stroke="#505050" stroke-width="4.4" />
<line x1="1359.7" y1="2234.9" x2="1392.4" y2="2234.9" stroke="#505050" stroke-width="4.4" />
<circle cx="1375.2" cy="2234.9" r="8.0" fill="#7fc86a" stroke="none" stroke-width="0" />
<circle cx="1370.7" cy="2302.2" r="11.2" fill="#858585" stroke="none" stroke-width="0" />
<line x1="1354.6" y1="2302.2" x2="1388.0" y2="2302.2" stroke="#505050" stroke-width="4.4" />
<circle cx="1370.7" cy="2302.2" r="8.0" fill="#4daf4a" stroke="none" stroke-width="0" />
<circle cx="1397.5" cy="2163.5" r="11.2" fill="#858585" stroke="none" stroke-width="0" />
<line x1="1397.5" y1="2185.0" x2="1397.5" y2="2141.3" stroke="#505050" stroke-width="4.4" />
<line x1="1384.0" y1="2163.5" x2="1411.5" y2="2163.5" stroke="#505050" stroke-width="4.4" />
<circle cx="1397.5" cy="2163.5" r="8.0" fill="#a6cee3" stroke="none" stroke-width="0" />
<circle cx="1415.9" cy="2125.6" r="11.2" fill="#858585" stroke="none" stroke-width="0" />
<line x1="1415.9" y1="2152.1" x2="1415.9" y2="2100.5" stroke="#505050" stroke-width="4.4" />
<line x1="1401.2" y1="2125.6" x2="1430.2" y2="2125.6" stroke="#505050" stroke-width="4.4" />
<circle cx="1415.9" cy="2125.6" r="8.0" fill="#eb9b94" stroke="none" stroke-width="0" />
<circle cx="1441.6" cy="2246.3" r="11.2" fill="#858585" stroke="none" stroke-width="0" />
<line x1="1441.6" y1="2265.3" x2="1441.6" y2="2228.0" stroke="#505050" stroke-width="4.4" />
<line x1="1425.1" y1="2246.3" x2="1459.6" y2="2246.3" stroke="#505050" stroke-width="4.4" />
<circle cx="1441.6" cy="2246.3" r="8.0" fill="#ff7f00" stroke="none" stroke-width="0" />
<circle cx="1485.6" cy="2132.3" r="11.2" fill="#858585" stroke="none" stroke-width="0" />
<line x1="1485.6" y1="2155.6" x2="1485.6" y2="2110.5" stroke="#505050" stroke-width="4.4" />
<line x1="1469.8" y1="2132.3" x2="1501.0" y2="2132.3" stroke="#505050" stroke-width="4.4" />
<circle cx="1485.6" cy="2132.3" r="8.0" fill="#ffff33" stroke="none" stroke-width="0" />
<circle cx="1504.0" cy="2107.1" r="11.2" fill="#858585" stroke="none" stroke-width="0" />
<line x1="1504.0" y1="2126.3" x2="1504.0" y2="2088.1" stroke="#505050" stroke-width="4.4" />
<line x1="1488.9" y1="2107.1" x2="1520.1" y2="2107.1" stroke="#505050" stroke-width="4.4" />
<circle cx="1504.0" cy="2107.1" r="8.0" fill="#e41a1c" stroke="none" stroke-width="0" />
<line x1="1261.4" y1="2302.2" x2="1504.0" y2="2125.6" stroke="#000" stroke-width="4.2" />
<rect x="1243.4" y="2017.3" width="342.4" height="342.2" fill="none" stroke="#7f7f7f" stroke-width="2.6" />
<line x1="1243.4" y1="2361.5" x2="1243.4" y2="2375.5" stroke="#000" stroke-width="3.6" />
<text transform="translate(1243.4,2411.5) scale(1,1.042)" font-size="36" text-anchor="middle" font-weight="normal" fill="#000" stroke="#000" stroke-width="0.45" >0.00</text>
<line x1="1335.2" y1="2361.5" x2="1335.2" y2="2375.5" stroke="#000" stroke-width="3.6" />
<text transform="translate(1335.2,2411.5) scale(1,1.042)" font-size="36" text-anchor="middle" font-weight="normal" fill="#000" stroke="#000" stroke-width="0.45" >0.25</text>
<line x1="1426.9" y1="2361.5" x2="1426.9" y2="2375.5" stroke="#000" stroke-width="3.6" />
<text transform="translate(1426.9,2411.5) scale(1,1.042)" font-size="36" text-anchor="middle" font-weight="normal" fill="#000" stroke="#000" stroke-width="0.45" >0.50</text>
<line x1="1518.7" y1="2361.5" x2="1518.7" y2="2375.5" stroke="#000" stroke-width="3.6" />
<text transform="translate(1518.7,2411.5) scale(1,1.042)" font-size="36" text-anchor="middle" font-weight="normal" fill="#000" stroke="#000" stroke-width="0.45" >0.75</text>
<rect x="1601.4" y="2017.3" width="342.7" height="342.2" fill="#fff" stroke="none" stroke-width="0" />
<line x1="1601.4" y1="2321.9" x2="1944.1" y2="2321.9" stroke="#e3e3e3" stroke-width="2.2" />
<line x1="1601.4" y1="2250.2" x2="1944.1" y2="2250.2" stroke="#e3e3e3" stroke-width="2.2" />
<line x1="1601.4" y1="2178.6" x2="1944.1" y2="2178.6" stroke="#e3e3e3" stroke-width="2.2" />
<line x1="1601.4" y1="2106.9" x2="1944.1" y2="2106.9" stroke="#e3e3e3" stroke-width="2.2" />
<line x1="1601.4" y1="2035.3" x2="1944.1" y2="2035.3" stroke="#e3e3e3" stroke-width="2.2" />
<line x1="1693.2" y1="2017.3" x2="1693.2" y2="2359.5" stroke="#e3e3e3" stroke-width="2.2" />
<line x1="1784.9" y1="2017.3" x2="1784.9" y2="2359.5" stroke="#e3e3e3" stroke-width="2.2" />
<line x1="1876.7" y1="2017.3" x2="1876.7" y2="2359.5" stroke="#e3e3e3" stroke-width="2.2" />
<circle cx="1627.5" cy="2278.0" r="11.2" fill="#858585" stroke="none" stroke-width="0" />
<circle cx="1627.5" cy="2278.0" r="8.0" fill="#d4a5b5" stroke="none" stroke-width="0" />
<circle cx="1685.1" cy="2235.5" r="11.2" fill="#858585" stroke="none" stroke-width="0" />
<line x1="1685.1" y1="2253.8" x2="1685.1" y2="2219.4" stroke="#505050" stroke-width="4.4" />
<circle cx="1685.1" cy="2235.5" r="8.0" fill="#6aae9b" stroke="none" stroke-width="0" />
<circle cx="1700.9" cy="2227.3" r="11.2" fill="#858585" stroke="none" stroke-width="0" />
<line x1="1700.9" y1="2235.2" x2="1700.9" y2="2219.4" stroke="#505050" stroke-width="4.4" />
<circle cx="1700.9" cy="2227.3" r="8.0" fill="#cccccc" stroke="none" stroke-width="0" />
<circle cx="1707.5" cy="2233.1" r="11.2" fill="#858585" stroke="none" stroke-width="0" />
<line x1="1707.5" y1="2250.3" x2="1707.5" y2="2220.9" stroke="#505050" stroke-width="4.4" />
<circle cx="1707.5" cy="2233.1" r="8.0" fill="#7fc86a" stroke="none" stroke-width="0" />
<circle cx="1718.1" cy="2203.1" r="11.2" fill="#858585" stroke="none" stroke-width="0" />
<line x1="1718.1" y1="2228.2" x2="1718.1" y2="2178.0" stroke="#505050" stroke-width="4.4" />
<circle cx="1718.1" cy="2203.1" r="8.0" fill="#fdaa4f" stroke="none" stroke-width="0" />
<circle cx="1736.8" cy="2233.1" r="11.2" fill="#858585" stroke="none" stroke-width="0" />
<line x1="1736.8" y1="2251.7" x2="1736.8" y2="2215.2" stroke="#505050" stroke-width="4.4" />
<line x1="1724.7" y1="2233.1" x2="1748.9" y2="2233.1" stroke="#505050" stroke-width="4.4" />
<circle cx="1736.8" cy="2233.1" r="8.0" fill="#4daf4a" stroke="none" stroke-width="0" />
<circle cx="1774.3" cy="2243.5" r="11.2" fill="#858585" stroke="none" stroke-width="0" />
<line x1="1774.3" y1="2259.3" x2="1774.3" y2="2231.3" stroke="#505050" stroke-width="4.4" />
<circle cx="1774.3" cy="2243.5" r="8.0" fill="#ff7f00" stroke="none" stroke-width="0" />
<circle cx="1779.4" cy="2234.9" r="11.2" fill="#858585" stroke="none" stroke-width="0" />
<line x1="1779.4" y1="2250.4" x2="1779.4" y2="2217.7" stroke="#505050" stroke-width="4.4" />
<circle cx="1779.4" cy="2234.9" r="8.0" fill="#377eb8" stroke="none" stroke-width="0" />
<circle cx="1805.1" cy="2218.3" r="11.2" fill="#858585" stroke="none" stroke-width="0" />
<line x1="1805.1" y1="2233.3" x2="1805.1" y2="2206.1" stroke="#505050" stroke-width="4.4" />
<line x1="1792.2" y1="2218.3" x2="1817.9" y2="2218.3" stroke="#505050" stroke-width="4.4" />
<circle cx="1805.1" cy="2218.3" r="8.0" fill="#984ea3" stroke="none" stroke-width="0" />
<circle cx="1817.9" cy="2241.1" r="11.2" fill="#858585" stroke="none" stroke-width="0" />
<line x1="1817.9" y1="2259.0" x2="1817.9" y2="2224.6" stroke="#505050" stroke-width="4.4" />
<line x1="1805.8" y1="2241.1" x2="1831.9" y2="2241.1" stroke="#505050" stroke-width="4.4" />
<circle cx="1817.9" cy="2241.1" r="8.0" fill="#a6cee3" stroke="none" stroke-width="0" />
<circle cx="1823.1" cy="2173.4" r="11.2" fill="#858585" stroke="none" stroke-width="0" />
<line x1="1823.1" y1="2193.5" x2="1823.1" y2="2150.5" stroke="#505050" stroke-width="4.4" />
<line x1="1811.0" y1="2173.4" x2="1835.2" y2="2173.4" stroke="#505050" stroke-width="4.4" />
<circle cx="1823.1" cy="2173.4" r="8.0" fill="#eb9b94" stroke="none" stroke-width="0" />
<circle cx="1902.3" cy="2134.7" r="11.2" fill="#858585" stroke="none" stroke-width="0" />
<line x1="1902.3" y1="2151.9" x2="1902.3" y2="2115.4" stroke="#505050" stroke-width="4.4" />
<circle cx="1902.3" cy="2134.7" r="8.0" fill="#e41a1c" stroke="none" stroke-width="0" />
<circle cx="1906.0" cy="2152.8" r="11.2" fill="#858585" stroke="none" stroke-width="0" />
<line x1="1906.0" y1="2172.8" x2="1906.0" y2="2144.9" stroke="#505050" stroke-width="4.4" />
<circle cx="1906.0" cy="2152.8" r="8.0" fill="#ffff33" stroke="none" stroke-width="0" />
<line x1="1627.5" y1="2272.9" x2="1906.0" y2="2163.0" stroke="#000" stroke-width="4.2" />
<rect x="1601.4" y="2017.3" width="342.7" height="342.2" fill="none" stroke="#7f7f7f" stroke-width="2.6" />
<line x1="1601.4" y1="2361.5" x2="1601.4" y2="2375.5" stroke="#000" stroke-width="3.6" />
<text transform="translate(1601.4,2411.5) scale(1,1.042)" font-size="36" text-anchor="middle" font-weight="normal" fill="#000" stroke="#000" stroke-width="0.45" >0.00</text>
<line x1="1693.2" y1="2361.5" x2="1693.2" y2="2375.5" stroke="#000" stroke-width="3.6" />
<text transform="translate(1693.2,2411.5) scale(1,1.042)" font-size="36" text-anchor="middle" font-weight="normal" fill="#000" stroke="#000" stroke-width="0.45" >0.25</text>
<line x1="1784.9" y1="2361.5" x2="1784.9" y2="2375.5" stroke="#000" stroke-width="3.6" />
<text transform="translate(1784.9,2411.5) scale(1,1.042)" font-size="36" text-anchor="middle" font-weight="normal" fill="#000" stroke="#000" stroke-width="0.45" >0.50</text>
<line x1="1876.7" y1="2361.5" x2="1876.7" y2="2375.5" stroke="#000" stroke-width="3.6" />
<text transform="translate(1876.7,2411.5) scale(1,1.042)" font-size="36" text-anchor="middle" font-weight="normal" fill="#000" stroke="#000" stroke-width="0.45" >0.75</text>
<text transform="translate(802,2196.5) rotate(-90) scale(1,1.042)" x="0" y="0" font-size="42" text-anchor="middle" stroke="#000" stroke-width="0.45">betweenness centrality</text>
<text transform="translate(1414.6,2466.0) scale(1,1.042)" font-size="41.5" text-anchor="middle" font-weight="normal" fill="#000" stroke="#000" stroke-width="0.45" >eigenvector centrality</text>
<circle cx="1963.4" cy="2025.4" r="5.9" fill="#d4a5b5" stroke="none" stroke-width="0" />
<text transform="translate(1982.3,2035.9) scale(1,1.042)" font-size="29" text-anchor="start" font-weight="normal" fill="#000" stroke="#000" stroke-width="0.45" >A1</text>
<circle cx="1963.4" cy="2054.7" r="5.9" fill="#a65628" stroke="none" stroke-width="0" />
<text transform="translate(1982.3,2065.2) scale(1,1.042)" font-size="29" text-anchor="start" font-weight="normal" fill="#000" stroke="#000" stroke-width="0.45" >AS</text>
<circle cx="1963.4" cy="2083.9" r="5.9" fill="#cccccc" stroke="none" stroke-width="0" />
<text transform="translate(1982.3,2094.4) scale(1,1.042)" font-size="29" text-anchor="start" font-weight="normal" fill="#000" stroke="#000" stroke-width="0.45" >barrel</text>
<circle cx="1963.4" cy="2113.2" r="5.9" fill="#6aae9b" stroke="none" stroke-width="0" />
<text transform="translate(1982.3,2123.7) scale(1,1.042)" font-size="29" text-anchor="start" font-weight="normal" fill="#000" stroke="#000" stroke-width="0.45" >FL</text>
<circle cx="1963.4" cy="2142.4" r="5.9" fill="#7fc86a" stroke="none" stroke-width="0" />
<text transform="translate(1982.3,2152.9) scale(1,1.042)" font-size="29" text-anchor="start" font-weight="normal" fill="#000" stroke="#000" stroke-width="0.45" >HL</text>
<circle cx="1963.4" cy="2171.7" r="5.9" fill="#fdaa4f" stroke="none" stroke-width="0" />
<text transform="translate(1982.3,2182.2) scale(1,1.042)" font-size="29" text-anchor="start" font-weight="normal" fill="#000" stroke="#000" stroke-width="0.45" >LS</text>
<circle cx="1963.4" cy="2200.9" r="5.9" fill="#e41a1c" stroke="none" stroke-width="0" />
<text transform="translate(1982.3,2211.4) scale(1,1.042)" font-size="29" text-anchor="start" font-weight="normal" fill="#000" stroke="#000" stroke-width="0.45" >M1</text>
<circle cx="1963.4" cy="2230.2" r="5.9" fill="#ffff33" stroke="none" stroke-width="0" />
<text transform="translate(1982.3,2240.7) scale(1,1.042)" font-size="29" text-anchor="start" font-weight="normal" fill="#000" stroke="#000" stroke-width="0.45" >M2</text>
<circle cx="1963.4" cy="2259.4" r="5.9" fill="#eb9b94" stroke="none" stroke-width="0" />
<text transform="translate(1982.3,2269.9) scale(1,1.042)" font-size="29" text-anchor="start" font-weight="normal" fill="#000" stroke="#000" stroke-width="0.45" >PPC</text>
<circle cx="1963.4" cy="2288.7" r="5.9" fill="#ff7f00" stroke="none" stroke-width="0" />
<text transform="translate(1982.3,2299.2) scale(1,1.042)" font-size="29" text-anchor="start" font-weight="normal" fill="#000" stroke="#000" stroke-width="0.45" >RSA</text>
<circle cx="1963.4" cy="2317.9" r="5.9" fill="#4daf4a" stroke="none" stroke-width="0" />
<text transform="translate(1982.3,2328.4) scale(1,1.042)" font-size="29" text-anchor="start" font-weight="normal" fill="#000" stroke="#000" stroke-width="0.45" >T</text>
<circle cx="1963.4" cy="2347.2" r="5.9" fill="#377eb8" stroke="none" stroke-width="0" />
<text transform="translate(1982.3,2357.7) scale(1,1.042)" font-size="29" text-anchor="start" font-weight="normal" fill="#000" stroke="#000" stroke-width="0.45" >V1</text>
<circle cx="1963.4" cy="2376.4" r="5.9" fill="#984ea3" stroke="none" stroke-width="0" />
<text transform="translate(1982.3,2386.9) scale(1,1.042)" font-size="29" text-anchor="start" font-weight="normal" fill="#000" stroke="#000" stroke-width="0.45" >V2L</text>
<circle cx="1963.4" cy="2405.7" r="5.9" fill="#a6cee3" stroke="none" stroke-width="0" />
<text transform="translate(1982.3,2416.2) scale(1,1.042)" font-size="29" text-anchor="start" font-weight="normal" fill="#000" stroke="#000" stroke-width="0.45" >V2M</text>
<rect x="0" y="0" width="2077" height="4" fill="#000"/><rect x="0" y="0" width="4.1" height="2623" fill="#000"/><rect x="2072.6" y="0" width="4.4" height="2623" fill="#000"/><rect x="0" y="2619" width="2077" height="4" fill="#000"/>
</svg>
</body></html>
